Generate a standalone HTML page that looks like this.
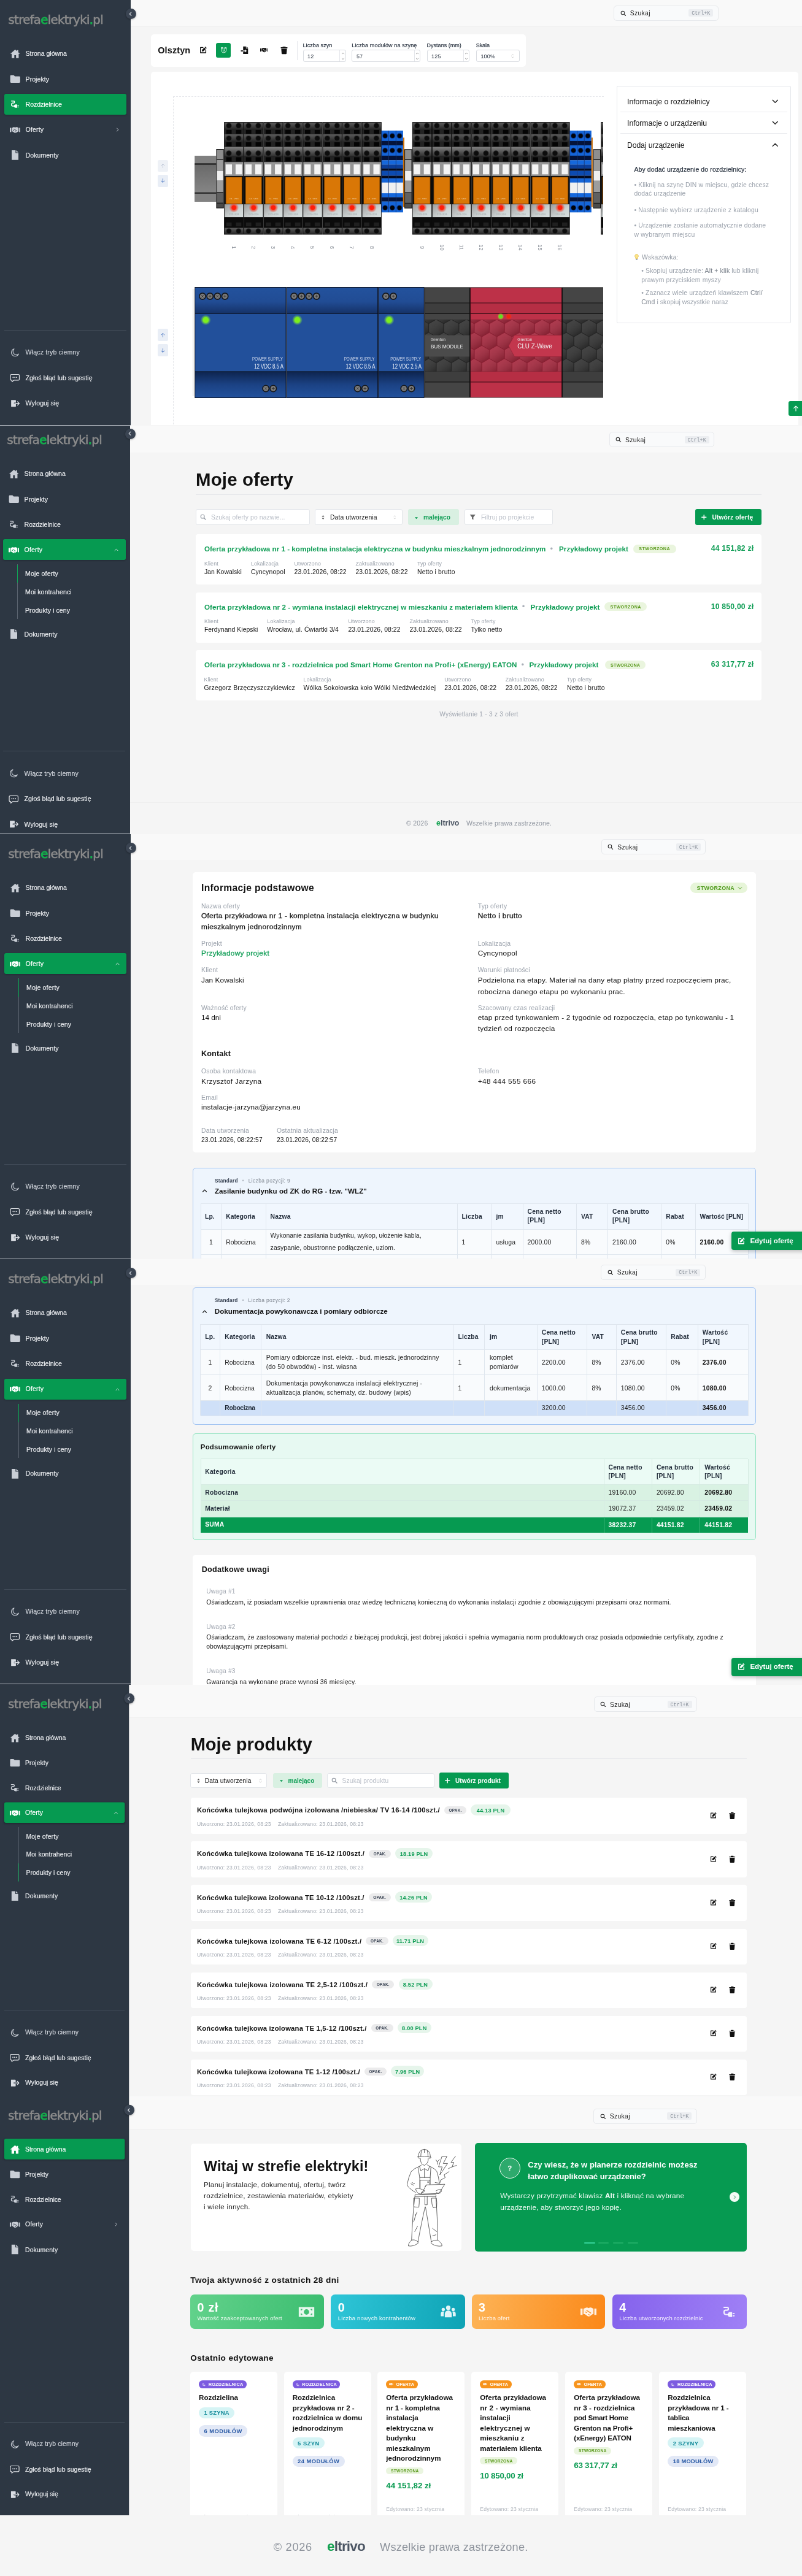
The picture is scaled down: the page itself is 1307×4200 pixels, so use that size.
<!DOCTYPE html><html lang="pl"><head><meta charset="utf-8"><title>strefaelektryki.pl</title><style>
html,body{margin:0;padding:0}
body{width:1307px;height:4200px;position:relative;overflow:hidden;background:#f5f5f5;font-family:'Liberation Sans','Noto Sans CJK SC',sans-serif;-webkit-font-smoothing:antialiased}
.a{position:absolute;display:block}
.t{position:absolute;white-space:nowrap;display:block}
.sec{position:absolute;left:0;width:1307px;overflow:hidden;will-change:transform}
.ft{position:absolute;left:0;top:4101px;width:1307px;height:99px;will-change:transform}
.fr{position:absolute;transform-origin:0 0;width:1340px}
</style></head><body><div class="sec" style="top:0.0px;height:693.2px"><div class="fr" style="left:0.0px;top:0.0px;"><div class="a" style="left:213.4px;top:0.0px;width:1100.0px;height:43.4px;background:#f9f9f9;border-bottom:1px solid #efefef;"></div><div class="a" style="left:1000.3px;top:8.7px;width:170.5px;height:25.2px;background:#f9fafb;border-radius:5px;border:1px solid #e7e9ec;box-sizing:border-box;"></div><svg class="a" style="left:1010.8px;top:16.5px;" width="9.6" height="9.6" viewBox="0 0 16 16"><circle fill="none" stroke="#2a2a2a" stroke-linecap="round" stroke-linejoin="round" stroke-width="1.7" cx="6.6" cy="6.6" r="4.7"/><path fill="none" stroke="#2a2a2a" stroke-linecap="round" stroke-linejoin="round" stroke-width="2" d="M10.3 10.3 L14.4 14.4"/></svg><span class="t" style="letter-spacing:0.302px;top:14px;font-size:10.4px;line-height:15px;color:#222;left:1026.8px;">Szukaj</span><div class="a" style="left:1122.3px;top:15.3px;width:40.0px;height:12.0px;background:#eceef1;border-radius:2px;"></div><span class="t" style="top:15px;font-size:8.4px;line-height:14px;color:#8b929c;left:1142.3px;transform:translateX(-50%);font-family:'Liberation Mono',monospace;">Ctrl+K</span><div class="a" style="left:245.8px;top:55.9px;width:610.8px;height:52.8px;background:#fff;border-radius:5px;"></div><span class="t" style="letter-spacing:0.131px;top:72px;font-size:14.4px;line-height:20px;color:#111;font-weight:700;left:257.3px;">Olsztyn</span><svg class="a" style="left:324.8px;top:75.4px;" width="12.8" height="12.8" viewBox="0 0 16 16"><path fill="#111" d="M11.9 1.1 L14.9 4.1 L13.6 5.4 L10.6 2.4 Z M9.9 3.1 L12.9 6.1 L8.3 10.7 L4.9 11.3 L5.4 7.7 Z"/><path fill="none" stroke="#111" stroke-linecap="round" stroke-linejoin="round" stroke-width="1.7" stroke-linecap="butt" d="M7.2 3 H2.2 V13.8 H13 V8.8"/></svg><div class="a" style="left:352.1px;top:69.9px;width:24.4px;height:23.7px;background:#069a51;border-radius:3px;"></div><svg class="a" style="left:358.5px;top:76.4px;" width="11.6" height="11.6" viewBox="0 0 16 16"><path fill="none" stroke="#fff" stroke-linecap="round" stroke-linejoin="round" stroke-width="1.1" stroke-linecap="butt" d="M2.6 2 H6 V8.2 a2 2 0 0 0 4 0 V2 H13.4 V8.2 a5.4 5.4 0 0 1-10.8 0 Z M2.6 4.6 H6 M10 4.6 H13.4"/></svg><svg class="a" style="left:391.6px;top:75.1px;" width="13.6" height="13.6" viewBox="0 0 16 16"><path fill="#111" d="M5 0.8 h5.4 v4 h4 V15.2 H5 V10.4 h3.4 v2 l3.6-3 l-3.6-3 v2 H5 Z M11.4 0.8 L14.4 3.8 H11.4 Z"/><rect fill="#111" x="0.6" y="8.4" width="4.4" height="2"/></svg><svg class="a" style="left:423.6px;top:75.2px;" width="12.8" height="12.8" viewBox="0 0 16 16"><rect fill="#111" x="0" y="4.9" width="2.1" height="6.4"/><rect fill="#111" x="13.9" y="4.9" width="2.1" height="6.4"/><path fill="#111" fill-rule="evenodd" d="M3 5.09 L5.6 3.96 Q6.4 3.7 7.2 4.05 L8 4.4 L9.6 3.87 Q10.3 3.7 11 3.96 L13 5.09 V10.4 H12.3 L9.5 12.4 Q8.3 13.1 7.1 12.4 L4.3 10.4 H3 Z M5.7 6.92 L6.3 6.31 L10.9 9.27 L10.3 9.88 Z M7.6 10.84 L8.1 10.31 L9.7 11.36 L9.2 11.88 Z M4.6 8.4 L5.2 7.88 L6.6 8.92 L6 9.44 Z"/></svg><svg class="a" style="left:455.7px;top:74.9px;" width="14" height="14" viewBox="0 0 16 16"><path fill="#111" d="M5.6 1 h4.8 l.7 1.4 h3.1 v1.8 H1.8 V2.4 h3.1 Z M2.7 5.2 h10.6 l-.7 8.8 a1.3 1.3 0 0 1-1.3 1.2 H4.7 a1.3 1.3 0 0 1-1.3-1.2 Z"/></svg><div class="a" style="left:483.6px;top:66.6px;width:1.0px;height:31.8px;background:#e5e7eb;"></div><span class="t" style="letter-spacing:0.079px;top:67px;font-size:9px;line-height:14px;color:#1f2937;font-weight:500;left:493.5px;-webkit-text-stroke:0.15px #1f2937;">Liczba szyn</span><div class="a" style="left:493.5px;top:81.4px;width:70.3px;height:19.6px;background:#fff;border-radius:3px;border:1px solid #d9dce1;box-sizing:border-box;"></div><span class="t" style="top:85px;font-size:9px;line-height:14px;color:#1f2937;left:501.1px;letter-spacing:0.2px;">12</span><div class="a" style="left:553.3px;top:82.4px;width:1.0px;height:17.6px;background:#e5e7eb;"></div><svg class="a" style="left:555.5px;top:84.2px;" width="6" height="6" viewBox="0 0 16 16"><path fill="none" stroke="#555" stroke-linecap="round" stroke-linejoin="round" stroke-width="1.6" d="M3.6 10.2 L8 5.8 L12.4 10.2"/></svg><svg class="a" style="left:555.5px;top:92.6px;" width="6" height="6" viewBox="0 0 16 16"><path fill="none" stroke="#555" stroke-linecap="round" stroke-linejoin="round" stroke-width="1.6" d="M3.6 5.8 L8 10.2 L12.4 5.8"/></svg><span class="t" style="letter-spacing:0.136px;top:67px;font-size:9px;line-height:14px;color:#1f2937;font-weight:500;left:573.3px;-webkit-text-stroke:0.15px #1f2937;">Liczba modułów na szynę</span><div class="a" style="left:573.3px;top:81.4px;width:112.2px;height:19.6px;background:#fff;border-radius:3px;border:1px solid #d9dce1;box-sizing:border-box;"></div><span class="t" style="top:85px;font-size:9px;line-height:14px;color:#1f2937;left:580.9px;letter-spacing:0.2px;">57</span><div class="a" style="left:675.0px;top:82.4px;width:1.0px;height:17.6px;background:#e5e7eb;"></div><svg class="a" style="left:677.2px;top:84.2px;" width="6" height="6" viewBox="0 0 16 16"><path fill="none" stroke="#555" stroke-linecap="round" stroke-linejoin="round" stroke-width="1.6" d="M3.6 10.2 L8 5.8 L12.4 10.2"/></svg><svg class="a" style="left:677.2px;top:92.6px;" width="6" height="6" viewBox="0 0 16 16"><path fill="none" stroke="#555" stroke-linecap="round" stroke-linejoin="round" stroke-width="1.6" d="M3.6 5.8 L8 10.2 L12.4 5.8"/></svg><span class="t" style="letter-spacing:0.025px;top:67px;font-size:9px;line-height:14px;color:#1f2937;font-weight:500;left:695.5px;-webkit-text-stroke:0.15px #1f2937;">Dystans (mm)</span><div class="a" style="left:695.5px;top:81.4px;width:69.8px;height:19.6px;background:#fff;border-radius:3px;border:1px solid #d9dce1;box-sizing:border-box;"></div><span class="t" style="top:85px;font-size:9px;line-height:14px;color:#1f2937;left:703.1px;letter-spacing:0.2px;">125</span><div class="a" style="left:754.8px;top:82.4px;width:1.0px;height:17.6px;background:#e5e7eb;"></div><svg class="a" style="left:757.0px;top:84.2px;" width="6" height="6" viewBox="0 0 16 16"><path fill="none" stroke="#555" stroke-linecap="round" stroke-linejoin="round" stroke-width="1.6" d="M3.6 10.2 L8 5.8 L12.4 10.2"/></svg><svg class="a" style="left:757.0px;top:92.6px;" width="6" height="6" viewBox="0 0 16 16"><path fill="none" stroke="#555" stroke-linecap="round" stroke-linejoin="round" stroke-width="1.6" d="M3.6 5.8 L8 10.2 L12.4 5.8"/></svg><span class="t" style="letter-spacing:-0.103px;top:67px;font-size:9px;line-height:14px;color:#1f2937;font-weight:500;left:775.8px;-webkit-text-stroke:0.15px #1f2937;">Skala</span><div class="a" style="left:775.8px;top:81.4px;width:70.8px;height:19.6px;background:#fff;border-radius:3px;border:1px solid #d9dce1;box-sizing:border-box;"></div><span class="t" style="top:85px;font-size:9px;line-height:14px;color:#1f2937;left:783.4px;letter-spacing:0.2px;">100%</span><svg class="a" style="left:832.7px;top:87.0px;" width="4.8" height="4.8" viewBox="0 0 16 16"><path fill="none" stroke="#888" stroke-linecap="round" stroke-linejoin="round" stroke-width="1.6" d="M3.6 10.2 L8 5.8 L12.4 10.2"/></svg><svg class="a" style="left:832.7px;top:91.2px;" width="4.8" height="4.8" viewBox="0 0 16 16"><path fill="none" stroke="#888" stroke-linecap="round" stroke-linejoin="round" stroke-width="1.6" d="M3.6 5.8 L8 10.2 L12.4 5.8"/></svg><div class="a" style="left:245.8px;top:117.2px;width:1054.9px;height:600.0px;background:#fff;border-radius:5px;"></div><div class="a" style="left:281.8px;top:157.4px;width:702.4px;height:560.0px;border:1px dashed #e3e5e9;box-sizing:border-box;border-right:none;border-bottom:none;"></div><div class="a" style="left:257.3px;top:260.5px;width:16.6px;height:19.8px;background:#eef1f6;border-radius:2.5px;"></div><svg class="a" style="left:261.1px;top:265.9px;" width="9" height="9" viewBox="0 0 16 16"><path fill="none" stroke="#b4bfd1" stroke-linecap="round" stroke-linejoin="round" stroke-width="1.5" d="M8 13.4 V2.8 M3.6 7.2 L8 2.8 L12.4 7.2"/></svg><div class="a" style="left:257.3px;top:284.6px;width:16.6px;height:20.2px;background:#e9eef6;border-radius:2.5px;"></div><svg class="a" style="left:261.1px;top:290.2px;" width="9" height="9" viewBox="0 0 16 16"><path fill="none" stroke="#2b5fb8" stroke-linecap="round" stroke-linejoin="round" stroke-width="1.5" d="M8 2.6 V13.2 M3.6 8.8 L8 13.2 L12.4 8.8"/></svg><div class="a" style="left:257.3px;top:536.4px;width:16.6px;height:19.9px;background:#e9eef6;border-radius:2.5px;"></div><svg class="a" style="left:261.1px;top:541.8px;" width="9" height="9" viewBox="0 0 16 16"><path fill="none" stroke="#2b5fb8" stroke-linecap="round" stroke-linejoin="round" stroke-width="1.5" d="M8 13.4 V2.8 M3.6 7.2 L8 2.8 L12.4 7.2"/></svg><div class="a" style="left:257.3px;top:561.1px;width:16.6px;height:20.3px;background:#e9eef6;border-radius:2.5px;"></div><svg class="a" style="left:261.1px;top:566.8px;" width="9" height="9" viewBox="0 0 16 16"><path fill="none" stroke="#2b5fb8" stroke-linecap="round" stroke-linejoin="round" stroke-width="1.5" d="M8 2.6 V13.2 M3.6 8.8 L8 13.2 L12.4 8.8"/></svg><svg class="a" style="left:282px;top:158px" width="700.7" height="536" viewBox="282 158 700.7 536"><linearGradient id="gA" x1="0" y1="0" x2="0" y2="1"><stop offset="0" stop-color="#5c5c5c"/><stop offset="1" stop-color="#262626"/></linearGradient><linearGradient id="gB" x1="0" y1="0" x2="0" y2="1"><stop offset="0" stop-color="#808080"/><stop offset="1" stop-color="#2a2a2a"/></linearGradient><linearGradient id="gS" x1="0" y1="0" x2="1" y2="1"><stop offset="0" stop-color="#9c9c9c"/><stop offset="0.6" stop-color="#cdd3d3"/><stop offset="1" stop-color="#d8e0e0"/></linearGradient><radialGradient id="gR"><stop offset="0.35" stop-color="#ff2a12" stop-opacity="0.95"/><stop offset="1" stop-color="#ff2a12" stop-opacity="0"/></radialGradient><radialGradient id="gG"><stop offset="0.4" stop-color="#8cff2a" stop-opacity="0.9"/><stop offset="1" stop-color="#8cff2a" stop-opacity="0"/></radialGradient><linearGradient id="gP1" x1="0" y1="0" x2="0" y2="1"><stop offset="0" stop-color="#23529d"/><stop offset="0.55" stop-color="#214c94"/><stop offset="1" stop-color="#153268"/></linearGradient><linearGradient id="gP2" x1="0" y1="0" x2="0" y2="1"><stop offset="0" stop-color="#0e2550"/><stop offset="0.5" stop-color="#1b4284"/><stop offset="1" stop-color="#23519c"/></linearGradient><linearGradient id="gHex" x1="0" y1="0" x2="0.6" y2="1"><stop offset="0" stop-color="#fff" stop-opacity="0.07"/><stop offset="1" stop-color="#000" stop-opacity="0.22"/></linearGradient><linearGradient id="gRail" x1="0" y1="0" x2="0" y2="1"><stop offset="0" stop-color="#6a6a6a"/><stop offset="1" stop-color="#858585"/></linearGradient><rect x="317.2" y="253.9" width="35.2" height="74.9" fill="#808080"/><rect x="317.2" y="266.4" width="35.2" height="2.3" fill="#111"/><rect x="317.2" y="268.7" width="35.2" height="45.1" fill="url(#gRail)"/><rect x="317.2" y="313.8" width="35.2" height="2" fill="#111"/><rect x="317.2" y="315.8" width="35.2" height="13" fill="#828282"/><rect x="352.40" y="243.00" width="12.4" height="96.6" fill="#0d0d0d"/><rect x="353.40" y="244.00" width="10.4" height="15.60" fill="#8e8e8e"/><rect x="353.40" y="260.80" width="10.4" height="17.80" fill="#9b9b9b"/><rect x="353.40" y="278.60" width="10.4" height="16.00" fill="#f0f0f0"/><rect x="353.40" y="294.60" width="10.4" height="18.60" fill="#9d9d9d"/><rect x="353.40" y="314.20" width="10.4" height="16.40" fill="#606060"/><rect x="353.40" y="331.60" width="10.4" height="7.00" fill="#4a4a4a"/><rect x="365.10" y="199.10" width="32.1" height="183.4" fill="#0b0b0b"/><rect x="365.90" y="199.90" width="30.50" height="11.10" fill="url(#gA)"/><circle cx="373.00" cy="205.00" r="4.7" fill="#2a2a2a"/><circle cx="373.00" cy="205.00" r="3.7" fill="#0c0c0c"/><circle cx="388.80" cy="205.00" r="4.7" fill="#2a2a2a"/><circle cx="388.80" cy="205.00" r="3.7" fill="#0c0c0c"/><rect x="365.90" y="218.80" width="30.50" height="12.20" fill="url(#gA)"/><circle cx="373.00" cy="225.60" r="4.7" fill="#2a2a2a"/><circle cx="373.00" cy="225.60" r="3.7" fill="#0c0c0c"/><circle cx="388.80" cy="225.60" r="4.7" fill="#2a2a2a"/><circle cx="388.80" cy="225.60" r="3.7" fill="#0c0c0c"/><rect x="365.90" y="239.40" width="30.50" height="16.10" fill="url(#gB)"/><circle cx="373.00" cy="250.00" r="4.7" fill="#2a2a2a"/><circle cx="373.00" cy="250.00" r="3.7" fill="#0c0c0c"/><circle cx="388.80" cy="250.00" r="4.7" fill="#2a2a2a"/><circle cx="388.80" cy="250.00" r="3.7" fill="#0c0c0c"/><rect x="365.90" y="211.00" width="30.50" height="7.80" fill="#232323"/><rect x="368.70" y="211.90" width="8.8" height="6.00" fill="#040404"/><rect x="384.50" y="211.90" width="8.8" height="6.00" fill="#040404"/><rect x="365.90" y="231.00" width="30.50" height="8.40" fill="#232323"/><rect x="368.70" y="231.90" width="8.8" height="6.60" fill="#040404"/><rect x="384.50" y="231.90" width="8.8" height="6.60" fill="#040404"/><rect x="365.90" y="255.50" width="30.50" height="8.70" fill="#232323"/><rect x="368.70" y="256.40" width="8.8" height="6.90" fill="#040404"/><rect x="384.50" y="256.40" width="8.8" height="6.90" fill="#040404"/><rect x="365.90" y="264.20" width="30.50" height="22.7" fill="#969696"/><rect x="367.80" y="268.10" width="10.2" height="16.2" fill="#f4f4f4"/><rect x="383.90" y="268.10" width="10.2" height="16.2" fill="#f4f4f4"/><rect x="367.50" y="288.30" width="27.30" height="44.4" fill="#5a3206"/><rect x="368.40" y="289.10" width="25.50" height="43" fill="#d97706"/><text x="381.15" y="325.10" font-size="4.4" fill="#efd2a8" text-anchor="middle" font-family="Liberation Mono,monospace">24 VDC</text><rect x="365.90" y="333.10" width="30.50" height="21" fill="url(#gS)"/><text x="381.15" y="350.70" font-size="4.6" fill="#a9b3b3" text-anchor="middle" font-family="Liberation Sans,sans-serif">039-304</text><circle cx="381.15" cy="338.50" r="8" fill="url(#gR)"/><circle cx="381.15" cy="338.50" r="3.6" fill="#ff1d0a"/><rect x="368.70" y="362.70" width="8.8" height="6.4" fill="#1f1f1f"/><rect x="384.50" y="362.70" width="8.8" height="6.4" fill="#1f1f1f"/><rect x="365.90" y="371.50" width="30.50" height="10.4" fill="url(#gA)"/><circle cx="373.00" cy="376.80" r="4.5" fill="#2a2a2a"/><circle cx="373.00" cy="376.80" r="3.6" fill="#0c0c0c"/><circle cx="388.80" cy="376.80" r="4.5" fill="#2a2a2a"/><circle cx="388.80" cy="376.80" r="3.6" fill="#0c0c0c"/><rect x="397.19" y="199.10" width="32.1" height="183.4" fill="#0b0b0b"/><rect x="397.99" y="199.90" width="30.50" height="11.10" fill="url(#gA)"/><circle cx="405.09" cy="205.00" r="4.7" fill="#2a2a2a"/><circle cx="405.09" cy="205.00" r="3.7" fill="#0c0c0c"/><circle cx="420.89" cy="205.00" r="4.7" fill="#2a2a2a"/><circle cx="420.89" cy="205.00" r="3.7" fill="#0c0c0c"/><rect x="397.99" y="218.80" width="30.50" height="12.20" fill="url(#gA)"/><circle cx="405.09" cy="225.60" r="4.7" fill="#2a2a2a"/><circle cx="405.09" cy="225.60" r="3.7" fill="#0c0c0c"/><circle cx="420.89" cy="225.60" r="4.7" fill="#2a2a2a"/><circle cx="420.89" cy="225.60" r="3.7" fill="#0c0c0c"/><rect x="397.99" y="239.40" width="30.50" height="16.10" fill="url(#gB)"/><circle cx="405.09" cy="250.00" r="4.7" fill="#2a2a2a"/><circle cx="405.09" cy="250.00" r="3.7" fill="#0c0c0c"/><circle cx="420.89" cy="250.00" r="4.7" fill="#2a2a2a"/><circle cx="420.89" cy="250.00" r="3.7" fill="#0c0c0c"/><rect x="397.99" y="211.00" width="30.50" height="7.80" fill="#232323"/><rect x="400.79" y="211.90" width="8.8" height="6.00" fill="#040404"/><rect x="416.59" y="211.90" width="8.8" height="6.00" fill="#040404"/><rect x="397.99" y="231.00" width="30.50" height="8.40" fill="#232323"/><rect x="400.79" y="231.90" width="8.8" height="6.60" fill="#040404"/><rect x="416.59" y="231.90" width="8.8" height="6.60" fill="#040404"/><rect x="397.99" y="255.50" width="30.50" height="8.70" fill="#232323"/><rect x="400.79" y="256.40" width="8.8" height="6.90" fill="#040404"/><rect x="416.59" y="256.40" width="8.8" height="6.90" fill="#040404"/><rect x="397.99" y="264.20" width="30.50" height="22.7" fill="#969696"/><rect x="399.89" y="268.10" width="10.2" height="16.2" fill="#f4f4f4"/><rect x="415.99" y="268.10" width="10.2" height="16.2" fill="#f4f4f4"/><rect x="399.59" y="288.30" width="27.30" height="44.4" fill="#5a3206"/><rect x="400.49" y="289.10" width="25.50" height="43" fill="#d97706"/><text x="413.24" y="325.10" font-size="4.4" fill="#efd2a8" text-anchor="middle" font-family="Liberation Mono,monospace">24 VDC</text><rect x="397.99" y="333.10" width="30.50" height="21" fill="url(#gS)"/><text x="413.24" y="350.70" font-size="4.6" fill="#a9b3b3" text-anchor="middle" font-family="Liberation Sans,sans-serif">039-304</text><circle cx="413.24" cy="338.50" r="8" fill="url(#gR)"/><circle cx="413.24" cy="338.50" r="3.6" fill="#ff1d0a"/><rect x="400.79" y="362.70" width="8.8" height="6.4" fill="#1f1f1f"/><rect x="416.59" y="362.70" width="8.8" height="6.4" fill="#1f1f1f"/><rect x="397.99" y="371.50" width="30.50" height="10.4" fill="url(#gA)"/><circle cx="405.09" cy="376.80" r="4.5" fill="#2a2a2a"/><circle cx="405.09" cy="376.80" r="3.6" fill="#0c0c0c"/><circle cx="420.89" cy="376.80" r="4.5" fill="#2a2a2a"/><circle cx="420.89" cy="376.80" r="3.6" fill="#0c0c0c"/><rect x="429.28" y="199.10" width="32.1" height="183.4" fill="#0b0b0b"/><rect x="430.08" y="199.90" width="30.50" height="11.10" fill="url(#gA)"/><circle cx="437.18" cy="205.00" r="4.7" fill="#2a2a2a"/><circle cx="437.18" cy="205.00" r="3.7" fill="#0c0c0c"/><circle cx="452.98" cy="205.00" r="4.7" fill="#2a2a2a"/><circle cx="452.98" cy="205.00" r="3.7" fill="#0c0c0c"/><rect x="430.08" y="218.80" width="30.50" height="12.20" fill="url(#gA)"/><circle cx="437.18" cy="225.60" r="4.7" fill="#2a2a2a"/><circle cx="437.18" cy="225.60" r="3.7" fill="#0c0c0c"/><circle cx="452.98" cy="225.60" r="4.7" fill="#2a2a2a"/><circle cx="452.98" cy="225.60" r="3.7" fill="#0c0c0c"/><rect x="430.08" y="239.40" width="30.50" height="16.10" fill="url(#gB)"/><circle cx="437.18" cy="250.00" r="4.7" fill="#2a2a2a"/><circle cx="437.18" cy="250.00" r="3.7" fill="#0c0c0c"/><circle cx="452.98" cy="250.00" r="4.7" fill="#2a2a2a"/><circle cx="452.98" cy="250.00" r="3.7" fill="#0c0c0c"/><rect x="430.08" y="211.00" width="30.50" height="7.80" fill="#232323"/><rect x="432.88" y="211.90" width="8.8" height="6.00" fill="#040404"/><rect x="448.68" y="211.90" width="8.8" height="6.00" fill="#040404"/><rect x="430.08" y="231.00" width="30.50" height="8.40" fill="#232323"/><rect x="432.88" y="231.90" width="8.8" height="6.60" fill="#040404"/><rect x="448.68" y="231.90" width="8.8" height="6.60" fill="#040404"/><rect x="430.08" y="255.50" width="30.50" height="8.70" fill="#232323"/><rect x="432.88" y="256.40" width="8.8" height="6.90" fill="#040404"/><rect x="448.68" y="256.40" width="8.8" height="6.90" fill="#040404"/><rect x="430.08" y="264.20" width="30.50" height="22.7" fill="#969696"/><rect x="431.98" y="268.10" width="10.2" height="16.2" fill="#f4f4f4"/><rect x="448.08" y="268.10" width="10.2" height="16.2" fill="#f4f4f4"/><rect x="431.68" y="288.30" width="27.30" height="44.4" fill="#5a3206"/><rect x="432.58" y="289.10" width="25.50" height="43" fill="#d97706"/><text x="445.33" y="325.10" font-size="4.4" fill="#efd2a8" text-anchor="middle" font-family="Liberation Mono,monospace">24 VDC</text><rect x="430.08" y="333.10" width="30.50" height="21" fill="url(#gS)"/><text x="445.33" y="350.70" font-size="4.6" fill="#a9b3b3" text-anchor="middle" font-family="Liberation Sans,sans-serif">039-304</text><circle cx="445.33" cy="338.50" r="8" fill="url(#gR)"/><circle cx="445.33" cy="338.50" r="3.6" fill="#ff1d0a"/><rect x="432.88" y="362.70" width="8.8" height="6.4" fill="#1f1f1f"/><rect x="448.68" y="362.70" width="8.8" height="6.4" fill="#1f1f1f"/><rect x="430.08" y="371.50" width="30.50" height="10.4" fill="url(#gA)"/><circle cx="437.18" cy="376.80" r="4.5" fill="#2a2a2a"/><circle cx="437.18" cy="376.80" r="3.6" fill="#0c0c0c"/><circle cx="452.98" cy="376.80" r="4.5" fill="#2a2a2a"/><circle cx="452.98" cy="376.80" r="3.6" fill="#0c0c0c"/><rect x="461.37" y="199.10" width="32.1" height="183.4" fill="#0b0b0b"/><rect x="462.17" y="199.90" width="30.50" height="11.10" fill="url(#gA)"/><circle cx="469.27" cy="205.00" r="4.7" fill="#2a2a2a"/><circle cx="469.27" cy="205.00" r="3.7" fill="#0c0c0c"/><circle cx="485.07" cy="205.00" r="4.7" fill="#2a2a2a"/><circle cx="485.07" cy="205.00" r="3.7" fill="#0c0c0c"/><rect x="462.17" y="218.80" width="30.50" height="12.20" fill="url(#gA)"/><circle cx="469.27" cy="225.60" r="4.7" fill="#2a2a2a"/><circle cx="469.27" cy="225.60" r="3.7" fill="#0c0c0c"/><circle cx="485.07" cy="225.60" r="4.7" fill="#2a2a2a"/><circle cx="485.07" cy="225.60" r="3.7" fill="#0c0c0c"/><rect x="462.17" y="239.40" width="30.50" height="16.10" fill="url(#gB)"/><circle cx="469.27" cy="250.00" r="4.7" fill="#2a2a2a"/><circle cx="469.27" cy="250.00" r="3.7" fill="#0c0c0c"/><circle cx="485.07" cy="250.00" r="4.7" fill="#2a2a2a"/><circle cx="485.07" cy="250.00" r="3.7" fill="#0c0c0c"/><rect x="462.17" y="211.00" width="30.50" height="7.80" fill="#232323"/><rect x="464.97" y="211.90" width="8.8" height="6.00" fill="#040404"/><rect x="480.77" y="211.90" width="8.8" height="6.00" fill="#040404"/><rect x="462.17" y="231.00" width="30.50" height="8.40" fill="#232323"/><rect x="464.97" y="231.90" width="8.8" height="6.60" fill="#040404"/><rect x="480.77" y="231.90" width="8.8" height="6.60" fill="#040404"/><rect x="462.17" y="255.50" width="30.50" height="8.70" fill="#232323"/><rect x="464.97" y="256.40" width="8.8" height="6.90" fill="#040404"/><rect x="480.77" y="256.40" width="8.8" height="6.90" fill="#040404"/><rect x="462.17" y="264.20" width="30.50" height="22.7" fill="#969696"/><rect x="464.07" y="268.10" width="10.2" height="16.2" fill="#f4f4f4"/><rect x="480.17" y="268.10" width="10.2" height="16.2" fill="#f4f4f4"/><rect x="463.77" y="288.30" width="27.30" height="44.4" fill="#5a3206"/><rect x="464.67" y="289.10" width="25.50" height="43" fill="#d97706"/><text x="477.42" y="325.10" font-size="4.4" fill="#efd2a8" text-anchor="middle" font-family="Liberation Mono,monospace">24 VDC</text><rect x="462.17" y="333.10" width="30.50" height="21" fill="url(#gS)"/><text x="477.42" y="350.70" font-size="4.6" fill="#a9b3b3" text-anchor="middle" font-family="Liberation Sans,sans-serif">039-304</text><circle cx="477.42" cy="338.50" r="8" fill="url(#gR)"/><circle cx="477.42" cy="338.50" r="3.6" fill="#ff1d0a"/><rect x="464.97" y="362.70" width="8.8" height="6.4" fill="#1f1f1f"/><rect x="480.77" y="362.70" width="8.8" height="6.4" fill="#1f1f1f"/><rect x="462.17" y="371.50" width="30.50" height="10.4" fill="url(#gA)"/><circle cx="469.27" cy="376.80" r="4.5" fill="#2a2a2a"/><circle cx="469.27" cy="376.80" r="3.6" fill="#0c0c0c"/><circle cx="485.07" cy="376.80" r="4.5" fill="#2a2a2a"/><circle cx="485.07" cy="376.80" r="3.6" fill="#0c0c0c"/><rect x="493.46" y="199.10" width="32.1" height="183.4" fill="#0b0b0b"/><rect x="494.26" y="199.90" width="30.50" height="11.10" fill="url(#gA)"/><circle cx="501.36" cy="205.00" r="4.7" fill="#2a2a2a"/><circle cx="501.36" cy="205.00" r="3.7" fill="#0c0c0c"/><circle cx="517.16" cy="205.00" r="4.7" fill="#2a2a2a"/><circle cx="517.16" cy="205.00" r="3.7" fill="#0c0c0c"/><rect x="494.26" y="218.80" width="30.50" height="12.20" fill="url(#gA)"/><circle cx="501.36" cy="225.60" r="4.7" fill="#2a2a2a"/><circle cx="501.36" cy="225.60" r="3.7" fill="#0c0c0c"/><circle cx="517.16" cy="225.60" r="4.7" fill="#2a2a2a"/><circle cx="517.16" cy="225.60" r="3.7" fill="#0c0c0c"/><rect x="494.26" y="239.40" width="30.50" height="16.10" fill="url(#gB)"/><circle cx="501.36" cy="250.00" r="4.7" fill="#2a2a2a"/><circle cx="501.36" cy="250.00" r="3.7" fill="#0c0c0c"/><circle cx="517.16" cy="250.00" r="4.7" fill="#2a2a2a"/><circle cx="517.16" cy="250.00" r="3.7" fill="#0c0c0c"/><rect x="494.26" y="211.00" width="30.50" height="7.80" fill="#232323"/><rect x="497.06" y="211.90" width="8.8" height="6.00" fill="#040404"/><rect x="512.86" y="211.90" width="8.8" height="6.00" fill="#040404"/><rect x="494.26" y="231.00" width="30.50" height="8.40" fill="#232323"/><rect x="497.06" y="231.90" width="8.8" height="6.60" fill="#040404"/><rect x="512.86" y="231.90" width="8.8" height="6.60" fill="#040404"/><rect x="494.26" y="255.50" width="30.50" height="8.70" fill="#232323"/><rect x="497.06" y="256.40" width="8.8" height="6.90" fill="#040404"/><rect x="512.86" y="256.40" width="8.8" height="6.90" fill="#040404"/><rect x="494.26" y="264.20" width="30.50" height="22.7" fill="#969696"/><rect x="496.16" y="268.10" width="10.2" height="16.2" fill="#f4f4f4"/><rect x="512.26" y="268.10" width="10.2" height="16.2" fill="#f4f4f4"/><rect x="495.86" y="288.30" width="27.30" height="44.4" fill="#5a3206"/><rect x="496.76" y="289.10" width="25.50" height="43" fill="#d97706"/><text x="509.51" y="325.10" font-size="4.4" fill="#efd2a8" text-anchor="middle" font-family="Liberation Mono,monospace">24 VDC</text><rect x="494.26" y="333.10" width="30.50" height="21" fill="url(#gS)"/><text x="509.51" y="350.70" font-size="4.6" fill="#a9b3b3" text-anchor="middle" font-family="Liberation Sans,sans-serif">039-304</text><circle cx="509.51" cy="338.50" r="8" fill="url(#gR)"/><circle cx="509.51" cy="338.50" r="3.6" fill="#ff1d0a"/><rect x="497.06" y="362.70" width="8.8" height="6.4" fill="#1f1f1f"/><rect x="512.86" y="362.70" width="8.8" height="6.4" fill="#1f1f1f"/><rect x="494.26" y="371.50" width="30.50" height="10.4" fill="url(#gA)"/><circle cx="501.36" cy="376.80" r="4.5" fill="#2a2a2a"/><circle cx="501.36" cy="376.80" r="3.6" fill="#0c0c0c"/><circle cx="517.16" cy="376.80" r="4.5" fill="#2a2a2a"/><circle cx="517.16" cy="376.80" r="3.6" fill="#0c0c0c"/><rect x="525.55" y="199.10" width="32.1" height="183.4" fill="#0b0b0b"/><rect x="526.35" y="199.90" width="30.50" height="11.10" fill="url(#gA)"/><circle cx="533.45" cy="205.00" r="4.7" fill="#2a2a2a"/><circle cx="533.45" cy="205.00" r="3.7" fill="#0c0c0c"/><circle cx="549.25" cy="205.00" r="4.7" fill="#2a2a2a"/><circle cx="549.25" cy="205.00" r="3.7" fill="#0c0c0c"/><rect x="526.35" y="218.80" width="30.50" height="12.20" fill="url(#gA)"/><circle cx="533.45" cy="225.60" r="4.7" fill="#2a2a2a"/><circle cx="533.45" cy="225.60" r="3.7" fill="#0c0c0c"/><circle cx="549.25" cy="225.60" r="4.7" fill="#2a2a2a"/><circle cx="549.25" cy="225.60" r="3.7" fill="#0c0c0c"/><rect x="526.35" y="239.40" width="30.50" height="16.10" fill="url(#gB)"/><circle cx="533.45" cy="250.00" r="4.7" fill="#2a2a2a"/><circle cx="533.45" cy="250.00" r="3.7" fill="#0c0c0c"/><circle cx="549.25" cy="250.00" r="4.7" fill="#2a2a2a"/><circle cx="549.25" cy="250.00" r="3.7" fill="#0c0c0c"/><rect x="526.35" y="211.00" width="30.50" height="7.80" fill="#232323"/><rect x="529.15" y="211.90" width="8.8" height="6.00" fill="#040404"/><rect x="544.95" y="211.90" width="8.8" height="6.00" fill="#040404"/><rect x="526.35" y="231.00" width="30.50" height="8.40" fill="#232323"/><rect x="529.15" y="231.90" width="8.8" height="6.60" fill="#040404"/><rect x="544.95" y="231.90" width="8.8" height="6.60" fill="#040404"/><rect x="526.35" y="255.50" width="30.50" height="8.70" fill="#232323"/><rect x="529.15" y="256.40" width="8.8" height="6.90" fill="#040404"/><rect x="544.95" y="256.40" width="8.8" height="6.90" fill="#040404"/><rect x="526.35" y="264.20" width="30.50" height="22.7" fill="#969696"/><rect x="528.25" y="268.10" width="10.2" height="16.2" fill="#f4f4f4"/><rect x="544.35" y="268.10" width="10.2" height="16.2" fill="#f4f4f4"/><rect x="527.95" y="288.30" width="27.30" height="44.4" fill="#5a3206"/><rect x="528.85" y="289.10" width="25.50" height="43" fill="#d97706"/><text x="541.60" y="325.10" font-size="4.4" fill="#efd2a8" text-anchor="middle" font-family="Liberation Mono,monospace">24 VDC</text><rect x="526.35" y="333.10" width="30.50" height="21" fill="url(#gS)"/><text x="541.60" y="350.70" font-size="4.6" fill="#a9b3b3" text-anchor="middle" font-family="Liberation Sans,sans-serif">039-304</text><circle cx="541.60" cy="338.50" r="8" fill="url(#gR)"/><circle cx="541.60" cy="338.50" r="3.6" fill="#ff1d0a"/><rect x="529.15" y="362.70" width="8.8" height="6.4" fill="#1f1f1f"/><rect x="544.95" y="362.70" width="8.8" height="6.4" fill="#1f1f1f"/><rect x="526.35" y="371.50" width="30.50" height="10.4" fill="url(#gA)"/><circle cx="533.45" cy="376.80" r="4.5" fill="#2a2a2a"/><circle cx="533.45" cy="376.80" r="3.6" fill="#0c0c0c"/><circle cx="549.25" cy="376.80" r="4.5" fill="#2a2a2a"/><circle cx="549.25" cy="376.80" r="3.6" fill="#0c0c0c"/><rect x="557.64" y="199.10" width="32.1" height="183.4" fill="#0b0b0b"/><rect x="558.44" y="199.90" width="30.50" height="11.10" fill="url(#gA)"/><circle cx="565.54" cy="205.00" r="4.7" fill="#2a2a2a"/><circle cx="565.54" cy="205.00" r="3.7" fill="#0c0c0c"/><circle cx="581.34" cy="205.00" r="4.7" fill="#2a2a2a"/><circle cx="581.34" cy="205.00" r="3.7" fill="#0c0c0c"/><rect x="558.44" y="218.80" width="30.50" height="12.20" fill="url(#gA)"/><circle cx="565.54" cy="225.60" r="4.7" fill="#2a2a2a"/><circle cx="565.54" cy="225.60" r="3.7" fill="#0c0c0c"/><circle cx="581.34" cy="225.60" r="4.7" fill="#2a2a2a"/><circle cx="581.34" cy="225.60" r="3.7" fill="#0c0c0c"/><rect x="558.44" y="239.40" width="30.50" height="16.10" fill="url(#gB)"/><circle cx="565.54" cy="250.00" r="4.7" fill="#2a2a2a"/><circle cx="565.54" cy="250.00" r="3.7" fill="#0c0c0c"/><circle cx="581.34" cy="250.00" r="4.7" fill="#2a2a2a"/><circle cx="581.34" cy="250.00" r="3.7" fill="#0c0c0c"/><rect x="558.44" y="211.00" width="30.50" height="7.80" fill="#232323"/><rect x="561.24" y="211.90" width="8.8" height="6.00" fill="#040404"/><rect x="577.04" y="211.90" width="8.8" height="6.00" fill="#040404"/><rect x="558.44" y="231.00" width="30.50" height="8.40" fill="#232323"/><rect x="561.24" y="231.90" width="8.8" height="6.60" fill="#040404"/><rect x="577.04" y="231.90" width="8.8" height="6.60" fill="#040404"/><rect x="558.44" y="255.50" width="30.50" height="8.70" fill="#232323"/><rect x="561.24" y="256.40" width="8.8" height="6.90" fill="#040404"/><rect x="577.04" y="256.40" width="8.8" height="6.90" fill="#040404"/><rect x="558.44" y="264.20" width="30.50" height="22.7" fill="#969696"/><rect x="560.34" y="268.10" width="10.2" height="16.2" fill="#f4f4f4"/><rect x="576.44" y="268.10" width="10.2" height="16.2" fill="#f4f4f4"/><rect x="560.04" y="288.30" width="27.30" height="44.4" fill="#5a3206"/><rect x="560.94" y="289.10" width="25.50" height="43" fill="#d97706"/><text x="573.69" y="325.10" font-size="4.4" fill="#efd2a8" text-anchor="middle" font-family="Liberation Mono,monospace">24 VDC</text><rect x="558.44" y="333.10" width="30.50" height="21" fill="url(#gS)"/><text x="573.69" y="350.70" font-size="4.6" fill="#a9b3b3" text-anchor="middle" font-family="Liberation Sans,sans-serif">039-304</text><circle cx="573.69" cy="338.50" r="8" fill="url(#gR)"/><circle cx="573.69" cy="338.50" r="3.6" fill="#ff1d0a"/><rect x="561.24" y="362.70" width="8.8" height="6.4" fill="#1f1f1f"/><rect x="577.04" y="362.70" width="8.8" height="6.4" fill="#1f1f1f"/><rect x="558.44" y="371.50" width="30.50" height="10.4" fill="url(#gA)"/><circle cx="565.54" cy="376.80" r="4.5" fill="#2a2a2a"/><circle cx="565.54" cy="376.80" r="3.6" fill="#0c0c0c"/><circle cx="581.34" cy="376.80" r="4.5" fill="#2a2a2a"/><circle cx="581.34" cy="376.80" r="3.6" fill="#0c0c0c"/><rect x="589.73" y="199.10" width="32.1" height="183.4" fill="#0b0b0b"/><rect x="590.53" y="199.90" width="30.50" height="11.10" fill="url(#gA)"/><circle cx="597.63" cy="205.00" r="4.7" fill="#2a2a2a"/><circle cx="597.63" cy="205.00" r="3.7" fill="#0c0c0c"/><circle cx="613.43" cy="205.00" r="4.7" fill="#2a2a2a"/><circle cx="613.43" cy="205.00" r="3.7" fill="#0c0c0c"/><rect x="590.53" y="218.80" width="30.50" height="12.20" fill="url(#gA)"/><circle cx="597.63" cy="225.60" r="4.7" fill="#2a2a2a"/><circle cx="597.63" cy="225.60" r="3.7" fill="#0c0c0c"/><circle cx="613.43" cy="225.60" r="4.7" fill="#2a2a2a"/><circle cx="613.43" cy="225.60" r="3.7" fill="#0c0c0c"/><rect x="590.53" y="239.40" width="30.50" height="16.10" fill="url(#gB)"/><circle cx="597.63" cy="250.00" r="4.7" fill="#2a2a2a"/><circle cx="597.63" cy="250.00" r="3.7" fill="#0c0c0c"/><circle cx="613.43" cy="250.00" r="4.7" fill="#2a2a2a"/><circle cx="613.43" cy="250.00" r="3.7" fill="#0c0c0c"/><rect x="590.53" y="211.00" width="30.50" height="7.80" fill="#232323"/><rect x="593.33" y="211.90" width="8.8" height="6.00" fill="#040404"/><rect x="609.13" y="211.90" width="8.8" height="6.00" fill="#040404"/><rect x="590.53" y="231.00" width="30.50" height="8.40" fill="#232323"/><rect x="593.33" y="231.90" width="8.8" height="6.60" fill="#040404"/><rect x="609.13" y="231.90" width="8.8" height="6.60" fill="#040404"/><rect x="590.53" y="255.50" width="30.50" height="8.70" fill="#232323"/><rect x="593.33" y="256.40" width="8.8" height="6.90" fill="#040404"/><rect x="609.13" y="256.40" width="8.8" height="6.90" fill="#040404"/><rect x="590.53" y="264.20" width="30.50" height="22.7" fill="#969696"/><rect x="592.43" y="268.10" width="10.2" height="16.2" fill="#f4f4f4"/><rect x="608.53" y="268.10" width="10.2" height="16.2" fill="#f4f4f4"/><rect x="592.13" y="288.30" width="27.30" height="44.4" fill="#5a3206"/><rect x="593.03" y="289.10" width="25.50" height="43" fill="#d97706"/><text x="605.78" y="325.10" font-size="4.4" fill="#efd2a8" text-anchor="middle" font-family="Liberation Mono,monospace">24 VDC</text><rect x="590.53" y="333.10" width="30.50" height="21" fill="url(#gS)"/><text x="605.78" y="350.70" font-size="4.6" fill="#a9b3b3" text-anchor="middle" font-family="Liberation Sans,sans-serif">039-304</text><circle cx="605.78" cy="338.50" r="8" fill="url(#gR)"/><circle cx="605.78" cy="338.50" r="3.6" fill="#ff1d0a"/><rect x="593.33" y="362.70" width="8.8" height="6.4" fill="#1f1f1f"/><rect x="609.13" y="362.70" width="8.8" height="6.4" fill="#1f1f1f"/><rect x="590.53" y="371.50" width="30.50" height="10.4" fill="url(#gA)"/><circle cx="597.63" cy="376.80" r="4.5" fill="#2a2a2a"/><circle cx="597.63" cy="376.80" r="3.6" fill="#0c0c0c"/><circle cx="613.43" cy="376.80" r="4.5" fill="#2a2a2a"/><circle cx="613.43" cy="376.80" r="3.6" fill="#0c0c0c"/><rect x="621.80" y="212.90" width="11.7" height="17.20" fill="#1565d8"/><rect x="621.80" y="229.90" width="11.7" height="7.20" fill="#04133a"/><rect x="621.80" y="236.90" width="11.7" height="17.10" fill="#1565d8"/><rect x="621.80" y="253.80" width="11.7" height="7.70" fill="#04133a"/><rect x="621.80" y="261.30" width="11.7" height="7.20" fill="#1668dc"/><rect x="621.80" y="268.30" width="11.7" height="6.60" fill="#0b3e9a"/><rect x="621.80" y="274.70" width="11.7" height="4.00" fill="#030a1e"/><rect x="621.80" y="278.50" width="11.7" height="8.20" fill="#0d4bb0"/><rect x="621.80" y="286.50" width="11.7" height="4.40" fill="#030a1e"/><rect x="621.80" y="290.70" width="11.7" height="7.20" fill="#1565d8"/><rect x="621.80" y="297.70" width="11.7" height="17.60" fill="#f1f1f1"/><rect x="621.80" y="315.10" width="11.7" height="6.70" fill="#1668dc"/><rect x="621.80" y="321.60" width="11.7" height="7.20" fill="#04133a"/><rect x="621.80" y="328.60" width="11.7" height="17.70" fill="#1565d8"/><circle cx="627.65" cy="221.40" r="4.6" fill="#0a3a94"/><circle cx="627.65" cy="221.40" r="3.5" fill="#020409"/><circle cx="627.65" cy="245.30" r="4.6" fill="#0a3a94"/><circle cx="627.65" cy="245.30" r="3.5" fill="#020409"/><circle cx="627.65" cy="338.80" r="4.6" fill="#0a3a94"/><circle cx="627.65" cy="338.80" r="3.5" fill="#020409"/><rect x="621.50" y="212.90" width="0.7" height="133.2" fill="#06225c"/><rect x="633.50" y="212.90" width="11.7" height="17.20" fill="#1565d8"/><rect x="633.50" y="229.90" width="11.7" height="7.20" fill="#04133a"/><rect x="633.50" y="236.90" width="11.7" height="17.10" fill="#1565d8"/><rect x="633.50" y="253.80" width="11.7" height="7.70" fill="#04133a"/><rect x="633.50" y="261.30" width="11.7" height="7.20" fill="#1668dc"/><rect x="633.50" y="268.30" width="11.7" height="6.60" fill="#0b3e9a"/><rect x="633.50" y="274.70" width="11.7" height="4.00" fill="#030a1e"/><rect x="633.50" y="278.50" width="11.7" height="8.20" fill="#0d4bb0"/><rect x="633.50" y="286.50" width="11.7" height="4.40" fill="#030a1e"/><rect x="633.50" y="290.70" width="11.7" height="7.20" fill="#1565d8"/><rect x="633.50" y="297.70" width="11.7" height="17.60" fill="#f1f1f1"/><rect x="633.50" y="315.10" width="11.7" height="6.70" fill="#1668dc"/><rect x="633.50" y="321.60" width="11.7" height="7.20" fill="#04133a"/><rect x="633.50" y="328.60" width="11.7" height="17.70" fill="#1565d8"/><circle cx="639.35" cy="221.40" r="4.6" fill="#0a3a94"/><circle cx="639.35" cy="221.40" r="3.5" fill="#020409"/><circle cx="639.35" cy="245.30" r="4.6" fill="#0a3a94"/><circle cx="639.35" cy="245.30" r="3.5" fill="#020409"/><circle cx="639.35" cy="338.80" r="4.6" fill="#0a3a94"/><circle cx="639.35" cy="338.80" r="3.5" fill="#020409"/><rect x="633.20" y="212.90" width="0.7" height="133.2" fill="#06225c"/><rect x="645.20" y="212.90" width="11.7" height="17.20" fill="#1565d8"/><rect x="645.20" y="229.90" width="11.7" height="7.20" fill="#04133a"/><rect x="645.20" y="236.90" width="11.7" height="17.10" fill="#1565d8"/><rect x="645.20" y="253.80" width="11.7" height="7.70" fill="#04133a"/><rect x="645.20" y="261.30" width="11.7" height="7.20" fill="#1668dc"/><rect x="645.20" y="268.30" width="11.7" height="6.60" fill="#0b3e9a"/><rect x="645.20" y="274.70" width="11.7" height="4.00" fill="#030a1e"/><rect x="645.20" y="278.50" width="11.7" height="8.20" fill="#0d4bb0"/><rect x="645.20" y="286.50" width="11.7" height="4.40" fill="#030a1e"/><rect x="645.20" y="290.70" width="11.7" height="7.20" fill="#1565d8"/><rect x="645.20" y="297.70" width="11.7" height="17.60" fill="#f1f1f1"/><rect x="645.20" y="315.10" width="11.7" height="6.70" fill="#1668dc"/><rect x="645.20" y="321.60" width="11.7" height="7.20" fill="#04133a"/><rect x="645.20" y="328.60" width="11.7" height="17.70" fill="#1565d8"/><circle cx="651.05" cy="221.40" r="4.6" fill="#0a3a94"/><circle cx="651.05" cy="221.40" r="3.5" fill="#020409"/><circle cx="651.05" cy="245.30" r="4.6" fill="#0a3a94"/><circle cx="651.05" cy="245.30" r="3.5" fill="#020409"/><circle cx="651.05" cy="338.80" r="4.6" fill="#0a3a94"/><circle cx="651.05" cy="338.80" r="3.5" fill="#020409"/><rect x="644.90" y="212.90" width="0.7" height="133.2" fill="#06225c"/><rect x="656.90" y="224.40" width="2.1" height="113.2" fill="#c96f0a"/><rect x="659.10" y="243.20" width="12.4" height="96.6" fill="#0d0d0d"/><rect x="660.10" y="244.20" width="10.4" height="15.60" fill="#8e8e8e"/><rect x="660.10" y="261.00" width="10.4" height="17.80" fill="#9b9b9b"/><rect x="660.10" y="278.80" width="10.4" height="16.00" fill="#f0f0f0"/><rect x="660.10" y="294.80" width="10.4" height="18.60" fill="#9d9d9d"/><rect x="660.10" y="314.40" width="10.4" height="16.40" fill="#606060"/><rect x="660.10" y="331.80" width="10.4" height="7.00" fill="#4a4a4a"/><rect x="671.90" y="199.10" width="32.1" height="183.4" fill="#0b0b0b"/><rect x="672.70" y="199.90" width="30.50" height="11.10" fill="url(#gA)"/><circle cx="679.80" cy="205.00" r="4.7" fill="#2a2a2a"/><circle cx="679.80" cy="205.00" r="3.7" fill="#0c0c0c"/><circle cx="695.60" cy="205.00" r="4.7" fill="#2a2a2a"/><circle cx="695.60" cy="205.00" r="3.7" fill="#0c0c0c"/><rect x="672.70" y="218.80" width="30.50" height="12.20" fill="url(#gA)"/><circle cx="679.80" cy="225.60" r="4.7" fill="#2a2a2a"/><circle cx="679.80" cy="225.60" r="3.7" fill="#0c0c0c"/><circle cx="695.60" cy="225.60" r="4.7" fill="#2a2a2a"/><circle cx="695.60" cy="225.60" r="3.7" fill="#0c0c0c"/><rect x="672.70" y="239.40" width="30.50" height="16.10" fill="url(#gB)"/><circle cx="679.80" cy="250.00" r="4.7" fill="#2a2a2a"/><circle cx="679.80" cy="250.00" r="3.7" fill="#0c0c0c"/><circle cx="695.60" cy="250.00" r="4.7" fill="#2a2a2a"/><circle cx="695.60" cy="250.00" r="3.7" fill="#0c0c0c"/><rect x="672.70" y="211.00" width="30.50" height="7.80" fill="#232323"/><rect x="675.50" y="211.90" width="8.8" height="6.00" fill="#040404"/><rect x="691.30" y="211.90" width="8.8" height="6.00" fill="#040404"/><rect x="672.70" y="231.00" width="30.50" height="8.40" fill="#232323"/><rect x="675.50" y="231.90" width="8.8" height="6.60" fill="#040404"/><rect x="691.30" y="231.90" width="8.8" height="6.60" fill="#040404"/><rect x="672.70" y="255.50" width="30.50" height="8.70" fill="#232323"/><rect x="675.50" y="256.40" width="8.8" height="6.90" fill="#040404"/><rect x="691.30" y="256.40" width="8.8" height="6.90" fill="#040404"/><rect x="672.70" y="264.20" width="30.50" height="22.7" fill="#969696"/><rect x="674.60" y="268.10" width="10.2" height="16.2" fill="#f4f4f4"/><rect x="690.70" y="268.10" width="10.2" height="16.2" fill="#f4f4f4"/><rect x="674.30" y="288.30" width="27.30" height="44.4" fill="#5a3206"/><rect x="675.20" y="289.10" width="25.50" height="43" fill="#d97706"/><text x="687.95" y="325.10" font-size="4.4" fill="#efd2a8" text-anchor="middle" font-family="Liberation Mono,monospace">24 VDC</text><rect x="672.70" y="333.10" width="30.50" height="21" fill="url(#gS)"/><text x="687.95" y="350.70" font-size="4.6" fill="#a9b3b3" text-anchor="middle" font-family="Liberation Sans,sans-serif">039-304</text><circle cx="687.95" cy="338.50" r="8" fill="url(#gR)"/><circle cx="687.95" cy="338.50" r="3.6" fill="#ff1d0a"/><rect x="675.50" y="362.70" width="8.8" height="6.4" fill="#1f1f1f"/><rect x="691.30" y="362.70" width="8.8" height="6.4" fill="#1f1f1f"/><rect x="672.70" y="371.50" width="30.50" height="10.4" fill="url(#gA)"/><circle cx="679.80" cy="376.80" r="4.5" fill="#2a2a2a"/><circle cx="679.80" cy="376.80" r="3.6" fill="#0c0c0c"/><circle cx="695.60" cy="376.80" r="4.5" fill="#2a2a2a"/><circle cx="695.60" cy="376.80" r="3.6" fill="#0c0c0c"/><rect x="704.00" y="199.10" width="32.1" height="183.4" fill="#0b0b0b"/><rect x="704.80" y="199.90" width="30.50" height="11.10" fill="url(#gA)"/><circle cx="711.90" cy="205.00" r="4.7" fill="#2a2a2a"/><circle cx="711.90" cy="205.00" r="3.7" fill="#0c0c0c"/><circle cx="727.70" cy="205.00" r="4.7" fill="#2a2a2a"/><circle cx="727.70" cy="205.00" r="3.7" fill="#0c0c0c"/><rect x="704.80" y="218.80" width="30.50" height="12.20" fill="url(#gA)"/><circle cx="711.90" cy="225.60" r="4.7" fill="#2a2a2a"/><circle cx="711.90" cy="225.60" r="3.7" fill="#0c0c0c"/><circle cx="727.70" cy="225.60" r="4.7" fill="#2a2a2a"/><circle cx="727.70" cy="225.60" r="3.7" fill="#0c0c0c"/><rect x="704.80" y="239.40" width="30.50" height="16.10" fill="url(#gB)"/><circle cx="711.90" cy="250.00" r="4.7" fill="#2a2a2a"/><circle cx="711.90" cy="250.00" r="3.7" fill="#0c0c0c"/><circle cx="727.70" cy="250.00" r="4.7" fill="#2a2a2a"/><circle cx="727.70" cy="250.00" r="3.7" fill="#0c0c0c"/><rect x="704.80" y="211.00" width="30.50" height="7.80" fill="#232323"/><rect x="707.60" y="211.90" width="8.8" height="6.00" fill="#040404"/><rect x="723.40" y="211.90" width="8.8" height="6.00" fill="#040404"/><rect x="704.80" y="231.00" width="30.50" height="8.40" fill="#232323"/><rect x="707.60" y="231.90" width="8.8" height="6.60" fill="#040404"/><rect x="723.40" y="231.90" width="8.8" height="6.60" fill="#040404"/><rect x="704.80" y="255.50" width="30.50" height="8.70" fill="#232323"/><rect x="707.60" y="256.40" width="8.8" height="6.90" fill="#040404"/><rect x="723.40" y="256.40" width="8.8" height="6.90" fill="#040404"/><rect x="704.80" y="264.20" width="30.50" height="22.7" fill="#969696"/><rect x="706.70" y="268.10" width="10.2" height="16.2" fill="#f4f4f4"/><rect x="722.80" y="268.10" width="10.2" height="16.2" fill="#f4f4f4"/><rect x="706.40" y="288.30" width="27.30" height="44.4" fill="#5a3206"/><rect x="707.30" y="289.10" width="25.50" height="43" fill="#d97706"/><text x="720.05" y="325.10" font-size="4.4" fill="#efd2a8" text-anchor="middle" font-family="Liberation Mono,monospace">24 VDC</text><rect x="704.80" y="333.10" width="30.50" height="21" fill="url(#gS)"/><text x="720.05" y="350.70" font-size="4.6" fill="#a9b3b3" text-anchor="middle" font-family="Liberation Sans,sans-serif">039-304</text><circle cx="720.05" cy="338.50" r="8" fill="url(#gR)"/><circle cx="720.05" cy="338.50" r="3.6" fill="#ff1d0a"/><rect x="707.60" y="362.70" width="8.8" height="6.4" fill="#1f1f1f"/><rect x="723.40" y="362.70" width="8.8" height="6.4" fill="#1f1f1f"/><rect x="704.80" y="371.50" width="30.50" height="10.4" fill="url(#gA)"/><circle cx="711.90" cy="376.80" r="4.5" fill="#2a2a2a"/><circle cx="711.90" cy="376.80" r="3.6" fill="#0c0c0c"/><circle cx="727.70" cy="376.80" r="4.5" fill="#2a2a2a"/><circle cx="727.70" cy="376.80" r="3.6" fill="#0c0c0c"/><rect x="736.10" y="199.10" width="32.1" height="183.4" fill="#0b0b0b"/><rect x="736.90" y="199.90" width="30.50" height="11.10" fill="url(#gA)"/><circle cx="744.00" cy="205.00" r="4.7" fill="#2a2a2a"/><circle cx="744.00" cy="205.00" r="3.7" fill="#0c0c0c"/><circle cx="759.80" cy="205.00" r="4.7" fill="#2a2a2a"/><circle cx="759.80" cy="205.00" r="3.7" fill="#0c0c0c"/><rect x="736.90" y="218.80" width="30.50" height="12.20" fill="url(#gA)"/><circle cx="744.00" cy="225.60" r="4.7" fill="#2a2a2a"/><circle cx="744.00" cy="225.60" r="3.7" fill="#0c0c0c"/><circle cx="759.80" cy="225.60" r="4.7" fill="#2a2a2a"/><circle cx="759.80" cy="225.60" r="3.7" fill="#0c0c0c"/><rect x="736.90" y="239.40" width="30.50" height="16.10" fill="url(#gB)"/><circle cx="744.00" cy="250.00" r="4.7" fill="#2a2a2a"/><circle cx="744.00" cy="250.00" r="3.7" fill="#0c0c0c"/><circle cx="759.80" cy="250.00" r="4.7" fill="#2a2a2a"/><circle cx="759.80" cy="250.00" r="3.7" fill="#0c0c0c"/><rect x="736.90" y="211.00" width="30.50" height="7.80" fill="#232323"/><rect x="739.70" y="211.90" width="8.8" height="6.00" fill="#040404"/><rect x="755.50" y="211.90" width="8.8" height="6.00" fill="#040404"/><rect x="736.90" y="231.00" width="30.50" height="8.40" fill="#232323"/><rect x="739.70" y="231.90" width="8.8" height="6.60" fill="#040404"/><rect x="755.50" y="231.90" width="8.8" height="6.60" fill="#040404"/><rect x="736.90" y="255.50" width="30.50" height="8.70" fill="#232323"/><rect x="739.70" y="256.40" width="8.8" height="6.90" fill="#040404"/><rect x="755.50" y="256.40" width="8.8" height="6.90" fill="#040404"/><rect x="736.90" y="264.20" width="30.50" height="22.7" fill="#969696"/><rect x="738.80" y="268.10" width="10.2" height="16.2" fill="#f4f4f4"/><rect x="754.90" y="268.10" width="10.2" height="16.2" fill="#f4f4f4"/><rect x="738.50" y="288.30" width="27.30" height="44.4" fill="#5a3206"/><rect x="739.40" y="289.10" width="25.50" height="43" fill="#d97706"/><text x="752.15" y="325.10" font-size="4.4" fill="#efd2a8" text-anchor="middle" font-family="Liberation Mono,monospace">24 VDC</text><rect x="736.90" y="333.10" width="30.50" height="21" fill="url(#gS)"/><text x="752.15" y="350.70" font-size="4.6" fill="#a9b3b3" text-anchor="middle" font-family="Liberation Sans,sans-serif">039-304</text><circle cx="752.15" cy="338.50" r="8" fill="url(#gR)"/><circle cx="752.15" cy="338.50" r="3.6" fill="#ff1d0a"/><rect x="739.70" y="362.70" width="8.8" height="6.4" fill="#1f1f1f"/><rect x="755.50" y="362.70" width="8.8" height="6.4" fill="#1f1f1f"/><rect x="736.90" y="371.50" width="30.50" height="10.4" fill="url(#gA)"/><circle cx="744.00" cy="376.80" r="4.5" fill="#2a2a2a"/><circle cx="744.00" cy="376.80" r="3.6" fill="#0c0c0c"/><circle cx="759.80" cy="376.80" r="4.5" fill="#2a2a2a"/><circle cx="759.80" cy="376.80" r="3.6" fill="#0c0c0c"/><rect x="768.20" y="199.10" width="32.1" height="183.4" fill="#0b0b0b"/><rect x="769.00" y="199.90" width="30.50" height="11.10" fill="url(#gA)"/><circle cx="776.10" cy="205.00" r="4.7" fill="#2a2a2a"/><circle cx="776.10" cy="205.00" r="3.7" fill="#0c0c0c"/><circle cx="791.90" cy="205.00" r="4.7" fill="#2a2a2a"/><circle cx="791.90" cy="205.00" r="3.7" fill="#0c0c0c"/><rect x="769.00" y="218.80" width="30.50" height="12.20" fill="url(#gA)"/><circle cx="776.10" cy="225.60" r="4.7" fill="#2a2a2a"/><circle cx="776.10" cy="225.60" r="3.7" fill="#0c0c0c"/><circle cx="791.90" cy="225.60" r="4.7" fill="#2a2a2a"/><circle cx="791.90" cy="225.60" r="3.7" fill="#0c0c0c"/><rect x="769.00" y="239.40" width="30.50" height="16.10" fill="url(#gB)"/><circle cx="776.10" cy="250.00" r="4.7" fill="#2a2a2a"/><circle cx="776.10" cy="250.00" r="3.7" fill="#0c0c0c"/><circle cx="791.90" cy="250.00" r="4.7" fill="#2a2a2a"/><circle cx="791.90" cy="250.00" r="3.7" fill="#0c0c0c"/><rect x="769.00" y="211.00" width="30.50" height="7.80" fill="#232323"/><rect x="771.80" y="211.90" width="8.8" height="6.00" fill="#040404"/><rect x="787.60" y="211.90" width="8.8" height="6.00" fill="#040404"/><rect x="769.00" y="231.00" width="30.50" height="8.40" fill="#232323"/><rect x="771.80" y="231.90" width="8.8" height="6.60" fill="#040404"/><rect x="787.60" y="231.90" width="8.8" height="6.60" fill="#040404"/><rect x="769.00" y="255.50" width="30.50" height="8.70" fill="#232323"/><rect x="771.80" y="256.40" width="8.8" height="6.90" fill="#040404"/><rect x="787.60" y="256.40" width="8.8" height="6.90" fill="#040404"/><rect x="769.00" y="264.20" width="30.50" height="22.7" fill="#969696"/><rect x="770.90" y="268.10" width="10.2" height="16.2" fill="#f4f4f4"/><rect x="787.00" y="268.10" width="10.2" height="16.2" fill="#f4f4f4"/><rect x="770.60" y="288.30" width="27.30" height="44.4" fill="#5a3206"/><rect x="771.50" y="289.10" width="25.50" height="43" fill="#d97706"/><text x="784.25" y="325.10" font-size="4.4" fill="#efd2a8" text-anchor="middle" font-family="Liberation Mono,monospace">24 VDC</text><rect x="769.00" y="333.10" width="30.50" height="21" fill="url(#gS)"/><text x="784.25" y="350.70" font-size="4.6" fill="#a9b3b3" text-anchor="middle" font-family="Liberation Sans,sans-serif">039-304</text><circle cx="784.25" cy="338.50" r="8" fill="url(#gR)"/><circle cx="784.25" cy="338.50" r="3.6" fill="#ff1d0a"/><rect x="771.80" y="362.70" width="8.8" height="6.4" fill="#1f1f1f"/><rect x="787.60" y="362.70" width="8.8" height="6.4" fill="#1f1f1f"/><rect x="769.00" y="371.50" width="30.50" height="10.4" fill="url(#gA)"/><circle cx="776.10" cy="376.80" r="4.5" fill="#2a2a2a"/><circle cx="776.10" cy="376.80" r="3.6" fill="#0c0c0c"/><circle cx="791.90" cy="376.80" r="4.5" fill="#2a2a2a"/><circle cx="791.90" cy="376.80" r="3.6" fill="#0c0c0c"/><rect x="800.30" y="199.10" width="32.1" height="183.4" fill="#0b0b0b"/><rect x="801.10" y="199.90" width="30.50" height="11.10" fill="url(#gA)"/><circle cx="808.20" cy="205.00" r="4.7" fill="#2a2a2a"/><circle cx="808.20" cy="205.00" r="3.7" fill="#0c0c0c"/><circle cx="824.00" cy="205.00" r="4.7" fill="#2a2a2a"/><circle cx="824.00" cy="205.00" r="3.7" fill="#0c0c0c"/><rect x="801.10" y="218.80" width="30.50" height="12.20" fill="url(#gA)"/><circle cx="808.20" cy="225.60" r="4.7" fill="#2a2a2a"/><circle cx="808.20" cy="225.60" r="3.7" fill="#0c0c0c"/><circle cx="824.00" cy="225.60" r="4.7" fill="#2a2a2a"/><circle cx="824.00" cy="225.60" r="3.7" fill="#0c0c0c"/><rect x="801.10" y="239.40" width="30.50" height="16.10" fill="url(#gB)"/><circle cx="808.20" cy="250.00" r="4.7" fill="#2a2a2a"/><circle cx="808.20" cy="250.00" r="3.7" fill="#0c0c0c"/><circle cx="824.00" cy="250.00" r="4.7" fill="#2a2a2a"/><circle cx="824.00" cy="250.00" r="3.7" fill="#0c0c0c"/><rect x="801.10" y="211.00" width="30.50" height="7.80" fill="#232323"/><rect x="803.90" y="211.90" width="8.8" height="6.00" fill="#040404"/><rect x="819.70" y="211.90" width="8.8" height="6.00" fill="#040404"/><rect x="801.10" y="231.00" width="30.50" height="8.40" fill="#232323"/><rect x="803.90" y="231.90" width="8.8" height="6.60" fill="#040404"/><rect x="819.70" y="231.90" width="8.8" height="6.60" fill="#040404"/><rect x="801.10" y="255.50" width="30.50" height="8.70" fill="#232323"/><rect x="803.90" y="256.40" width="8.8" height="6.90" fill="#040404"/><rect x="819.70" y="256.40" width="8.8" height="6.90" fill="#040404"/><rect x="801.10" y="264.20" width="30.50" height="22.7" fill="#969696"/><rect x="803.00" y="268.10" width="10.2" height="16.2" fill="#f4f4f4"/><rect x="819.10" y="268.10" width="10.2" height="16.2" fill="#f4f4f4"/><rect x="802.70" y="288.30" width="27.30" height="44.4" fill="#5a3206"/><rect x="803.60" y="289.10" width="25.50" height="43" fill="#d97706"/><text x="816.35" y="325.10" font-size="4.4" fill="#efd2a8" text-anchor="middle" font-family="Liberation Mono,monospace">24 VDC</text><rect x="801.10" y="333.10" width="30.50" height="21" fill="url(#gS)"/><text x="816.35" y="350.70" font-size="4.6" fill="#a9b3b3" text-anchor="middle" font-family="Liberation Sans,sans-serif">039-304</text><circle cx="816.35" cy="338.50" r="8" fill="url(#gR)"/><circle cx="816.35" cy="338.50" r="3.6" fill="#ff1d0a"/><rect x="803.90" y="362.70" width="8.8" height="6.4" fill="#1f1f1f"/><rect x="819.70" y="362.70" width="8.8" height="6.4" fill="#1f1f1f"/><rect x="801.10" y="371.50" width="30.50" height="10.4" fill="url(#gA)"/><circle cx="808.20" cy="376.80" r="4.5" fill="#2a2a2a"/><circle cx="808.20" cy="376.80" r="3.6" fill="#0c0c0c"/><circle cx="824.00" cy="376.80" r="4.5" fill="#2a2a2a"/><circle cx="824.00" cy="376.80" r="3.6" fill="#0c0c0c"/><rect x="832.40" y="199.10" width="32.1" height="183.4" fill="#0b0b0b"/><rect x="833.20" y="199.90" width="30.50" height="11.10" fill="url(#gA)"/><circle cx="840.30" cy="205.00" r="4.7" fill="#2a2a2a"/><circle cx="840.30" cy="205.00" r="3.7" fill="#0c0c0c"/><circle cx="856.10" cy="205.00" r="4.7" fill="#2a2a2a"/><circle cx="856.10" cy="205.00" r="3.7" fill="#0c0c0c"/><rect x="833.20" y="218.80" width="30.50" height="12.20" fill="url(#gA)"/><circle cx="840.30" cy="225.60" r="4.7" fill="#2a2a2a"/><circle cx="840.30" cy="225.60" r="3.7" fill="#0c0c0c"/><circle cx="856.10" cy="225.60" r="4.7" fill="#2a2a2a"/><circle cx="856.10" cy="225.60" r="3.7" fill="#0c0c0c"/><rect x="833.20" y="239.40" width="30.50" height="16.10" fill="url(#gB)"/><circle cx="840.30" cy="250.00" r="4.7" fill="#2a2a2a"/><circle cx="840.30" cy="250.00" r="3.7" fill="#0c0c0c"/><circle cx="856.10" cy="250.00" r="4.7" fill="#2a2a2a"/><circle cx="856.10" cy="250.00" r="3.7" fill="#0c0c0c"/><rect x="833.20" y="211.00" width="30.50" height="7.80" fill="#232323"/><rect x="836.00" y="211.90" width="8.8" height="6.00" fill="#040404"/><rect x="851.80" y="211.90" width="8.8" height="6.00" fill="#040404"/><rect x="833.20" y="231.00" width="30.50" height="8.40" fill="#232323"/><rect x="836.00" y="231.90" width="8.8" height="6.60" fill="#040404"/><rect x="851.80" y="231.90" width="8.8" height="6.60" fill="#040404"/><rect x="833.20" y="255.50" width="30.50" height="8.70" fill="#232323"/><rect x="836.00" y="256.40" width="8.8" height="6.90" fill="#040404"/><rect x="851.80" y="256.40" width="8.8" height="6.90" fill="#040404"/><rect x="833.20" y="264.20" width="30.50" height="22.7" fill="#969696"/><rect x="835.10" y="268.10" width="10.2" height="16.2" fill="#f4f4f4"/><rect x="851.20" y="268.10" width="10.2" height="16.2" fill="#f4f4f4"/><rect x="834.80" y="288.30" width="27.30" height="44.4" fill="#5a3206"/><rect x="835.70" y="289.10" width="25.50" height="43" fill="#d97706"/><text x="848.45" y="325.10" font-size="4.4" fill="#efd2a8" text-anchor="middle" font-family="Liberation Mono,monospace">24 VDC</text><rect x="833.20" y="333.10" width="30.50" height="21" fill="url(#gS)"/><text x="848.45" y="350.70" font-size="4.6" fill="#a9b3b3" text-anchor="middle" font-family="Liberation Sans,sans-serif">039-304</text><circle cx="848.45" cy="338.50" r="8" fill="url(#gR)"/><circle cx="848.45" cy="338.50" r="3.6" fill="#ff1d0a"/><rect x="836.00" y="362.70" width="8.8" height="6.4" fill="#1f1f1f"/><rect x="851.80" y="362.70" width="8.8" height="6.4" fill="#1f1f1f"/><rect x="833.20" y="371.50" width="30.50" height="10.4" fill="url(#gA)"/><circle cx="840.30" cy="376.80" r="4.5" fill="#2a2a2a"/><circle cx="840.30" cy="376.80" r="3.6" fill="#0c0c0c"/><circle cx="856.10" cy="376.80" r="4.5" fill="#2a2a2a"/><circle cx="856.10" cy="376.80" r="3.6" fill="#0c0c0c"/><rect x="864.50" y="199.10" width="32.1" height="183.4" fill="#0b0b0b"/><rect x="865.30" y="199.90" width="30.50" height="11.10" fill="url(#gA)"/><circle cx="872.40" cy="205.00" r="4.7" fill="#2a2a2a"/><circle cx="872.40" cy="205.00" r="3.7" fill="#0c0c0c"/><circle cx="888.20" cy="205.00" r="4.7" fill="#2a2a2a"/><circle cx="888.20" cy="205.00" r="3.7" fill="#0c0c0c"/><rect x="865.30" y="218.80" width="30.50" height="12.20" fill="url(#gA)"/><circle cx="872.40" cy="225.60" r="4.7" fill="#2a2a2a"/><circle cx="872.40" cy="225.60" r="3.7" fill="#0c0c0c"/><circle cx="888.20" cy="225.60" r="4.7" fill="#2a2a2a"/><circle cx="888.20" cy="225.60" r="3.7" fill="#0c0c0c"/><rect x="865.30" y="239.40" width="30.50" height="16.10" fill="url(#gB)"/><circle cx="872.40" cy="250.00" r="4.7" fill="#2a2a2a"/><circle cx="872.40" cy="250.00" r="3.7" fill="#0c0c0c"/><circle cx="888.20" cy="250.00" r="4.7" fill="#2a2a2a"/><circle cx="888.20" cy="250.00" r="3.7" fill="#0c0c0c"/><rect x="865.30" y="211.00" width="30.50" height="7.80" fill="#232323"/><rect x="868.10" y="211.90" width="8.8" height="6.00" fill="#040404"/><rect x="883.90" y="211.90" width="8.8" height="6.00" fill="#040404"/><rect x="865.30" y="231.00" width="30.50" height="8.40" fill="#232323"/><rect x="868.10" y="231.90" width="8.8" height="6.60" fill="#040404"/><rect x="883.90" y="231.90" width="8.8" height="6.60" fill="#040404"/><rect x="865.30" y="255.50" width="30.50" height="8.70" fill="#232323"/><rect x="868.10" y="256.40" width="8.8" height="6.90" fill="#040404"/><rect x="883.90" y="256.40" width="8.8" height="6.90" fill="#040404"/><rect x="865.30" y="264.20" width="30.50" height="22.7" fill="#969696"/><rect x="867.20" y="268.10" width="10.2" height="16.2" fill="#f4f4f4"/><rect x="883.30" y="268.10" width="10.2" height="16.2" fill="#f4f4f4"/><rect x="866.90" y="288.30" width="27.30" height="44.4" fill="#5a3206"/><rect x="867.80" y="289.10" width="25.50" height="43" fill="#d97706"/><text x="880.55" y="325.10" font-size="4.4" fill="#efd2a8" text-anchor="middle" font-family="Liberation Mono,monospace">24 VDC</text><rect x="865.30" y="333.10" width="30.50" height="21" fill="url(#gS)"/><text x="880.55" y="350.70" font-size="4.6" fill="#a9b3b3" text-anchor="middle" font-family="Liberation Sans,sans-serif">039-304</text><circle cx="880.55" cy="338.50" r="8" fill="url(#gR)"/><circle cx="880.55" cy="338.50" r="3.6" fill="#ff1d0a"/><rect x="868.10" y="362.70" width="8.8" height="6.4" fill="#1f1f1f"/><rect x="883.90" y="362.70" width="8.8" height="6.4" fill="#1f1f1f"/><rect x="865.30" y="371.50" width="30.50" height="10.4" fill="url(#gA)"/><circle cx="872.40" cy="376.80" r="4.5" fill="#2a2a2a"/><circle cx="872.40" cy="376.80" r="3.6" fill="#0c0c0c"/><circle cx="888.20" cy="376.80" r="4.5" fill="#2a2a2a"/><circle cx="888.20" cy="376.80" r="3.6" fill="#0c0c0c"/><rect x="896.60" y="199.10" width="32.1" height="183.4" fill="#0b0b0b"/><rect x="897.40" y="199.90" width="30.50" height="11.10" fill="url(#gA)"/><circle cx="904.50" cy="205.00" r="4.7" fill="#2a2a2a"/><circle cx="904.50" cy="205.00" r="3.7" fill="#0c0c0c"/><circle cx="920.30" cy="205.00" r="4.7" fill="#2a2a2a"/><circle cx="920.30" cy="205.00" r="3.7" fill="#0c0c0c"/><rect x="897.40" y="218.80" width="30.50" height="12.20" fill="url(#gA)"/><circle cx="904.50" cy="225.60" r="4.7" fill="#2a2a2a"/><circle cx="904.50" cy="225.60" r="3.7" fill="#0c0c0c"/><circle cx="920.30" cy="225.60" r="4.7" fill="#2a2a2a"/><circle cx="920.30" cy="225.60" r="3.7" fill="#0c0c0c"/><rect x="897.40" y="239.40" width="30.50" height="16.10" fill="url(#gB)"/><circle cx="904.50" cy="250.00" r="4.7" fill="#2a2a2a"/><circle cx="904.50" cy="250.00" r="3.7" fill="#0c0c0c"/><circle cx="920.30" cy="250.00" r="4.7" fill="#2a2a2a"/><circle cx="920.30" cy="250.00" r="3.7" fill="#0c0c0c"/><rect x="897.40" y="211.00" width="30.50" height="7.80" fill="#232323"/><rect x="900.20" y="211.90" width="8.8" height="6.00" fill="#040404"/><rect x="916.00" y="211.90" width="8.8" height="6.00" fill="#040404"/><rect x="897.40" y="231.00" width="30.50" height="8.40" fill="#232323"/><rect x="900.20" y="231.90" width="8.8" height="6.60" fill="#040404"/><rect x="916.00" y="231.90" width="8.8" height="6.60" fill="#040404"/><rect x="897.40" y="255.50" width="30.50" height="8.70" fill="#232323"/><rect x="900.20" y="256.40" width="8.8" height="6.90" fill="#040404"/><rect x="916.00" y="256.40" width="8.8" height="6.90" fill="#040404"/><rect x="897.40" y="264.20" width="30.50" height="22.7" fill="#969696"/><rect x="899.30" y="268.10" width="10.2" height="16.2" fill="#f4f4f4"/><rect x="915.40" y="268.10" width="10.2" height="16.2" fill="#f4f4f4"/><rect x="899.00" y="288.30" width="27.30" height="44.4" fill="#5a3206"/><rect x="899.90" y="289.10" width="25.50" height="43" fill="#d97706"/><text x="912.65" y="325.10" font-size="4.4" fill="#efd2a8" text-anchor="middle" font-family="Liberation Mono,monospace">24 VDC</text><rect x="897.40" y="333.10" width="30.50" height="21" fill="url(#gS)"/><text x="912.65" y="350.70" font-size="4.6" fill="#a9b3b3" text-anchor="middle" font-family="Liberation Sans,sans-serif">039-304</text><circle cx="912.65" cy="338.50" r="8" fill="url(#gR)"/><circle cx="912.65" cy="338.50" r="3.6" fill="#ff1d0a"/><rect x="900.20" y="362.70" width="8.8" height="6.4" fill="#1f1f1f"/><rect x="916.00" y="362.70" width="8.8" height="6.4" fill="#1f1f1f"/><rect x="897.40" y="371.50" width="30.50" height="10.4" fill="url(#gA)"/><circle cx="904.50" cy="376.80" r="4.5" fill="#2a2a2a"/><circle cx="904.50" cy="376.80" r="3.6" fill="#0c0c0c"/><circle cx="920.30" cy="376.80" r="4.5" fill="#2a2a2a"/><circle cx="920.30" cy="376.80" r="3.6" fill="#0c0c0c"/><rect x="928.70" y="212.90" width="11.7" height="17.20" fill="#1565d8"/><rect x="928.70" y="229.90" width="11.7" height="7.20" fill="#04133a"/><rect x="928.70" y="236.90" width="11.7" height="17.10" fill="#1565d8"/><rect x="928.70" y="253.80" width="11.7" height="7.70" fill="#04133a"/><rect x="928.70" y="261.30" width="11.7" height="7.20" fill="#1668dc"/><rect x="928.70" y="268.30" width="11.7" height="6.60" fill="#0b3e9a"/><rect x="928.70" y="274.70" width="11.7" height="4.00" fill="#030a1e"/><rect x="928.70" y="278.50" width="11.7" height="8.20" fill="#0d4bb0"/><rect x="928.70" y="286.50" width="11.7" height="4.40" fill="#030a1e"/><rect x="928.70" y="290.70" width="11.7" height="7.20" fill="#1565d8"/><rect x="928.70" y="297.70" width="11.7" height="17.60" fill="#f1f1f1"/><rect x="928.70" y="315.10" width="11.7" height="6.70" fill="#1668dc"/><rect x="928.70" y="321.60" width="11.7" height="7.20" fill="#04133a"/><rect x="928.70" y="328.60" width="11.7" height="17.70" fill="#1565d8"/><circle cx="934.55" cy="221.40" r="4.6" fill="#0a3a94"/><circle cx="934.55" cy="221.40" r="3.5" fill="#020409"/><circle cx="934.55" cy="245.30" r="4.6" fill="#0a3a94"/><circle cx="934.55" cy="245.30" r="3.5" fill="#020409"/><circle cx="934.55" cy="338.80" r="4.6" fill="#0a3a94"/><circle cx="934.55" cy="338.80" r="3.5" fill="#020409"/><rect x="928.40" y="212.90" width="0.7" height="133.2" fill="#06225c"/><rect x="940.40" y="212.90" width="11.7" height="17.20" fill="#1565d8"/><rect x="940.40" y="229.90" width="11.7" height="7.20" fill="#04133a"/><rect x="940.40" y="236.90" width="11.7" height="17.10" fill="#1565d8"/><rect x="940.40" y="253.80" width="11.7" height="7.70" fill="#04133a"/><rect x="940.40" y="261.30" width="11.7" height="7.20" fill="#1668dc"/><rect x="940.40" y="268.30" width="11.7" height="6.60" fill="#0b3e9a"/><rect x="940.40" y="274.70" width="11.7" height="4.00" fill="#030a1e"/><rect x="940.40" y="278.50" width="11.7" height="8.20" fill="#0d4bb0"/><rect x="940.40" y="286.50" width="11.7" height="4.40" fill="#030a1e"/><rect x="940.40" y="290.70" width="11.7" height="7.20" fill="#1565d8"/><rect x="940.40" y="297.70" width="11.7" height="17.60" fill="#f1f1f1"/><rect x="940.40" y="315.10" width="11.7" height="6.70" fill="#1668dc"/><rect x="940.40" y="321.60" width="11.7" height="7.20" fill="#04133a"/><rect x="940.40" y="328.60" width="11.7" height="17.70" fill="#1565d8"/><circle cx="946.25" cy="221.40" r="4.6" fill="#0a3a94"/><circle cx="946.25" cy="221.40" r="3.5" fill="#020409"/><circle cx="946.25" cy="245.30" r="4.6" fill="#0a3a94"/><circle cx="946.25" cy="245.30" r="3.5" fill="#020409"/><circle cx="946.25" cy="338.80" r="4.6" fill="#0a3a94"/><circle cx="946.25" cy="338.80" r="3.5" fill="#020409"/><rect x="940.10" y="212.90" width="0.7" height="133.2" fill="#06225c"/><rect x="952.10" y="212.90" width="11.7" height="17.20" fill="#1565d8"/><rect x="952.10" y="229.90" width="11.7" height="7.20" fill="#04133a"/><rect x="952.10" y="236.90" width="11.7" height="17.10" fill="#1565d8"/><rect x="952.10" y="253.80" width="11.7" height="7.70" fill="#04133a"/><rect x="952.10" y="261.30" width="11.7" height="7.20" fill="#1668dc"/><rect x="952.10" y="268.30" width="11.7" height="6.60" fill="#0b3e9a"/><rect x="952.10" y="274.70" width="11.7" height="4.00" fill="#030a1e"/><rect x="952.10" y="278.50" width="11.7" height="8.20" fill="#0d4bb0"/><rect x="952.10" y="286.50" width="11.7" height="4.40" fill="#030a1e"/><rect x="952.10" y="290.70" width="11.7" height="7.20" fill="#1565d8"/><rect x="952.10" y="297.70" width="11.7" height="17.60" fill="#f1f1f1"/><rect x="952.10" y="315.10" width="11.7" height="6.70" fill="#1668dc"/><rect x="952.10" y="321.60" width="11.7" height="7.20" fill="#04133a"/><rect x="952.10" y="328.60" width="11.7" height="17.70" fill="#1565d8"/><circle cx="957.95" cy="221.40" r="4.6" fill="#0a3a94"/><circle cx="957.95" cy="221.40" r="3.5" fill="#020409"/><circle cx="957.95" cy="245.30" r="4.6" fill="#0a3a94"/><circle cx="957.95" cy="245.30" r="3.5" fill="#020409"/><circle cx="957.95" cy="338.80" r="4.6" fill="#0a3a94"/><circle cx="957.95" cy="338.80" r="3.5" fill="#020409"/><rect x="951.80" y="212.90" width="0.7" height="133.2" fill="#06225c"/><rect x="963.80" y="224.40" width="2.1" height="113.2" fill="#c96f0a"/><rect x="966.60" y="243.20" width="12.4" height="96.6" fill="#0d0d0d"/><rect x="967.60" y="244.20" width="10.4" height="15.60" fill="#8e8e8e"/><rect x="967.60" y="261.00" width="10.4" height="17.80" fill="#9b9b9b"/><rect x="967.60" y="278.80" width="10.4" height="16.00" fill="#f0f0f0"/><rect x="967.60" y="294.80" width="10.4" height="18.60" fill="#9d9d9d"/><rect x="967.60" y="314.40" width="10.4" height="16.40" fill="#606060"/><rect x="967.60" y="331.80" width="10.4" height="7.00" fill="#4a4a4a"/><rect x="979.20" y="199.10" width="32.1" height="183.4" fill="#0b0b0b"/><rect x="980.00" y="199.90" width="30.50" height="11.10" fill="url(#gA)"/><circle cx="987.10" cy="205.00" r="4.7" fill="#2a2a2a"/><circle cx="987.10" cy="205.00" r="3.7" fill="#0c0c0c"/><circle cx="1002.90" cy="205.00" r="4.7" fill="#2a2a2a"/><circle cx="1002.90" cy="205.00" r="3.7" fill="#0c0c0c"/><rect x="980.00" y="218.80" width="30.50" height="12.20" fill="url(#gA)"/><circle cx="987.10" cy="225.60" r="4.7" fill="#2a2a2a"/><circle cx="987.10" cy="225.60" r="3.7" fill="#0c0c0c"/><circle cx="1002.90" cy="225.60" r="4.7" fill="#2a2a2a"/><circle cx="1002.90" cy="225.60" r="3.7" fill="#0c0c0c"/><rect x="980.00" y="239.40" width="30.50" height="16.10" fill="url(#gB)"/><circle cx="987.10" cy="250.00" r="4.7" fill="#2a2a2a"/><circle cx="987.10" cy="250.00" r="3.7" fill="#0c0c0c"/><circle cx="1002.90" cy="250.00" r="4.7" fill="#2a2a2a"/><circle cx="1002.90" cy="250.00" r="3.7" fill="#0c0c0c"/><rect x="980.00" y="211.00" width="30.50" height="7.80" fill="#232323"/><rect x="982.80" y="211.90" width="8.8" height="6.00" fill="#040404"/><rect x="998.60" y="211.90" width="8.8" height="6.00" fill="#040404"/><rect x="980.00" y="231.00" width="30.50" height="8.40" fill="#232323"/><rect x="982.80" y="231.90" width="8.8" height="6.60" fill="#040404"/><rect x="998.60" y="231.90" width="8.8" height="6.60" fill="#040404"/><rect x="980.00" y="255.50" width="30.50" height="8.70" fill="#232323"/><rect x="982.80" y="256.40" width="8.8" height="6.90" fill="#040404"/><rect x="998.60" y="256.40" width="8.8" height="6.90" fill="#040404"/><rect x="980.00" y="264.20" width="30.50" height="22.7" fill="#969696"/><rect x="981.90" y="268.10" width="10.2" height="16.2" fill="#f4f4f4"/><rect x="998.00" y="268.10" width="10.2" height="16.2" fill="#f4f4f4"/><rect x="981.60" y="288.30" width="27.30" height="44.4" fill="#5a3206"/><rect x="982.50" y="289.10" width="25.50" height="43" fill="#d97706"/><text x="995.25" y="325.10" font-size="4.4" fill="#efd2a8" text-anchor="middle" font-family="Liberation Mono,monospace">24 VDC</text><rect x="980.00" y="333.10" width="30.50" height="21" fill="url(#gS)"/><text x="995.25" y="350.70" font-size="4.6" fill="#a9b3b3" text-anchor="middle" font-family="Liberation Sans,sans-serif">039-304</text><circle cx="995.25" cy="338.50" r="8" fill="url(#gR)"/><circle cx="995.25" cy="338.50" r="3.6" fill="#ff1d0a"/><rect x="982.80" y="362.70" width="8.8" height="6.4" fill="#1f1f1f"/><rect x="998.60" y="362.70" width="8.8" height="6.4" fill="#1f1f1f"/><rect x="980.00" y="371.50" width="30.50" height="10.4" fill="url(#gA)"/><circle cx="987.10" cy="376.80" r="4.5" fill="#2a2a2a"/><circle cx="987.10" cy="376.80" r="3.6" fill="#0c0c0c"/><circle cx="1002.90" cy="376.80" r="4.5" fill="#2a2a2a"/><circle cx="1002.90" cy="376.80" r="3.6" fill="#0c0c0c"/><text transform="translate(377.95 403.4) rotate(90)" font-size="9" fill="#858b94" text-anchor="middle" font-family="Liberation Sans,sans-serif">1</text><text transform="translate(410.04 403.4) rotate(90)" font-size="9" fill="#858b94" text-anchor="middle" font-family="Liberation Sans,sans-serif">2</text><text transform="translate(442.13 403.4) rotate(90)" font-size="9" fill="#858b94" text-anchor="middle" font-family="Liberation Sans,sans-serif">3</text><text transform="translate(474.22 403.4) rotate(90)" font-size="9" fill="#858b94" text-anchor="middle" font-family="Liberation Sans,sans-serif">4</text><text transform="translate(506.31 403.4) rotate(90)" font-size="9" fill="#858b94" text-anchor="middle" font-family="Liberation Sans,sans-serif">5</text><text transform="translate(538.40 403.4) rotate(90)" font-size="9" fill="#858b94" text-anchor="middle" font-family="Liberation Sans,sans-serif">6</text><text transform="translate(570.49 403.4) rotate(90)" font-size="9" fill="#858b94" text-anchor="middle" font-family="Liberation Sans,sans-serif">7</text><text transform="translate(602.58 403.4) rotate(90)" font-size="9" fill="#858b94" text-anchor="middle" font-family="Liberation Sans,sans-serif">8</text><text transform="translate(684.75 403.4) rotate(90)" font-size="9" fill="#858b94" text-anchor="middle" font-family="Liberation Sans,sans-serif">9</text><text transform="translate(716.85 403.4) rotate(90)" font-size="9" fill="#858b94" text-anchor="middle" font-family="Liberation Sans,sans-serif">10</text><text transform="translate(748.95 403.4) rotate(90)" font-size="9" fill="#858b94" text-anchor="middle" font-family="Liberation Sans,sans-serif">11</text><text transform="translate(781.05 403.4) rotate(90)" font-size="9" fill="#858b94" text-anchor="middle" font-family="Liberation Sans,sans-serif">12</text><text transform="translate(813.15 403.4) rotate(90)" font-size="9" fill="#858b94" text-anchor="middle" font-family="Liberation Sans,sans-serif">13</text><text transform="translate(845.25 403.4) rotate(90)" font-size="9" fill="#858b94" text-anchor="middle" font-family="Liberation Sans,sans-serif">14</text><text transform="translate(877.35 403.4) rotate(90)" font-size="9" fill="#858b94" text-anchor="middle" font-family="Liberation Sans,sans-serif">15</text><text transform="translate(909.45 403.4) rotate(90)" font-size="9" fill="#858b94" text-anchor="middle" font-family="Liberation Sans,sans-serif">16</text><rect x="313.5" y="471" width="4" height="175" fill="#000" opacity="0.05"/><rect x="317.30" y="468.00" width="149.20" height="181" fill="#0a0f1a"/><rect x="318.20" y="468.90" width="147.40" height="42" fill="url(#gP1)"/><rect x="318.20" y="511.80" width="147.40" height="93.6" fill="#22509b"/><rect x="318.20" y="606.30" width="147.40" height="41.8" fill="url(#gP2)"/><circle cx="330.00" cy="483.00" r="6" fill="#15181d"/><circle cx="330.00" cy="483.00" r="4.3" fill="#7b7b7b"/><path d="M328.20 481.20l3.6 3.6M331.80 481.20l-3.6 3.6" stroke="#333" stroke-width="0.9"/><circle cx="342.20" cy="483.00" r="6" fill="#15181d"/><circle cx="342.20" cy="483.00" r="4.3" fill="#7b7b7b"/><path d="M339.80 483.00h4.8M342.20 480.60v4.8" stroke="#333" stroke-width="0.9"/><circle cx="354.40" cy="483.00" r="6" fill="#15181d"/><circle cx="354.40" cy="483.00" r="4.3" fill="#7b7b7b"/><path d="M352.60 481.20l3.6 3.6M356.20 481.20l-3.6 3.6" stroke="#333" stroke-width="0.9"/><circle cx="366.60" cy="483.00" r="6" fill="#15181d"/><circle cx="366.60" cy="483.00" r="4.3" fill="#7b7b7b"/><path d="M364.20 483.00h4.8M366.60 480.60v4.8" stroke="#333" stroke-width="0.9"/><circle cx="433.20" cy="633.40" r="6" fill="#15181d"/><circle cx="433.20" cy="633.40" r="4.3" fill="#7b7b7b"/><path d="M431.40 631.60l3.6 3.6M435.00 631.60l-3.6 3.6" stroke="#333" stroke-width="0.9"/><circle cx="445.30" cy="633.40" r="6" fill="#15181d"/><circle cx="445.30" cy="633.40" r="4.3" fill="#7b7b7b"/><path d="M442.90 633.40h4.8M445.30 631.00v4.8" stroke="#333" stroke-width="0.9"/><circle cx="335.30" cy="521.70" r="8.5" fill="url(#gG)"/><circle cx="335.30" cy="521.70" r="4.6" fill="#7df01c"/><text transform="translate(460.90 587.80) scale(0.7 1)" font-size="9" fill="#c9d3e8" text-anchor="end" font-family="Liberation Sans,sans-serif">POWER SUPPLY</text><text transform="translate(461.90 601.00) scale(0.68 1)" font-size="11.6" fill="#e8edf7" text-anchor="end" font-family="Liberation Sans,sans-serif">12 VDC 8.5 A</text><rect x="466.50" y="468.00" width="149.60" height="181" fill="#0a0f1a"/><rect x="467.40" y="468.90" width="147.80" height="42" fill="url(#gP1)"/><rect x="467.40" y="511.80" width="147.80" height="93.6" fill="#22509b"/><rect x="467.40" y="606.30" width="147.80" height="41.8" fill="url(#gP2)"/><circle cx="479.20" cy="483.00" r="6" fill="#15181d"/><circle cx="479.20" cy="483.00" r="4.3" fill="#7b7b7b"/><path d="M477.40 481.20l3.6 3.6M481.00 481.20l-3.6 3.6" stroke="#333" stroke-width="0.9"/><circle cx="491.40" cy="483.00" r="6" fill="#15181d"/><circle cx="491.40" cy="483.00" r="4.3" fill="#7b7b7b"/><path d="M489.00 483.00h4.8M491.40 480.60v4.8" stroke="#333" stroke-width="0.9"/><circle cx="503.60" cy="483.00" r="6" fill="#15181d"/><circle cx="503.60" cy="483.00" r="4.3" fill="#7b7b7b"/><path d="M501.80 481.20l3.6 3.6M505.40 481.20l-3.6 3.6" stroke="#333" stroke-width="0.9"/><circle cx="515.80" cy="483.00" r="6" fill="#15181d"/><circle cx="515.80" cy="483.00" r="4.3" fill="#7b7b7b"/><path d="M513.40 483.00h4.8M515.80 480.60v4.8" stroke="#333" stroke-width="0.9"/><circle cx="582.80" cy="633.40" r="6" fill="#15181d"/><circle cx="582.80" cy="633.40" r="4.3" fill="#7b7b7b"/><path d="M581.00 631.60l3.6 3.6M584.60 631.60l-3.6 3.6" stroke="#333" stroke-width="0.9"/><circle cx="594.90" cy="633.40" r="6" fill="#15181d"/><circle cx="594.90" cy="633.40" r="4.3" fill="#7b7b7b"/><path d="M592.50 633.40h4.8M594.90 631.00v4.8" stroke="#333" stroke-width="0.9"/><circle cx="484.50" cy="521.70" r="8.5" fill="url(#gG)"/><circle cx="484.50" cy="521.70" r="4.6" fill="#7df01c"/><text transform="translate(610.50 587.80) scale(0.7 1)" font-size="9" fill="#c9d3e8" text-anchor="end" font-family="Liberation Sans,sans-serif">POWER SUPPLY</text><text transform="translate(611.50 601.00) scale(0.68 1)" font-size="11.6" fill="#e8edf7" text-anchor="end" font-family="Liberation Sans,sans-serif">12 VDC 8.5 A</text><rect x="616.10" y="468.00" width="75.60" height="181" fill="#0a0f1a"/><rect x="617.00" y="468.90" width="73.80" height="42" fill="url(#gP1)"/><rect x="617.00" y="511.80" width="73.80" height="93.6" fill="#22509b"/><rect x="617.00" y="606.30" width="73.80" height="41.8" fill="url(#gP2)"/><circle cx="628.80" cy="483.00" r="6" fill="#15181d"/><circle cx="628.80" cy="483.00" r="4.3" fill="#7b7b7b"/><path d="M627.00 481.20l3.6 3.6M630.60 481.20l-3.6 3.6" stroke="#333" stroke-width="0.9"/><circle cx="641.00" cy="483.00" r="6" fill="#15181d"/><circle cx="641.00" cy="483.00" r="4.3" fill="#7b7b7b"/><path d="M638.60 483.00h4.8M641.00 480.60v4.8" stroke="#333" stroke-width="0.9"/><circle cx="658.40" cy="633.40" r="6" fill="#15181d"/><circle cx="658.40" cy="633.40" r="4.3" fill="#7b7b7b"/><path d="M656.60 631.60l3.6 3.6M660.20 631.60l-3.6 3.6" stroke="#333" stroke-width="0.9"/><circle cx="670.50" cy="633.40" r="6" fill="#15181d"/><circle cx="670.50" cy="633.40" r="4.3" fill="#7b7b7b"/><path d="M668.10 633.40h4.8M670.50 631.00v4.8" stroke="#333" stroke-width="0.9"/><circle cx="634.10" cy="521.70" r="8.5" fill="url(#gG)"/><circle cx="634.10" cy="521.70" r="4.6" fill="#7df01c"/><text transform="translate(686.10 587.80) scale(0.7 1)" font-size="9" fill="#c9d3e8" text-anchor="end" font-family="Liberation Sans,sans-serif">POWER SUPPLY</text><text transform="translate(687.10 601.00) scale(0.68 1)" font-size="11.6" fill="#e8edf7" text-anchor="end" font-family="Liberation Sans,sans-serif">12 VDC 2.5 A</text><rect x="691.70" y="468.40" width="74.30" height="180" fill="#0d0d0d"/><rect x="692.60" y="469.30" width="72.50" height="24.2" fill="#454545"/><rect x="692.60" y="494.40" width="72.50" height="16.6" fill="#3e3e3e"/><rect x="692.60" y="512.00" width="72.50" height="9.6" fill="#454545"/><rect x="692.60" y="521.60" width="72.50" height="84.2" fill="#343434"/><clipPath id="h1"><rect x="692.60" y="521.60" width="72.50" height="84.20"/></clipPath><g clip-path="url(#h1)" fill="url(#gHex)" stroke="#262626" stroke-width="1"><polygon points="686.3,520.7 674.0,527.8 661.7,520.7 661.7,506.5 674.0,499.4 686.3,506.5"/><polygon points="710.9,520.7 698.6,527.8 686.3,520.7 686.3,506.5 698.6,499.4 710.9,506.5"/><polygon points="735.5,520.7 723.2,527.8 710.9,520.7 710.9,506.5 723.2,499.4 735.5,506.5"/><polygon points="760.1,520.7 747.8,527.8 735.5,520.7 735.5,506.5 747.8,499.4 760.1,506.5"/><polygon points="784.7,520.7 772.4,527.8 760.1,520.7 760.1,506.5 772.4,499.4 784.7,506.5"/><polygon points="698.6,542.0 686.3,549.1 674.0,542.0 674.0,527.8 686.3,520.7 698.6,527.8"/><polygon points="723.2,542.0 710.9,549.1 698.6,542.0 698.6,527.8 710.9,520.7 723.2,527.8"/><polygon points="747.8,542.0 735.5,549.1 723.2,542.0 723.2,527.8 735.5,520.7 747.8,527.8"/><polygon points="772.4,542.0 760.1,549.1 747.8,542.0 747.8,527.8 760.1,520.7 772.4,527.8"/><polygon points="797.0,542.0 784.7,549.1 772.4,542.0 772.4,527.8 784.7,520.7 797.0,527.8"/><polygon points="686.3,563.3 674.0,570.4 661.7,563.3 661.7,549.1 674.0,542.0 686.3,549.1"/><polygon points="710.9,563.3 698.6,570.4 686.3,563.3 686.3,549.1 698.6,542.0 710.9,549.1"/><polygon points="735.5,563.3 723.2,570.4 710.9,563.3 710.9,549.1 723.2,542.0 735.5,549.1"/><polygon points="760.1,563.3 747.8,570.4 735.5,563.3 735.5,549.1 747.8,542.0 760.1,549.1"/><polygon points="784.7,563.3 772.4,570.4 760.1,563.3 760.1,549.1 772.4,542.0 784.7,549.1"/><polygon points="698.6,584.6 686.3,591.7 674.0,584.6 674.0,570.4 686.3,563.3 698.6,570.4"/><polygon points="723.2,584.6 710.9,591.7 698.6,584.6 698.6,570.4 710.9,563.3 723.2,570.4"/><polygon points="747.8,584.6 735.5,591.7 723.2,584.6 723.2,570.4 735.5,563.3 747.8,570.4"/><polygon points="772.4,584.6 760.1,591.7 747.8,584.6 747.8,570.4 760.1,563.3 772.4,570.4"/><polygon points="797.0,584.6 784.7,591.7 772.4,584.6 772.4,570.4 784.7,563.3 797.0,570.4"/><polygon points="686.3,605.9 674.0,613.0 661.7,605.9 661.7,591.7 674.0,584.6 686.3,591.7"/><polygon points="710.9,605.9 698.6,613.0 686.3,605.9 686.3,591.7 698.6,584.6 710.9,591.7"/><polygon points="735.5,605.9 723.2,613.0 710.9,605.9 710.9,591.7 723.2,584.6 735.5,591.7"/><polygon points="760.1,605.9 747.8,613.0 735.5,605.9 735.5,591.7 747.8,584.6 760.1,591.7"/><polygon points="784.7,605.9 772.4,613.0 760.1,605.9 760.1,591.7 772.4,584.6 784.7,591.7"/></g><rect x="692.60" y="605.80" width="72.50" height="16.6" fill="#3e3e3e"/><rect x="692.60" y="623.40" width="72.50" height="24.1" fill="#454545"/><rect x="692.60" y="546.60" width="72.50" height="34.80" fill="#4b4b4b"/><text x="702.10" y="556.00" font-size="6.6" fill="#e6e6e6" font-family="Liberation Sans,sans-serif">Grenton</text><text x="702.10" y="567.60" font-size="9.4" fill="#f4f4f4" textLength="52.6" lengthAdjust="spacingAndGlyphs" font-family="Liberation Sans,sans-serif">BUS MODULE</text><rect x="766.00" y="468.40" width="150.00" height="180" fill="#2a0a10"/><rect x="766.90" y="469.30" width="148.20" height="24.2" fill="#bd3148"/><rect x="766.90" y="494.40" width="148.20" height="16.6" fill="#b62e44"/><rect x="766.90" y="512.00" width="148.20" height="9.6" fill="#bd3148"/><rect x="766.90" y="521.60" width="148.20" height="84.2" fill="#a92a40"/><clipPath id="h2"><rect x="766.90" y="521.60" width="148.20" height="84.20"/></clipPath><g clip-path="url(#h2)" fill="url(#gHex)" stroke="#8b2033" stroke-width="1"><polygon points="760.6,520.7 748.3,527.8 736.0,520.7 736.0,506.5 748.3,499.4 760.6,506.5"/><polygon points="785.2,520.7 772.9,527.8 760.6,520.7 760.6,506.5 772.9,499.4 785.2,506.5"/><polygon points="809.8,520.7 797.5,527.8 785.2,520.7 785.2,506.5 797.5,499.4 809.8,506.5"/><polygon points="834.4,520.7 822.1,527.8 809.8,520.7 809.8,506.5 822.1,499.4 834.4,506.5"/><polygon points="859.0,520.7 846.7,527.8 834.4,520.7 834.4,506.5 846.7,499.4 859.0,506.5"/><polygon points="883.6,520.7 871.3,527.8 859.0,520.7 859.0,506.5 871.3,499.4 883.6,506.5"/><polygon points="908.2,520.7 895.9,527.8 883.6,520.7 883.6,506.5 895.9,499.4 908.2,506.5"/><polygon points="932.8,520.7 920.5,527.8 908.2,520.7 908.2,506.5 920.5,499.4 932.8,506.5"/><polygon points="772.9,542.0 760.6,549.1 748.3,542.0 748.3,527.8 760.6,520.7 772.9,527.8"/><polygon points="797.5,542.0 785.2,549.1 772.9,542.0 772.9,527.8 785.2,520.7 797.5,527.8"/><polygon points="822.1,542.0 809.8,549.1 797.5,542.0 797.5,527.8 809.8,520.7 822.1,527.8"/><polygon points="846.7,542.0 834.4,549.1 822.1,542.0 822.1,527.8 834.4,520.7 846.7,527.8"/><polygon points="871.3,542.0 859.0,549.1 846.7,542.0 846.7,527.8 859.0,520.7 871.3,527.8"/><polygon points="895.9,542.0 883.6,549.1 871.3,542.0 871.3,527.8 883.6,520.7 895.9,527.8"/><polygon points="920.5,542.0 908.2,549.1 895.9,542.0 895.9,527.8 908.2,520.7 920.5,527.8"/><polygon points="945.1,542.0 932.8,549.1 920.5,542.0 920.5,527.8 932.8,520.7 945.1,527.8"/><polygon points="760.6,563.3 748.3,570.4 736.0,563.3 736.0,549.1 748.3,542.0 760.6,549.1"/><polygon points="785.2,563.3 772.9,570.4 760.6,563.3 760.6,549.1 772.9,542.0 785.2,549.1"/><polygon points="809.8,563.3 797.5,570.4 785.2,563.3 785.2,549.1 797.5,542.0 809.8,549.1"/><polygon points="834.4,563.3 822.1,570.4 809.8,563.3 809.8,549.1 822.1,542.0 834.4,549.1"/><polygon points="859.0,563.3 846.7,570.4 834.4,563.3 834.4,549.1 846.7,542.0 859.0,549.1"/><polygon points="883.6,563.3 871.3,570.4 859.0,563.3 859.0,549.1 871.3,542.0 883.6,549.1"/><polygon points="908.2,563.3 895.9,570.4 883.6,563.3 883.6,549.1 895.9,542.0 908.2,549.1"/><polygon points="932.8,563.3 920.5,570.4 908.2,563.3 908.2,549.1 920.5,542.0 932.8,549.1"/><polygon points="772.9,584.6 760.6,591.7 748.3,584.6 748.3,570.4 760.6,563.3 772.9,570.4"/><polygon points="797.5,584.6 785.2,591.7 772.9,584.6 772.9,570.4 785.2,563.3 797.5,570.4"/><polygon points="822.1,584.6 809.8,591.7 797.5,584.6 797.5,570.4 809.8,563.3 822.1,570.4"/><polygon points="846.7,584.6 834.4,591.7 822.1,584.6 822.1,570.4 834.4,563.3 846.7,570.4"/><polygon points="871.3,584.6 859.0,591.7 846.7,584.6 846.7,570.4 859.0,563.3 871.3,570.4"/><polygon points="895.9,584.6 883.6,591.7 871.3,584.6 871.3,570.4 883.6,563.3 895.9,570.4"/><polygon points="920.5,584.6 908.2,591.7 895.9,584.6 895.9,570.4 908.2,563.3 920.5,570.4"/><polygon points="945.1,584.6 932.8,591.7 920.5,584.6 920.5,570.4 932.8,563.3 945.1,570.4"/><polygon points="760.6,605.9 748.3,613.0 736.0,605.9 736.0,591.7 748.3,584.6 760.6,591.7"/><polygon points="785.2,605.9 772.9,613.0 760.6,605.9 760.6,591.7 772.9,584.6 785.2,591.7"/><polygon points="809.8,605.9 797.5,613.0 785.2,605.9 785.2,591.7 797.5,584.6 809.8,591.7"/><polygon points="834.4,605.9 822.1,613.0 809.8,605.9 809.8,591.7 822.1,584.6 834.4,591.7"/><polygon points="859.0,605.9 846.7,613.0 834.4,605.9 834.4,591.7 846.7,584.6 859.0,591.7"/><polygon points="883.6,605.9 871.3,613.0 859.0,605.9 859.0,591.7 871.3,584.6 883.6,591.7"/><polygon points="908.2,605.9 895.9,613.0 883.6,605.9 883.6,591.7 895.9,584.6 908.2,591.7"/><polygon points="932.8,605.9 920.5,613.0 908.2,605.9 908.2,591.7 920.5,584.6 932.8,591.7"/></g><rect x="766.90" y="605.80" width="148.20" height="16.6" fill="#b62e44"/><rect x="766.90" y="623.40" width="148.20" height="24.1" fill="#bd3148"/><path d="M838.60 546.60 H915.10 V581.40 H838.60 L828.80 564.00 Z" fill="#c3364d" stroke="#8b2033" stroke-width="0.6"/><text x="843.30" y="556.00" font-size="6.6" fill="#e6e6e6" font-family="Liberation Sans,sans-serif">Grenton</text><text x="843.30" y="567.60" font-size="11" fill="#f4f4f4" textLength="56.4" lengthAdjust="spacingAndGlyphs" font-family="Liberation Sans,sans-serif">CLU Z-Wave</text><circle cx="815.90" cy="516.00" r="5.5" fill="url(#gG)"/><circle cx="815.90" cy="516.00" r="3" fill="#5fe321"/><circle cx="829.00" cy="516.00" r="5.5" fill="url(#gR)"/><circle cx="829.00" cy="516.00" r="3" fill="#f2260e"/><rect x="916.00" y="468.40" width="150.00" height="180" fill="#0d0d0d"/><rect x="916.90" y="469.30" width="148.20" height="24.2" fill="#454545"/><rect x="916.90" y="494.40" width="148.20" height="16.6" fill="#3e3e3e"/><rect x="916.90" y="512.00" width="148.20" height="9.6" fill="#454545"/><rect x="916.90" y="521.60" width="148.20" height="84.2" fill="#343434"/><clipPath id="h3"><rect x="916.90" y="521.60" width="148.20" height="84.20"/></clipPath><g clip-path="url(#h3)" fill="url(#gHex)" stroke="#262626" stroke-width="1"><polygon points="910.6,520.7 898.3,527.8 886.0,520.7 886.0,506.5 898.3,499.4 910.6,506.5"/><polygon points="935.2,520.7 922.9,527.8 910.6,520.7 910.6,506.5 922.9,499.4 935.2,506.5"/><polygon points="959.8,520.7 947.5,527.8 935.2,520.7 935.2,506.5 947.5,499.4 959.8,506.5"/><polygon points="984.4,520.7 972.1,527.8 959.8,520.7 959.8,506.5 972.1,499.4 984.4,506.5"/><polygon points="1009.0,520.7 996.7,527.8 984.4,520.7 984.4,506.5 996.7,499.4 1009.0,506.5"/><polygon points="1033.6,520.7 1021.3,527.8 1009.0,520.7 1009.0,506.5 1021.3,499.4 1033.6,506.5"/><polygon points="1058.2,520.7 1045.9,527.8 1033.6,520.7 1033.6,506.5 1045.9,499.4 1058.2,506.5"/><polygon points="1082.8,520.7 1070.5,527.8 1058.2,520.7 1058.2,506.5 1070.5,499.4 1082.8,506.5"/><polygon points="922.9,542.0 910.6,549.1 898.3,542.0 898.3,527.8 910.6,520.7 922.9,527.8"/><polygon points="947.5,542.0 935.2,549.1 922.9,542.0 922.9,527.8 935.2,520.7 947.5,527.8"/><polygon points="972.1,542.0 959.8,549.1 947.5,542.0 947.5,527.8 959.8,520.7 972.1,527.8"/><polygon points="996.7,542.0 984.4,549.1 972.1,542.0 972.1,527.8 984.4,520.7 996.7,527.8"/><polygon points="1021.3,542.0 1009.0,549.1 996.7,542.0 996.7,527.8 1009.0,520.7 1021.3,527.8"/><polygon points="1045.9,542.0 1033.6,549.1 1021.3,542.0 1021.3,527.8 1033.6,520.7 1045.9,527.8"/><polygon points="1070.5,542.0 1058.2,549.1 1045.9,542.0 1045.9,527.8 1058.2,520.7 1070.5,527.8"/><polygon points="1095.1,542.0 1082.8,549.1 1070.5,542.0 1070.5,527.8 1082.8,520.7 1095.1,527.8"/><polygon points="910.6,563.3 898.3,570.4 886.0,563.3 886.0,549.1 898.3,542.0 910.6,549.1"/><polygon points="935.2,563.3 922.9,570.4 910.6,563.3 910.6,549.1 922.9,542.0 935.2,549.1"/><polygon points="959.8,563.3 947.5,570.4 935.2,563.3 935.2,549.1 947.5,542.0 959.8,549.1"/><polygon points="984.4,563.3 972.1,570.4 959.8,563.3 959.8,549.1 972.1,542.0 984.4,549.1"/><polygon points="1009.0,563.3 996.7,570.4 984.4,563.3 984.4,549.1 996.7,542.0 1009.0,549.1"/><polygon points="1033.6,563.3 1021.3,570.4 1009.0,563.3 1009.0,549.1 1021.3,542.0 1033.6,549.1"/><polygon points="1058.2,563.3 1045.9,570.4 1033.6,563.3 1033.6,549.1 1045.9,542.0 1058.2,549.1"/><polygon points="1082.8,563.3 1070.5,570.4 1058.2,563.3 1058.2,549.1 1070.5,542.0 1082.8,549.1"/><polygon points="922.9,584.6 910.6,591.7 898.3,584.6 898.3,570.4 910.6,563.3 922.9,570.4"/><polygon points="947.5,584.6 935.2,591.7 922.9,584.6 922.9,570.4 935.2,563.3 947.5,570.4"/><polygon points="972.1,584.6 959.8,591.7 947.5,584.6 947.5,570.4 959.8,563.3 972.1,570.4"/><polygon points="996.7,584.6 984.4,591.7 972.1,584.6 972.1,570.4 984.4,563.3 996.7,570.4"/><polygon points="1021.3,584.6 1009.0,591.7 996.7,584.6 996.7,570.4 1009.0,563.3 1021.3,570.4"/><polygon points="1045.9,584.6 1033.6,591.7 1021.3,584.6 1021.3,570.4 1033.6,563.3 1045.9,570.4"/><polygon points="1070.5,584.6 1058.2,591.7 1045.9,584.6 1045.9,570.4 1058.2,563.3 1070.5,570.4"/><polygon points="1095.1,584.6 1082.8,591.7 1070.5,584.6 1070.5,570.4 1082.8,563.3 1095.1,570.4"/><polygon points="910.6,605.9 898.3,613.0 886.0,605.9 886.0,591.7 898.3,584.6 910.6,591.7"/><polygon points="935.2,605.9 922.9,613.0 910.6,605.9 910.6,591.7 922.9,584.6 935.2,591.7"/><polygon points="959.8,605.9 947.5,613.0 935.2,605.9 935.2,591.7 947.5,584.6 959.8,591.7"/><polygon points="984.4,605.9 972.1,613.0 959.8,605.9 959.8,591.7 972.1,584.6 984.4,591.7"/><polygon points="1009.0,605.9 996.7,613.0 984.4,605.9 984.4,591.7 996.7,584.6 1009.0,591.7"/><polygon points="1033.6,605.9 1021.3,613.0 1009.0,605.9 1009.0,591.7 1021.3,584.6 1033.6,591.7"/><polygon points="1058.2,605.9 1045.9,613.0 1033.6,605.9 1033.6,591.7 1045.9,584.6 1058.2,591.7"/><polygon points="1082.8,605.9 1070.5,613.0 1058.2,605.9 1058.2,591.7 1070.5,584.6 1082.8,591.7"/></g><rect x="916.90" y="605.80" width="148.20" height="16.6" fill="#3e3e3e"/><rect x="916.90" y="623.40" width="148.20" height="24.1" fill="#454545"/><path d="M988.60 546.60 H1065.10 V581.40 H988.60 L978.80 564.00 Z" fill="#4b4b4b" stroke="#262626" stroke-width="0.6"/><text x="993.30" y="556.00" font-size="6.6" fill="#e6e6e6" font-family="Liberation Sans,sans-serif">Grenton</text><text x="993.30" y="567.60" font-size="9" fill="#f4f4f4" textLength="52.6" lengthAdjust="spacingAndGlyphs" font-family="Liberation Sans,sans-serif"></text></svg><div class="a" style="left:1004.5px;top:140.4px;width:284.1px;height:386.5px;background:#fff;border-radius:2px;border:1px solid #e5e7eb;box-sizing:border-box;"></div><span class="t" style="letter-spacing:0.015px;top:157px;font-size:12.2px;line-height:18px;color:#111;font-weight:500;left:1022.0px;">Informacje o rozdzielnicy</span><svg class="a" style="left:1256.2px;top:157.6px;" width="14.5" height="14.5" viewBox="0 0 16 16"><path fill="none" stroke="#222" stroke-linecap="round" stroke-linejoin="round" stroke-width="1.6" d="M3.6 5.8 L8 10.2 L12.4 5.8"/></svg><span class="t" style="letter-spacing:-0.003px;top:192px;font-size:12.2px;line-height:18px;color:#111;font-weight:500;left:1022.0px;">Informacje o urządzeniu</span><svg class="a" style="left:1256.2px;top:193.4px;" width="14.5" height="14.5" viewBox="0 0 16 16"><path fill="none" stroke="#222" stroke-linecap="round" stroke-linejoin="round" stroke-width="1.6" d="M3.6 5.8 L8 10.2 L12.4 5.8"/></svg><span class="t" style="letter-spacing:-0.085px;top:228px;font-size:12.2px;line-height:18px;color:#111;font-weight:500;left:1022.0px;">Dodaj urządzenie</span><svg class="a" style="left:1256.2px;top:229.2px;" width="14.5" height="14.5" viewBox="0 0 16 16"><path fill="none" stroke="#222" stroke-linecap="round" stroke-linejoin="round" stroke-width="1.6" d="M3.6 10.2 L8 5.8 L12.4 10.2"/></svg><div class="a" style="left:1010.6px;top:181.8px;width:272.4px;height:1.0px;background:#e9ebee;"></div><div class="a" style="left:1010.6px;top:217.3px;width:272.4px;height:1.0px;background:#e9ebee;"></div><span class="t" style="letter-spacing:0.103px;top:268px;font-size:10.5px;line-height:16px;color:#1f2937;font-weight:500;left:1033.4px;-webkit-text-stroke:0.2px #1f2937;">Aby dodać urządzenie do rozdzielnicy:</span><span class="t" style="letter-spacing:0.142px;top:294px;font-size:10.4px;line-height:15px;color:#9aa1ab;left:1033.4px;">• Kliknij na szynę DIN w miejscu, gdzie chcesz</span><span class="t" style="letter-spacing:0.123px;top:308px;font-size:10.4px;line-height:15px;color:#9aa1ab;left:1033.4px;">dodać urządzenie</span><span class="t" style="letter-spacing:0.175px;top:335px;font-size:10.4px;line-height:15px;color:#9aa1ab;left:1033.4px;">• Następnie wybierz urządzenie z katalogu</span><span class="t" style="letter-spacing:0.161px;top:360px;font-size:10.4px;line-height:15px;color:#9aa1ab;left:1033.4px;">• Urządzenie zostanie automatycznie dodane</span><span class="t" style="letter-spacing:0.174px;top:375px;font-size:10.4px;line-height:15px;color:#9aa1ab;left:1033.4px;">w wybranym miejscu</span><svg class="a" style="left:1033.6px;top:413.6px;" width="7.0" height="11.0" viewBox="0 0 7 11"><path d="M3.5 0.6a2.9 2.9 0 0 0-1.6 5.3v1.6h3.2V5.9A2.9 2.9 0 0 0 3.5 0.6z" fill="#fde68a" stroke="#d6a928" stroke-width="0.6"/><rect x="2.1" y="8.2" width="2.8" height="1.8" fill="#9ca3af"/></svg><span class="t" style="letter-spacing:0.127px;top:412px;font-size:10.4px;line-height:15px;color:#8d949e;left:1046.0px;">Wskazówka:</span><span class="t" style="letter-spacing:0.174px;top:434px;font-size:10.4px;line-height:15px;color:#9aa1ab;left:1045.2px;">• Skopiuj urządzenie: <span style="color:#7a818b">Alt + klik</span> lub kliknij</span><span class="t" style="letter-spacing:0.160px;top:449px;font-size:10.4px;line-height:15px;color:#9aa1ab;left:1045.2px;">prawym przyciskiem myszy</span><span class="t" style="letter-spacing:0.174px;top:470px;font-size:10.4px;line-height:15px;color:#9aa1ab;left:1045.2px;">• Zaznacz wiele urządzeń klawiszem <span style="color:#7a818b">Ctrl/</span></span><span class="t" style="letter-spacing:0.100px;top:485px;font-size:10.4px;line-height:15px;color:#9aa1ab;left:1045.2px;"><span style="color:#7a818b">Cmd</span> i skopiuj wszystkie naraz</span><div class="a" style="left:1285.0px;top:653.9px;width:30.0px;height:24.5px;background:#069a51;border-radius:3px;"></div><svg class="a" style="left:1291.0px;top:660.0px;" width="12" height="12" viewBox="0 0 16 16"><path fill="none" stroke="#fff" stroke-linecap="round" stroke-linejoin="round" stroke-width="1.5" d="M8 13.4 V2.8 M3.6 7.2 L8 2.8 L12.4 7.2"/></svg><div class="a" style="left:0.0px;top:0.0px;width:213.4px;height:695.3px;background:#2d3743;"></div><span class="t" style="letter-spacing:-0.620px;top:19px;font-size:19.6px;line-height:27px;color:#8c8c8c;left:13.5px;font-family:'DejaVu Sans','Liberation Sans',sans-serif;"><span style="-webkit-text-stroke:0.55px #8c8c8c">strefa</span><span style="color:#14ad4c;-webkit-text-stroke:1px #14ad4c">e</span><span style="-webkit-text-stroke:0.55px #8c8c8c">lektryki</span><span style="color:#14ad4c;-webkit-text-stroke:0.9px #14ad4c">.</span><span style="-webkit-text-stroke:0.55px #8c8c8c">pl</span></span><svg class="a" style="left:15.6px;top:78.5px;" width="17.5" height="17.5" viewBox="0 0 16 16"><path fill="#c9ced6" d="M8 1.6 L0.8 8 h2 v6.4 h3.9 V10 h2.6 v4.4 h3.9 V8 h2 L12.6 5.7 V2.6 h-1.9 v1.4 Z"/></svg><span class="t" style="letter-spacing:-0.041px;top:79px;font-size:10.6px;line-height:16px;color:#eef0f3;left:41.6px;-webkit-text-stroke:0.15px currentColor;">Strona główna</span><svg class="a" style="left:15.6px;top:119.9px;" width="17.5" height="17.5" viewBox="0 0 16 16"><path fill="#c9ced6" d="M0.6 3.6 a1.3 1.3 0 0 1 1.3-1.3 h3.9 l1.7 1.7 h6.6 a1.3 1.3 0 0 1 1.3 1.3 v7.1 a1.3 1.3 0 0 1-1.3 1.3 H1.9 a1.3 1.3 0 0 1-1.3-1.3 Z"/></svg><span class="t" style="letter-spacing:0.015px;top:121px;font-size:10.6px;line-height:16px;color:#eef0f3;left:41.6px;-webkit-text-stroke:0.15px currentColor;">Projekty</span><div class="a" style="left:7.2px;top:152.8px;width:198.8px;height:34.0px;background:#069a51;border-radius:3px;box-shadow:0 1px 3px rgba(0,0,0,.25);"></div><svg class="a" style="left:16.4px;top:162.0px;" width="16" height="16" viewBox="0 0 16 16"><path fill="none" stroke="#fff" stroke-linecap="round" stroke-linejoin="round" stroke-width="1.45" d="M2.7 2.8 H6 Q7.7 2.8 7.7 4.4 Q7.7 6 6 6 H4.2 Q2.7 6.2 2.7 8.4 Q2.7 10.9 4.8 10.9 H7.6"/><path fill="#fff" d="M9.7 8.2 H11.9 V13.7 H9.7 a2.75 2.75 0 0 1 0-5.5 Z"/><rect fill="#fff" x="12.5" y="9.2" width="2.2" height="1.2"/><rect fill="#fff" x="12.5" y="11.8" width="2.2" height="1.2"/></svg><span class="t" style="letter-spacing:-0.064px;top:162px;font-size:10.6px;line-height:16px;color:#fff;left:41.6px;-webkit-text-stroke:0.15px currentColor;">Rozdzielnice</span><svg class="a" style="left:15.6px;top:202.6px;" width="17.5" height="17.5" viewBox="0 0 16 16"><rect fill="#c9ced6" x="0" y="4.9" width="2.1" height="6.4"/><rect fill="#c9ced6" x="13.9" y="4.9" width="2.1" height="6.4"/><path fill="#c9ced6" fill-rule="evenodd" d="M3 5.09 L5.6 3.96 Q6.4 3.7 7.2 4.05 L8 4.4 L9.6 3.87 Q10.3 3.7 11 3.96 L13 5.09 V10.4 H12.3 L9.5 12.4 Q8.3 13.1 7.1 12.4 L4.3 10.4 H3 Z M5.7 6.92 L6.3 6.31 L10.9 9.27 L10.3 9.88 Z M7.6 10.84 L8.1 10.31 L9.7 11.36 L9.2 11.88 Z M4.6 8.4 L5.2 7.88 L6.6 8.92 L6 9.44 Z"/></svg><span class="t" style="letter-spacing:0.109px;top:203px;font-size:10.6px;line-height:16px;color:#eef0f3;left:41.6px;-webkit-text-stroke:0.15px currentColor;">Oferty</span><svg class="a" style="left:187.0px;top:207.2px;" width="9" height="9" viewBox="0 0 16 16"><path fill="none" stroke="#c9ced6" stroke-linecap="round" stroke-linejoin="round" stroke-width="1.6" d="M6.2 3.6 L10.6 8 L6.2 12.4"/></svg><svg class="a" style="left:15.6px;top:244.2px;" width="17.5" height="17.5" viewBox="0 0 16 16"><path fill="#c9ced6" d="M2.8 0.8 h5.7 v4.2 h4.3 v10.2 H2.8 Z M9.6 0.8 L12.8 4 H9.6 Z"/></svg><span class="t" style="letter-spacing:0.034px;top:245px;font-size:10.6px;line-height:16px;color:#eef0f3;left:41.6px;-webkit-text-stroke:0.15px currentColor;">Dokumenty</span><div class="a" style="left:7.2px;top:537.6px;width:198.8px;height:1.0px;background:#414b58;"></div><svg class="a" style="left:16.6px;top:566.5px;" width="15.5" height="15.5" viewBox="0 0 16 16"><path fill="none" stroke="#c9ced6" stroke-linecap="round" stroke-linejoin="round" stroke-width="1.15" d="M13.8 10.4 A6.3 6.3 0 1 1 6.2 1.9 A5 5 0 0 0 13.8 10.4 Z"/></svg><span class="t" style="letter-spacing:0.138px;top:566px;font-size:10.6px;line-height:16px;color:#d3d7de;left:41.6px;-webkit-text-stroke:0.15px currentColor;">Włącz tryb ciemny</span><svg class="a" style="left:16.1px;top:608.0px;" width="16.5" height="16.5" viewBox="0 0 16 16"><path fill="none" stroke="#e5e7eb" stroke-linecap="round" stroke-linejoin="round" stroke-width="1.15" d="M2.6 2.4 h10.8 a1.6 1.6 0 0 1 1.6 1.6 v6 a1.6 1.6 0 0 1-1.6 1.6 H6.4 L3.4 14 v-2.4 H2.6 A1.6 1.6 0 0 1 1 10 V4 A1.6 1.6 0 0 1 2.6 2.4 Z"/><circle fill="#e5e7eb" cx="5.2" cy="7" r="0.9"/><circle fill="#e5e7eb" cx="8" cy="7" r="0.9"/><circle fill="#e5e7eb" cx="10.8" cy="7" r="0.9"/></svg><span class="t" style="letter-spacing:0.028px;top:608px;font-size:10.6px;line-height:16px;color:#eef0f3;left:41.6px;-webkit-text-stroke:0.15px currentColor;">Zgłoś błąd lub sugestię</span><svg class="a" style="left:16.6px;top:649.8px;" width="15.5" height="15.5" viewBox="0 0 16 16"><path fill="#d9dde3" d="M1.2 2.2 h7.2 a0.8 0.8 0 0 1 .8 .8 v3.7 H6 v2.6 h3.2 V13 a0.8 0.8 0 0 1-.8 .8 H1.2 Z"/><path fill="none" stroke="#d9dde3" stroke-linecap="round" stroke-linejoin="round" stroke-width="1.4" d="M7 8 H14.6 M12 5.2 L14.8 8 L12 10.8"/></svg><span class="t" style="letter-spacing:0.038px;top:649px;font-size:10.6px;line-height:16px;color:#eef0f3;left:41.6px;-webkit-text-stroke:0.15px currentColor;">Wyloguj się</span><div class="a" style="left:204.8px;top:13.8px;width:17.2px;height:17.2px;background:#3a4452;border-radius:9px;box-shadow:0 1px 3px rgba(0,0,0,.3);"></div><svg class="a" style="left:208.1px;top:17.6px;" width="9.5" height="9.5" viewBox="0 0 16 16"><path fill="none" stroke="#cfd4db" stroke-linecap="round" stroke-linejoin="round" stroke-width="2.1" d="M9.8 3.6 L5.4 8 L9.8 12.4"/></svg></div></div><div class="a" style="left:0.0px;top:692.6px;width:213.4px;height:1.1px;background:#b9bec5;"></div><div class="sec" style="top:694.0px;height:665.3px"><div class="fr" style="left:0.0px;top:-694.0px;"><div class="a" style="left:212.0px;top:694.0px;width:1100.0px;height:44.2px;background:#f9f9f9;border-bottom:1px solid #f0f0f0;"></div><div class="a" style="left:992.6px;top:704.1px;width:171.5px;height:25.2px;background:#f9fafb;border-radius:5px;border:1px solid #e7e9ec;box-sizing:border-box;"></div><svg class="a" style="left:1003.1px;top:711.9px;" width="9.6" height="9.6" viewBox="0 0 16 16"><circle fill="none" stroke="#2a2a2a" stroke-linecap="round" stroke-linejoin="round" stroke-width="1.7" cx="6.6" cy="6.6" r="4.7"/><path fill="none" stroke="#2a2a2a" stroke-linecap="round" stroke-linejoin="round" stroke-width="2" d="M10.3 10.3 L14.4 14.4"/></svg><span class="t" style="letter-spacing:0.302px;top:710px;font-size:10.4px;line-height:15px;color:#222;left:1019.1px;">Szukaj</span><div class="a" style="left:1115.6px;top:710.7px;width:40.0px;height:12.0px;background:#eceef1;border-radius:2px;"></div><span class="t" style="top:711px;font-size:8.4px;line-height:14px;color:#8b929c;left:1135.6px;transform:translateX(-50%);font-family:'Liberation Mono',monospace;">Ctrl+K</span><span class="t" style="letter-spacing:0.202px;top:763px;font-size:29.4px;line-height:37px;color:#111;font-weight:700;left:319.0px;">Moje oferty</span><div class="a" style="left:319.0px;top:805.8px;width:922.3px;height:1.2px;background:#e3e5e9;"></div><div class="a" style="left:318.8px;top:830.2px;width:185.9px;height:25.5px;background:#fff;border-radius:3px;border:1px solid #e2e5e9;box-sizing:border-box;"></div><svg class="a" style="left:326.2px;top:838.3px;" width="10" height="10" viewBox="0 0 16 16"><circle fill="none" stroke="#8d949e" stroke-linecap="round" stroke-linejoin="round" stroke-width="1.7" cx="6.6" cy="6.6" r="4.7"/><path fill="none" stroke="#8d949e" stroke-linecap="round" stroke-linejoin="round" stroke-width="2" d="M10.3 10.3 L14.4 14.4"/></svg><span class="t" style="letter-spacing:0.088px;top:836px;font-size:10.4px;line-height:15px;color:#b9bec7;left:343.9px;">Szukaj oferty po nazwie...</span><div class="a" style="left:513.2px;top:830.2px;width:143.1px;height:25.5px;background:#fff;border-radius:3px;border:1px solid #e2e5e9;box-sizing:border-box;"></div><svg class="a" style="left:521.5px;top:838.8px;" width="9" height="9" viewBox="0 0 16 16"><path fill="#555" d="M8 1.8 L11.6 6.4 H4.4 Z M8 14.2 L4.4 9.6 H11.6 Z"/></svg><span class="t" style="letter-spacing:0.114px;top:836px;font-size:10.4px;line-height:15px;color:#111;left:537.9px;">Data utworzenia</span><svg class="a" style="left:640.6px;top:838.9px;" width="4.8" height="4.8" viewBox="0 0 16 16"><path fill="none" stroke="#999" stroke-linecap="round" stroke-linejoin="round" stroke-width="1.6" d="M3.6 10.2 L8 5.8 L12.4 10.2"/></svg><svg class="a" style="left:640.6px;top:843.1px;" width="4.8" height="4.8" viewBox="0 0 16 16"><path fill="none" stroke="#999" stroke-linecap="round" stroke-linejoin="round" stroke-width="1.6" d="M3.6 5.8 L8 10.2 L12.4 5.8"/></svg><div class="a" style="left:664.7px;top:830.2px;width:83.6px;height:25.5px;background:#d9f0e2;border-radius:3px;"></div><svg class="a" style="left:673.8px;top:839.5px;" width="9" height="9" viewBox="0 0 16 16"><path fill="#0f9d55" d="M3.4 5.6 H12.6 L8 11 Z"/></svg><span class="t" style="letter-spacing:0.061px;top:836px;font-size:10.2px;line-height:15px;color:#0f9d55;font-weight:700;left:689.9px;">malejąco</span><div class="a" style="left:757.3px;top:830.2px;width:143.3px;height:25.5px;background:#fff;border-radius:3px;border:1px solid #e2e5e9;box-sizing:border-box;"></div><svg class="a" style="left:765.4px;top:838.2px;" width="10.5" height="10.5" viewBox="0 0 16 16"><path fill="#666" d="M1 1.6 h14 L9.8 8 v6.6 L6.2 12.2 V8 Z"/></svg><span class="t" style="letter-spacing:0.109px;top:836px;font-size:10.4px;line-height:15px;color:#b9bec7;left:783.9px;">Filtruj po projekcie</span><div class="a" style="left:1133.2px;top:829.9px;width:108.1px;height:25.8px;background:#069a51;border-radius:3px;"></div><svg class="a" style="left:1142.0px;top:837.8px;" width="10.5" height="10.5" viewBox="0 0 16 16"><path fill="none" stroke="#fff" stroke-linecap="round" stroke-linejoin="round" stroke-width="2.2" stroke-linecap="butt" d="M8 2.6 V13.4 M2.6 8 H13.4"/></svg><span class="t" style="letter-spacing:0.116px;top:836px;font-size:10.2px;line-height:15px;color:#fff;font-weight:700;left:1160.6px;">Utwórz ofertę</span><div class="a" style="left:319.0px;top:870.9px;width:922.3px;height:82.0px;background:#fff;border-radius:4px;"></div><span class="t" style="letter-spacing:0.026px;top:887px;font-size:11.6px;line-height:16px;color:#0f9d55;font-weight:700;left:332.9px;">Oferta przykładowa nr 1 - kompletna instalacja elektryczna w budynku mieszkalnym jednorodzinnym</span><span class="t" style="top:885px;font-size:13px;line-height:19px;color:#a9afb8;left:896.4px;">•</span><span class="t" style="letter-spacing:0.036px;top:887px;font-size:11.6px;line-height:16px;color:#0f9d55;font-weight:700;left:911.1px;">Przykładowy projekt</span><div class="a" style="left:1031.7px;top:887.5px;width:69.9px;height:14.4px;background:#eaf5de;border-radius:7.2px;"></div><span class="t" style="letter-spacing:0.397px;top:888px;font-size:7.2px;line-height:13px;color:#5b9a1e;font-weight:700;left:1041.3px;">STWORZONA</span><span class="t" style="top:885px;font-size:12.2px;line-height:18px;color:#0f9d55;font-weight:700;right:calc(100% - 1228.3px);letter-spacing:0.2px;">44 151,82 zł</span><span class="t" style="top:912px;font-size:8.8px;line-height:14px;color:#9aa1ab;left:332.9px;letter-spacing:0.15px;">Klient</span><span class="t" style="letter-spacing:0.030px;top:925px;font-size:10.4px;line-height:15px;color:#111;left:332.9px;">Jan Kowalski</span><span class="t" style="top:912px;font-size:8.8px;line-height:14px;color:#9aa1ab;left:408.9px;letter-spacing:0.15px;">Lokalizacja</span><span class="t" style="letter-spacing:0.140px;top:925px;font-size:10.4px;line-height:15px;color:#111;left:408.9px;">Cyncynopol</span><span class="t" style="top:912px;font-size:8.8px;line-height:14px;color:#9aa1ab;left:479.6px;letter-spacing:0.15px;">Utworzono</span><span class="t" style="letter-spacing:0.072px;top:925px;font-size:10.4px;line-height:15px;color:#111;left:479.6px;">23.01.2026, 08:22</span><span class="t" style="top:912px;font-size:8.8px;line-height:14px;color:#9aa1ab;left:579.5px;letter-spacing:0.15px;">Zaktualizowano</span><span class="t" style="letter-spacing:0.072px;top:925px;font-size:10.4px;line-height:15px;color:#111;left:579.5px;">23.01.2026, 08:22</span><span class="t" style="top:912px;font-size:8.8px;line-height:14px;color:#9aa1ab;left:680.0px;letter-spacing:0.15px;">Typ oferty</span><span class="t" style="letter-spacing:0.150px;top:925px;font-size:10.4px;line-height:15px;color:#111;left:680.0px;">Netto i brutto</span><div class="a" style="left:319.0px;top:965.5px;width:922.3px;height:82.0px;background:#fff;border-radius:4px;"></div><span class="t" style="letter-spacing:0.070px;top:982px;font-size:11.6px;line-height:16px;color:#0f9d55;font-weight:700;left:332.9px;">Oferta przykładowa nr 2 - wymiana instalacji elektrycznej w mieszkaniu z materiałem klienta</span><span class="t" style="top:979px;font-size:13px;line-height:19px;color:#a9afb8;left:850.7px;">•</span><span class="t" style="letter-spacing:0.036px;top:982px;font-size:11.6px;line-height:16px;color:#0f9d55;font-weight:700;left:864.6px;">Przykładowy projekt</span><div class="a" style="left:985.1px;top:982.1px;width:69.1px;height:14.4px;background:#eaf5de;border-radius:7.2px;"></div><span class="t" style="letter-spacing:0.333px;top:983px;font-size:7.2px;line-height:13px;color:#5b9a1e;font-weight:700;left:994.6px;">STWORZONA</span><span class="t" style="top:980px;font-size:12.2px;line-height:18px;color:#0f9d55;font-weight:700;right:calc(100% - 1228.3px);letter-spacing:0.2px;">10 850,00 zł</span><span class="t" style="top:1006px;font-size:8.8px;line-height:14px;color:#9aa1ab;left:332.9px;letter-spacing:0.15px;">Klient</span><span class="t" style="letter-spacing:0.079px;top:1019px;font-size:10.4px;line-height:15px;color:#111;left:332.9px;">Ferdynand Kiepski</span><span class="t" style="top:1006px;font-size:8.8px;line-height:14px;color:#9aa1ab;left:435.3px;letter-spacing:0.15px;">Lokalizacja</span><span class="t" style="letter-spacing:0.149px;top:1019px;font-size:10.4px;line-height:15px;color:#111;left:435.3px;">Wrocław, ul. Ćwiartki 3/4</span><span class="t" style="top:1006px;font-size:8.8px;line-height:14px;color:#9aa1ab;left:567.5px;letter-spacing:0.15px;">Utworzono</span><span class="t" style="letter-spacing:0.072px;top:1019px;font-size:10.4px;line-height:15px;color:#111;left:567.5px;">23.01.2026, 08:22</span><span class="t" style="top:1006px;font-size:8.8px;line-height:14px;color:#9aa1ab;left:667.5px;letter-spacing:0.15px;">Zaktualizowano</span><span class="t" style="letter-spacing:0.072px;top:1019px;font-size:10.4px;line-height:15px;color:#111;left:667.5px;">23.01.2026, 08:22</span><span class="t" style="top:1006px;font-size:8.8px;line-height:14px;color:#9aa1ab;left:767.4px;letter-spacing:0.15px;">Typ oferty</span><span class="t" style="letter-spacing:0.068px;top:1019px;font-size:10.4px;line-height:15px;color:#111;left:767.4px;">Tylko netto</span><div class="a" style="left:319.0px;top:1060.1px;width:922.3px;height:82.0px;background:#fff;border-radius:4px;"></div><span class="t" style="letter-spacing:0.054px;top:1076px;font-size:11.6px;line-height:16px;color:#0f9d55;font-weight:700;left:332.9px;">Oferta przykładowa nr 3 - rozdzielnica pod Smart Home Grenton na Profi+ (xEnergy) EATON</span><span class="t" style="top:1074px;font-size:13px;line-height:19px;color:#a9afb8;left:849.4px;">•</span><span class="t" style="letter-spacing:0.036px;top:1076px;font-size:11.6px;line-height:16px;color:#0f9d55;font-weight:700;left:862.6px;">Przykładowy projekt</span><div class="a" style="left:986.0px;top:1076.7px;width:66.0px;height:14.4px;background:#eaf5de;border-radius:7.2px;"></div><span class="t" style="letter-spacing:0.083px;top:1078px;font-size:7.2px;line-height:13px;color:#5b9a1e;font-weight:700;left:995.1px;">STWORZONA</span><span class="t" style="top:1074px;font-size:12.2px;line-height:18px;color:#0f9d55;font-weight:700;right:calc(100% - 1228.3px);letter-spacing:0.2px;">63 317,77 zł</span><span class="t" style="top:1101px;font-size:8.8px;line-height:14px;color:#9aa1ab;left:332.5px;letter-spacing:0.15px;">Klient</span><span class="t" style="letter-spacing:0.227px;top:1114px;font-size:10.4px;line-height:15px;color:#111;left:332.5px;">Grzegorz Brzęczyszczykiewicz</span><span class="t" style="top:1101px;font-size:8.8px;line-height:14px;color:#9aa1ab;left:494.6px;letter-spacing:0.15px;">Lokalizacja</span><span class="t" style="letter-spacing:0.156px;top:1114px;font-size:10.4px;line-height:15px;color:#111;left:494.6px;">Wólka Sokołowska koło Wólki Niedźwiedzkiej</span><span class="t" style="top:1101px;font-size:8.8px;line-height:14px;color:#9aa1ab;left:724.2px;letter-spacing:0.15px;">Utworzono</span><span class="t" style="letter-spacing:0.072px;top:1114px;font-size:10.4px;line-height:15px;color:#111;left:724.2px;">23.01.2026, 08:22</span><span class="t" style="top:1101px;font-size:8.8px;line-height:14px;color:#9aa1ab;left:823.7px;letter-spacing:0.15px;">Zaktualizowano</span><span class="t" style="letter-spacing:0.072px;top:1114px;font-size:10.4px;line-height:15px;color:#111;left:823.7px;">23.01.2026, 08:22</span><span class="t" style="top:1101px;font-size:8.8px;line-height:14px;color:#9aa1ab;left:924.0px;letter-spacing:0.15px;">Typ oferty</span><span class="t" style="letter-spacing:0.150px;top:1114px;font-size:10.4px;line-height:15px;color:#111;left:924.0px;">Netto i brutto</span><span class="t" style="letter-spacing:0.217px;top:1157px;font-size:10.2px;line-height:15px;color:#a0a6b0;left:780.5px;transform:translateX(-50%);">Wyświetlanie 1 - 3 z 3 ofert</span><div class="a" style="left:212.0px;top:1308.0px;width:1100.0px;height:1.0px;background:#efefef;"></div><span class="t" style="letter-spacing:0.247px;top:1334px;font-size:10.5px;line-height:16px;color:#9096a0;left:662.0px;">© 2026</span><span class="t" style="letter-spacing:0.042px;top:1333px;font-size:12.4px;line-height:18px;color:#4b5563;font-weight:700;left:711.0px;"><span style="color:#12a150">e</span>ltrivo</span><span class="t" style="letter-spacing:0.112px;top:1334px;font-size:10.5px;line-height:16px;color:#9096a0;left:760.0px;">Wszelkie prawa zastrzeżone.</span><div class="a" style="left:-2px;top:685px;width:230px;height:700px"><div class="a" style="left:0.0px;top:0.0px;width:214.3px;height:695.3px;background:#2d3743;"></div><span class="t" style="letter-spacing:-0.620px;top:19px;font-size:19.6px;line-height:27px;color:#8c8c8c;left:13.5px;font-family:'DejaVu Sans','Liberation Sans',sans-serif;"><span style="-webkit-text-stroke:0.55px #8c8c8c">strefa</span><span style="color:#14ad4c;-webkit-text-stroke:1px #14ad4c">e</span><span style="-webkit-text-stroke:0.55px #8c8c8c">lektryki</span><span style="color:#14ad4c;-webkit-text-stroke:0.9px #14ad4c">.</span><span style="-webkit-text-stroke:0.55px #8c8c8c">pl</span></span><svg class="a" style="left:15.6px;top:78.5px;" width="17.5" height="17.5" viewBox="0 0 16 16"><path fill="#c9ced6" d="M8 1.6 L0.8 8 h2 v6.4 h3.9 V10 h2.6 v4.4 h3.9 V8 h2 L12.6 5.7 V2.6 h-1.9 v1.4 Z"/></svg><span class="t" style="letter-spacing:-0.041px;top:79px;font-size:10.6px;line-height:16px;color:#eef0f3;left:41.6px;-webkit-text-stroke:0.15px currentColor;">Strona główna</span><svg class="a" style="left:15.6px;top:119.9px;" width="17.5" height="17.5" viewBox="0 0 16 16"><path fill="#c9ced6" d="M0.6 3.6 a1.3 1.3 0 0 1 1.3-1.3 h3.9 l1.7 1.7 h6.6 a1.3 1.3 0 0 1 1.3 1.3 v7.1 a1.3 1.3 0 0 1-1.3 1.3 H1.9 a1.3 1.3 0 0 1-1.3-1.3 Z"/></svg><span class="t" style="letter-spacing:0.015px;top:121px;font-size:10.6px;line-height:16px;color:#eef0f3;left:41.6px;-webkit-text-stroke:0.15px currentColor;">Projekty</span><svg class="a" style="left:16.4px;top:162.0px;" width="16" height="16" viewBox="0 0 16 16"><path fill="none" stroke="#c9ced6" stroke-linecap="round" stroke-linejoin="round" stroke-width="1.45" d="M2.7 2.8 H6 Q7.7 2.8 7.7 4.4 Q7.7 6 6 6 H4.2 Q2.7 6.2 2.7 8.4 Q2.7 10.9 4.8 10.9 H7.6"/><path fill="#c9ced6" d="M9.7 8.2 H11.9 V13.7 H9.7 a2.75 2.75 0 0 1 0-5.5 Z"/><rect fill="#c9ced6" x="12.5" y="9.2" width="2.2" height="1.2"/><rect fill="#c9ced6" x="12.5" y="11.8" width="2.2" height="1.2"/></svg><span class="t" style="letter-spacing:-0.064px;top:162px;font-size:10.6px;line-height:16px;color:#eef0f3;left:41.6px;-webkit-text-stroke:0.15px currentColor;">Rozdzielnice</span><div class="a" style="left:7.2px;top:194.2px;width:199.7px;height:34.0px;background:#069a51;border-radius:3px;box-shadow:0 1px 3px rgba(0,0,0,.25);"></div><svg class="a" style="left:15.6px;top:202.6px;" width="17.5" height="17.5" viewBox="0 0 16 16"><rect fill="#fff" x="0" y="4.9" width="2.1" height="6.4"/><rect fill="#fff" x="13.9" y="4.9" width="2.1" height="6.4"/><path fill="#fff" fill-rule="evenodd" d="M3 5.09 L5.6 3.96 Q6.4 3.7 7.2 4.05 L8 4.4 L9.6 3.87 Q10.3 3.7 11 3.96 L13 5.09 V10.4 H12.3 L9.5 12.4 Q8.3 13.1 7.1 12.4 L4.3 10.4 H3 Z M5.7 6.92 L6.3 6.31 L10.9 9.27 L10.3 9.88 Z M7.6 10.84 L8.1 10.31 L9.7 11.36 L9.2 11.88 Z M4.6 8.4 L5.2 7.88 L6.6 8.92 L6 9.44 Z"/></svg><span class="t" style="letter-spacing:0.109px;top:203px;font-size:10.6px;line-height:16px;color:#fff;left:41.6px;-webkit-text-stroke:0.15px currentColor;">Oferty</span><svg class="a" style="left:186.5px;top:207.2px;" width="9" height="9" viewBox="0 0 16 16"><path fill="none" stroke="#e5e7eb" stroke-linecap="round" stroke-linejoin="round" stroke-width="1.6" d="M3.6 10.2 L8 5.8 L12.4 10.2"/></svg><div class="a" style="left:30.3px;top:235.3px;width:1.0px;height:88.8px;background:#5b6470;"></div><div class="a" style="left:30.0px;top:235.6px;width:1.3px;height:29.8px;background:#10a556;"></div><span class="t" style="letter-spacing:0.136px;top:242px;font-size:10.6px;line-height:16px;color:#eef0f3;left:43.0px;-webkit-text-stroke:0.15px currentColor;">Moje oferty</span><span class="t" style="letter-spacing:0.060px;top:272px;font-size:10.6px;line-height:16px;color:#eef0f3;left:43.0px;-webkit-text-stroke:0.15px currentColor;">Moi kontrahenci</span><span class="t" style="letter-spacing:0.044px;top:302px;font-size:10.6px;line-height:16px;color:#eef0f3;left:43.0px;-webkit-text-stroke:0.15px currentColor;">Produkty i ceny</span><svg class="a" style="left:15.6px;top:340.4px;" width="17.5" height="17.5" viewBox="0 0 16 16"><path fill="#c9ced6" d="M2.8 0.8 h5.7 v4.2 h4.3 v10.2 H2.8 Z M9.6 0.8 L12.8 4 H9.6 Z"/></svg><span class="t" style="letter-spacing:0.034px;top:341px;font-size:10.6px;line-height:16px;color:#eef0f3;left:41.6px;-webkit-text-stroke:0.15px currentColor;">Dokumenty</span><div class="a" style="left:7.2px;top:539.1px;width:198.8px;height:1.0px;background:#414b58;"></div><svg class="a" style="left:16.6px;top:568.0px;" width="15.5" height="15.5" viewBox="0 0 16 16"><path fill="none" stroke="#c9ced6" stroke-linecap="round" stroke-linejoin="round" stroke-width="1.15" d="M13.8 10.4 A6.3 6.3 0 1 1 6.2 1.9 A5 5 0 0 0 13.8 10.4 Z"/></svg><span class="t" style="letter-spacing:0.138px;top:568px;font-size:10.6px;line-height:16px;color:#d3d7de;left:41.6px;-webkit-text-stroke:0.15px currentColor;">Włącz tryb ciemny</span><svg class="a" style="left:16.1px;top:609.5px;" width="16.5" height="16.5" viewBox="0 0 16 16"><path fill="none" stroke="#e5e7eb" stroke-linecap="round" stroke-linejoin="round" stroke-width="1.15" d="M2.6 2.4 h10.8 a1.6 1.6 0 0 1 1.6 1.6 v6 a1.6 1.6 0 0 1-1.6 1.6 H6.4 L3.4 14 v-2.4 H2.6 A1.6 1.6 0 0 1 1 10 V4 A1.6 1.6 0 0 1 2.6 2.4 Z"/><circle fill="#e5e7eb" cx="5.2" cy="7" r="0.9"/><circle fill="#e5e7eb" cx="8" cy="7" r="0.9"/><circle fill="#e5e7eb" cx="10.8" cy="7" r="0.9"/></svg><span class="t" style="letter-spacing:0.028px;top:609px;font-size:10.6px;line-height:16px;color:#eef0f3;left:41.6px;-webkit-text-stroke:0.15px currentColor;">Zgłoś błąd lub sugestię</span><svg class="a" style="left:16.6px;top:651.2px;" width="15.5" height="15.5" viewBox="0 0 16 16"><path fill="#d9dde3" d="M1.2 2.2 h7.2 a0.8 0.8 0 0 1 .8 .8 v3.7 H6 v2.6 h3.2 V13 a0.8 0.8 0 0 1-.8 .8 H1.2 Z"/><path fill="none" stroke="#d9dde3" stroke-linecap="round" stroke-linejoin="round" stroke-width="1.4" d="M7 8 H14.6 M12 5.2 L14.8 8 L12 10.8"/></svg><span class="t" style="letter-spacing:0.038px;top:651px;font-size:10.6px;line-height:16px;color:#eef0f3;left:41.6px;-webkit-text-stroke:0.15px currentColor;">Wyloguj się</span><div class="a" style="left:205.6px;top:13.6px;width:17.2px;height:17.2px;background:#3a4452;border-radius:9px;box-shadow:0 1px 3px rgba(0,0,0,.3);"></div><svg class="a" style="left:208.8px;top:17.4px;" width="9.5" height="9.5" viewBox="0 0 16 16"><path fill="none" stroke="#cfd4db" stroke-linecap="round" stroke-linejoin="round" stroke-width="2.1" d="M9.8 3.6 L5.4 8 L9.8 12.4"/></svg></div></div></div><div class="a" style="left:0.0px;top:1358.7px;width:212.3px;height:1.1px;background:#b9bec5;"></div><div class="sec" style="top:1360.0px;height:692.2px"><div class="fr" style="left:0.0px;top:-1360.0px;"><div class="a" style="left:213.4px;top:1360.0px;width:1100.0px;height:43.0px;background:#f9f9f9;border-bottom:1px solid #f0f0f0;"></div><div class="a" style="left:979.8px;top:1368.3px;width:170.6px;height:25.2px;background:#f9fafb;border-radius:5px;border:1px solid #e7e9ec;box-sizing:border-box;"></div><svg class="a" style="left:990.3px;top:1376.1px;" width="9.6" height="9.6" viewBox="0 0 16 16"><circle fill="none" stroke="#2a2a2a" stroke-linecap="round" stroke-linejoin="round" stroke-width="1.7" cx="6.6" cy="6.6" r="4.7"/><path fill="none" stroke="#2a2a2a" stroke-linecap="round" stroke-linejoin="round" stroke-width="2" d="M10.3 10.3 L14.4 14.4"/></svg><span class="t" style="letter-spacing:0.302px;top:1374px;font-size:10.4px;line-height:15px;color:#222;left:1006.3px;">Szukaj</span><div class="a" style="left:1101.9px;top:1374.9px;width:40.0px;height:12.0px;background:#eceef1;border-radius:2px;"></div><span class="t" style="top:1375px;font-size:8.4px;line-height:14px;color:#8b929c;left:1121.9px;transform:translateX(-50%);font-family:'Liberation Mono',monospace;">Ctrl+K</span><div class="a" style="left:313.7px;top:1421.8px;width:918.5px;height:457.7px;background:#fff;border-radius:5px;"></div><span class="t" style="letter-spacing:0.344px;top:1437px;font-size:15.6px;line-height:21px;color:#111;font-weight:700;left:328.0px;">Informacje podstawowe</span><div class="a" style="left:1124.7px;top:1438.7px;width:93.5px;height:17.4px;background:#e7f5d9;border-radius:8.7px;"></div><span class="t" style="letter-spacing:0.368px;top:1441px;font-size:8.9px;line-height:14px;color:#4f9a1c;font-weight:700;left:1135.5px;">STWORZONA</span><svg class="a" style="left:1200.5px;top:1442.8px;" width="10" height="10" viewBox="0 0 16 16"><path fill="none" stroke="#4f9a1c" stroke-linecap="round" stroke-linejoin="round" stroke-width="1.6" d="M3.6 5.8 L8 10.2 L12.4 5.8"/></svg><span class="t" style="top:1470px;font-size:10.4px;line-height:15px;color:#9aa1ab;left:328.0px;letter-spacing:0.2px;">Nazwa oferty</span><span class="t" style="top:1531px;font-size:10.4px;line-height:15px;color:#9aa1ab;left:328.0px;letter-spacing:0.2px;">Projekt</span><span class="t" style="top:1574px;font-size:10.4px;line-height:15px;color:#9aa1ab;left:328.0px;letter-spacing:0.2px;">Klient</span><span class="t" style="top:1636px;font-size:10.4px;line-height:15px;color:#9aa1ab;left:328.0px;letter-spacing:0.2px;">Ważność oferty</span><span class="t" style="top:1470px;font-size:10.4px;line-height:15px;color:#9aa1ab;left:778.7px;letter-spacing:0.2px;">Typ oferty</span><span class="t" style="top:1531px;font-size:10.4px;line-height:15px;color:#9aa1ab;left:778.7px;letter-spacing:0.2px;">Lokalizacja</span><span class="t" style="top:1574px;font-size:10.4px;line-height:15px;color:#9aa1ab;left:778.7px;letter-spacing:0.2px;">Warunki płatności</span><span class="t" style="top:1636px;font-size:10.4px;line-height:15px;color:#9aa1ab;left:778.7px;letter-spacing:0.2px;">Szacowany czas realizacji</span><span class="t" style="top:1739px;font-size:10.4px;line-height:15px;color:#9aa1ab;left:328.0px;letter-spacing:0.2px;">Osoba kontaktowa</span><span class="t" style="top:1739px;font-size:10.4px;line-height:15px;color:#9aa1ab;left:778.7px;letter-spacing:0.2px;">Telefon</span><span class="t" style="top:1782px;font-size:10.4px;line-height:15px;color:#9aa1ab;left:328.0px;letter-spacing:0.2px;">Email</span><span class="t" style="top:1836px;font-size:10.4px;line-height:15px;color:#9aa1ab;left:328.0px;letter-spacing:0.2px;">Data utworzenia</span><span class="t" style="top:1836px;font-size:10.4px;line-height:15px;color:#9aa1ab;left:450.9px;letter-spacing:0.2px;">Ostatnia aktualizacja</span><span class="t" style="letter-spacing:0.314px;top:1484px;font-size:11.8px;line-height:18px;color:#111;left:328.0px;-webkit-text-stroke:0.3px #111;">Oferta przykładowa nr 1 - kompletna instalacja elektryczna w budynku</span><span class="t" style="letter-spacing:0.356px;top:1502px;font-size:11.8px;line-height:18px;color:#111;left:328.0px;-webkit-text-stroke:0.3px #111;">mieszkalnym jednorodzinnym</span><span class="t" style="letter-spacing:0.321px;top:1545px;font-size:11.8px;line-height:18px;color:#0f9d55;left:328.0px;-webkit-text-stroke:0.3px #0f9d55;">Przykładowy projekt</span><span class="t" style="letter-spacing:0.078px;top:1589px;font-size:11.8px;line-height:18px;color:#111;left:328.0px;">Jan Kowalski</span><span class="t" style="letter-spacing:-0.059px;top:1650px;font-size:11.8px;line-height:18px;color:#111;left:328.0px;">14 dni</span><span class="t" style="letter-spacing:0.340px;top:1484px;font-size:11.8px;line-height:18px;color:#111;left:778.7px;-webkit-text-stroke:0.3px #111;">Netto i brutto</span><span class="t" style="letter-spacing:0.256px;top:1545px;font-size:11.8px;line-height:18px;color:#111;left:778.7px;">Cyncynopol</span><span class="t" style="letter-spacing:0.183px;top:1589px;font-size:11.8px;line-height:18px;color:#111;left:778.7px;">Podzielona na etapy. Materiał na dany etap płatny przed rozpoczęciem prac,</span><span class="t" style="letter-spacing:0.207px;top:1608px;font-size:11.8px;line-height:18px;color:#111;left:778.7px;">robocizna danego etapu po wykonaniu prac.</span><span class="t" style="letter-spacing:0.230px;top:1650px;font-size:11.8px;line-height:18px;color:#111;left:778.7px;">etap przed tynkowaniem - 2 tygodnie od rozpoczęcia, etap po tynkowaniu - 1</span><span class="t" style="letter-spacing:0.272px;top:1668px;font-size:11.8px;line-height:18px;color:#111;left:778.7px;">tydzień od rozpoczęcia</span><span class="t" style="letter-spacing:0.318px;top:1754px;font-size:11.8px;line-height:18px;color:#111;left:328.0px;">Krzysztof Jarzyna</span><span class="t" style="letter-spacing:0.393px;top:1754px;font-size:11.8px;line-height:18px;color:#111;left:778.7px;">+48 444 555 666</span><span class="t" style="letter-spacing:0.154px;top:1796px;font-size:11.8px;line-height:18px;color:#111;left:328.0px;">instalacje-jarzyna@jarzyna.eu</span><span class="t" style="letter-spacing:0.158px;top:1709px;font-size:12.6px;line-height:18px;color:#111;font-weight:700;left:328.0px;">Kontakt</span><span class="t" style="letter-spacing:0.174px;top:1851px;font-size:10.2px;line-height:15px;color:#111;left:328.0px;">23.01.2026, 08:22:57</span><span class="t" style="letter-spacing:0.109px;top:1851px;font-size:10.2px;line-height:15px;color:#111;left:450.9px;">23.01.2026, 08:22:57</span><div class="a" style="left:314.0px;top:1903.5px;width:918.4px;height:200.0px;background:#eef5fd;border-radius:5px;border:1.6px solid #9fc2f2;box-sizing:border-box;"></div><span class="t" style="letter-spacing:0.241px;top:1918px;font-size:8.3px;line-height:14px;color:#374151;font-weight:700;left:349.9px;">Standard</span><span class="t" style="top:1918px;font-size:9px;line-height:14px;color:#b0b7c0;left:394.5px;letter-spacing:0.2px;">•</span><span class="t" style="letter-spacing:0.349px;top:1918px;font-size:8.5px;line-height:14px;color:#7b828c;left:404.7px;">Liczba pozycji: 9</span><svg class="a" style="left:328.4px;top:1936.1px;" width="11" height="11" viewBox="0 0 16 16"><path fill="none" stroke="#111" stroke-linecap="round" stroke-linejoin="round" stroke-width="1.6" d="M3.6 10.2 L8 5.8 L12.4 10.2"/></svg><span class="t" style="letter-spacing:0.038px;top:1934px;font-size:11.6px;line-height:16px;color:#111;font-weight:700;left:349.9px;">Zasilanie budynku od ZK do RG - tzw. "WLZ"</span><div class="a" style="left:327.4px;top:1962.3px;width:891.6px;height:41.9px;background:#f1f7fe;"></div><div class="a" style="left:327.4px;top:2004.2px;width:891.6px;height:41.4px;background:#f9fbfd;"></div><div class="a" style="left:327.4px;top:2045.6px;width:891.6px;height:20.0px;background:#f9fbfd;"></div><div class="a" style="left:327.4px;top:1961.8px;width:891.6px;height:1.0px;background:#dfe6ee;"></div><div class="a" style="left:327.4px;top:2003.7px;width:891.6px;height:1.0px;background:#dfe6ee;"></div><div class="a" style="left:327.4px;top:2045.1px;width:891.6px;height:1.0px;background:#dfe6ee;"></div><div class="a" style="left:326.9px;top:1962.3px;width:1.0px;height:100.0px;background:#dfe6ee;"></div><div class="a" style="left:359.8px;top:1962.3px;width:1.0px;height:100.0px;background:#dfe6ee;"></div><div class="a" style="left:432.7px;top:1962.3px;width:1.0px;height:100.0px;background:#dfe6ee;"></div><div class="a" style="left:744.6px;top:1962.3px;width:1.0px;height:100.0px;background:#dfe6ee;"></div><div class="a" style="left:800.4px;top:1962.3px;width:1.0px;height:100.0px;background:#dfe6ee;"></div><div class="a" style="left:851.5px;top:1962.3px;width:1.0px;height:100.0px;background:#dfe6ee;"></div><div class="a" style="left:938.9px;top:1962.3px;width:1.0px;height:100.0px;background:#dfe6ee;"></div><div class="a" style="left:990.0px;top:1962.3px;width:1.0px;height:100.0px;background:#dfe6ee;"></div><div class="a" style="left:1076.6px;top:1962.3px;width:1.0px;height:100.0px;background:#dfe6ee;"></div><div class="a" style="left:1132.5px;top:1962.3px;width:1.0px;height:100.0px;background:#dfe6ee;"></div><div class="a" style="left:1218.5px;top:1962.3px;width:1.0px;height:100.0px;background:#dfe6ee;"></div><span class="t" style="top:1976px;font-size:10.3px;line-height:15px;color:#1f2937;font-weight:700;left:333.9px;letter-spacing:0.2px;">Lp.</span><span class="t" style="letter-spacing:-0.011px;top:1976px;font-size:10.3px;line-height:15px;color:#1f2937;font-weight:700;left:368.3px;">Kategoria</span><span class="t" style="letter-spacing:0.188px;top:1976px;font-size:10.3px;line-height:15px;color:#1f2937;font-weight:700;left:440.6px;">Nazwa</span><span class="t" style="top:1976px;font-size:10.3px;line-height:15px;color:#1f2937;font-weight:700;left:752.6px;letter-spacing:0.2px;">Liczba</span><span class="t" style="top:1976px;font-size:10.3px;line-height:15px;color:#1f2937;font-weight:700;left:808.4px;letter-spacing:0.2px;">jm</span><span class="t" style="top:1976px;font-size:10.3px;line-height:15px;color:#1f2937;font-weight:700;left:946.9px;letter-spacing:0.2px;">VAT</span><span class="t" style="top:1976px;font-size:10.3px;line-height:15px;color:#1f2937;font-weight:700;left:1085.3px;letter-spacing:0.2px;">Rabat</span><span class="t" style="top:1968px;font-size:10.3px;line-height:15px;color:#1f2937;font-weight:700;left:859.6px;letter-spacing:0.2px;">Cena netto</span><span class="t" style="top:1982px;font-size:10.3px;line-height:15px;color:#1f2937;font-weight:700;left:859.6px;letter-spacing:0.2px;">[PLN]</span><span class="t" style="top:1968px;font-size:10.3px;line-height:15px;color:#1f2937;font-weight:700;left:998.0px;letter-spacing:0.2px;">Cena brutto</span><span class="t" style="top:1982px;font-size:10.3px;line-height:15px;color:#1f2937;font-weight:700;left:998.0px;letter-spacing:0.2px;">[PLN]</span><span class="t" style="letter-spacing:-0.020px;top:1976px;font-size:10.3px;line-height:15px;color:#1f2937;font-weight:700;left:1140.6px;">Wartość [PLN]</span><span class="t" style="top:2018px;font-size:10.4px;line-height:15px;color:#222;left:343.9px;transform:translateX(-50%);letter-spacing:0.2px;">1</span><span class="t" style="letter-spacing:-0.079px;top:2018px;font-size:10.4px;line-height:15px;color:#222;left:368.3px;">Robocizna</span><span class="t" style="letter-spacing:-0.024px;top:2007px;font-size:10.4px;line-height:15px;color:#222;left:440.6px;">Wykonanie zasilania budynku, wykop, ułożenie kabla,</span><span class="t" style="letter-spacing:0.103px;top:2027px;font-size:10.4px;line-height:15px;color:#222;left:440.6px;">zasypanie, obustronne podłączenie, uziom.</span><span class="t" style="top:2018px;font-size:10.4px;line-height:15px;color:#222;left:752.6px;letter-spacing:0.2px;">1</span><span class="t" style="top:2018px;font-size:10.4px;line-height:15px;color:#222;left:808.4px;letter-spacing:0.2px;">usługa</span><span class="t" style="top:2018px;font-size:10.4px;line-height:15px;color:#222;left:859.6px;letter-spacing:0.2px;">2000.00</span><span class="t" style="top:2018px;font-size:10.4px;line-height:15px;color:#222;left:946.9px;letter-spacing:0.2px;">8%</span><span class="t" style="top:2018px;font-size:10.4px;line-height:15px;color:#222;left:998.0px;letter-spacing:0.2px;">2160.00</span><span class="t" style="top:2018px;font-size:10.4px;line-height:15px;color:#222;left:1085.3px;letter-spacing:0.2px;">0%</span><span class="t" style="top:2018px;font-size:10.4px;line-height:15px;color:#111;font-weight:700;left:1140.6px;letter-spacing:0.2px;">2160.00</span><div class="a" style="left:1191.7px;top:2008.2px;width:130.0px;height:30.0px;background:#069a51;border-radius:4px;box-shadow:0 2px 6px rgba(0,0,0,.25);"></div><svg class="a" style="left:1202.0px;top:2016.5px;" width="12.5" height="12.5" viewBox="0 0 16 16"><path fill="#fff" d="M11.9 1.1 L14.9 4.1 L13.6 5.4 L10.6 2.4 Z M9.9 3.1 L12.9 6.1 L8.3 10.7 L4.9 11.3 L5.4 7.7 Z"/><path fill="none" stroke="#fff" stroke-linecap="round" stroke-linejoin="round" stroke-width="1.7" stroke-linecap="butt" d="M7.2 3 H2.2 V13.8 H13 V8.8"/></svg><span class="t" style="letter-spacing:-0.043px;top:2015px;font-size:11.6px;line-height:16px;color:#fff;font-weight:700;left:1222.4px;">Edytuj ofertę</span><div class="a" style="left:0px;top:1360px;width:230px;height:700px"><div class="a" style="left:0.0px;top:0.0px;width:213.4px;height:695.3px;background:#2d3743;"></div><span class="t" style="letter-spacing:-0.620px;top:19px;font-size:19.6px;line-height:27px;color:#8c8c8c;left:13.5px;font-family:'DejaVu Sans','Liberation Sans',sans-serif;"><span style="-webkit-text-stroke:0.55px #8c8c8c">strefa</span><span style="color:#14ad4c;-webkit-text-stroke:1px #14ad4c">e</span><span style="-webkit-text-stroke:0.55px #8c8c8c">lektryki</span><span style="color:#14ad4c;-webkit-text-stroke:0.9px #14ad4c">.</span><span style="-webkit-text-stroke:0.55px #8c8c8c">pl</span></span><svg class="a" style="left:15.6px;top:78.5px;" width="17.5" height="17.5" viewBox="0 0 16 16"><path fill="#c9ced6" d="M8 1.6 L0.8 8 h2 v6.4 h3.9 V10 h2.6 v4.4 h3.9 V8 h2 L12.6 5.7 V2.6 h-1.9 v1.4 Z"/></svg><span class="t" style="letter-spacing:-0.041px;top:79px;font-size:10.6px;line-height:16px;color:#eef0f3;left:41.6px;-webkit-text-stroke:0.15px currentColor;">Strona główna</span><svg class="a" style="left:15.6px;top:119.9px;" width="17.5" height="17.5" viewBox="0 0 16 16"><path fill="#c9ced6" d="M0.6 3.6 a1.3 1.3 0 0 1 1.3-1.3 h3.9 l1.7 1.7 h6.6 a1.3 1.3 0 0 1 1.3 1.3 v7.1 a1.3 1.3 0 0 1-1.3 1.3 H1.9 a1.3 1.3 0 0 1-1.3-1.3 Z"/></svg><span class="t" style="letter-spacing:0.015px;top:121px;font-size:10.6px;line-height:16px;color:#eef0f3;left:41.6px;-webkit-text-stroke:0.15px currentColor;">Projekty</span><svg class="a" style="left:16.4px;top:162.0px;" width="16" height="16" viewBox="0 0 16 16"><path fill="none" stroke="#c9ced6" stroke-linecap="round" stroke-linejoin="round" stroke-width="1.45" d="M2.7 2.8 H6 Q7.7 2.8 7.7 4.4 Q7.7 6 6 6 H4.2 Q2.7 6.2 2.7 8.4 Q2.7 10.9 4.8 10.9 H7.6"/><path fill="#c9ced6" d="M9.7 8.2 H11.9 V13.7 H9.7 a2.75 2.75 0 0 1 0-5.5 Z"/><rect fill="#c9ced6" x="12.5" y="9.2" width="2.2" height="1.2"/><rect fill="#c9ced6" x="12.5" y="11.8" width="2.2" height="1.2"/></svg><span class="t" style="letter-spacing:-0.064px;top:162px;font-size:10.6px;line-height:16px;color:#eef0f3;left:41.6px;-webkit-text-stroke:0.15px currentColor;">Rozdzielnice</span><div class="a" style="left:7.2px;top:194.2px;width:198.8px;height:34.0px;background:#069a51;border-radius:3px;box-shadow:0 1px 3px rgba(0,0,0,.25);"></div><svg class="a" style="left:15.6px;top:202.6px;" width="17.5" height="17.5" viewBox="0 0 16 16"><rect fill="#fff" x="0" y="4.9" width="2.1" height="6.4"/><rect fill="#fff" x="13.9" y="4.9" width="2.1" height="6.4"/><path fill="#fff" fill-rule="evenodd" d="M3 5.09 L5.6 3.96 Q6.4 3.7 7.2 4.05 L8 4.4 L9.6 3.87 Q10.3 3.7 11 3.96 L13 5.09 V10.4 H12.3 L9.5 12.4 Q8.3 13.1 7.1 12.4 L4.3 10.4 H3 Z M5.7 6.92 L6.3 6.31 L10.9 9.27 L10.3 9.88 Z M7.6 10.84 L8.1 10.31 L9.7 11.36 L9.2 11.88 Z M4.6 8.4 L5.2 7.88 L6.6 8.92 L6 9.44 Z"/></svg><span class="t" style="letter-spacing:0.109px;top:203px;font-size:10.6px;line-height:16px;color:#fff;left:41.6px;-webkit-text-stroke:0.15px currentColor;">Oferty</span><svg class="a" style="left:186.5px;top:207.2px;" width="9" height="9" viewBox="0 0 16 16"><path fill="none" stroke="#e5e7eb" stroke-linecap="round" stroke-linejoin="round" stroke-width="1.6" d="M3.6 10.2 L8 5.8 L12.4 10.2"/></svg><div class="a" style="left:30.3px;top:235.3px;width:1.0px;height:88.8px;background:#5b6470;"></div><div class="a" style="left:30.0px;top:235.6px;width:1.3px;height:29.8px;background:#10a556;"></div><span class="t" style="letter-spacing:0.136px;top:242px;font-size:10.6px;line-height:16px;color:#eef0f3;left:43.0px;-webkit-text-stroke:0.15px currentColor;">Moje oferty</span><span class="t" style="letter-spacing:0.060px;top:272px;font-size:10.6px;line-height:16px;color:#eef0f3;left:43.0px;-webkit-text-stroke:0.15px currentColor;">Moi kontrahenci</span><span class="t" style="letter-spacing:0.044px;top:302px;font-size:10.6px;line-height:16px;color:#eef0f3;left:43.0px;-webkit-text-stroke:0.15px currentColor;">Produkty i ceny</span><svg class="a" style="left:15.6px;top:340.4px;" width="17.5" height="17.5" viewBox="0 0 16 16"><path fill="#c9ced6" d="M2.8 0.8 h5.7 v4.2 h4.3 v10.2 H2.8 Z M9.6 0.8 L12.8 4 H9.6 Z"/></svg><span class="t" style="letter-spacing:0.034px;top:341px;font-size:10.6px;line-height:16px;color:#eef0f3;left:41.6px;-webkit-text-stroke:0.15px currentColor;">Dokumenty</span><div class="a" style="left:7.2px;top:537.6px;width:198.8px;height:1.0px;background:#414b58;"></div><svg class="a" style="left:16.6px;top:566.5px;" width="15.5" height="15.5" viewBox="0 0 16 16"><path fill="none" stroke="#c9ced6" stroke-linecap="round" stroke-linejoin="round" stroke-width="1.15" d="M13.8 10.4 A6.3 6.3 0 1 1 6.2 1.9 A5 5 0 0 0 13.8 10.4 Z"/></svg><span class="t" style="letter-spacing:0.138px;top:566px;font-size:10.6px;line-height:16px;color:#d3d7de;left:41.6px;-webkit-text-stroke:0.15px currentColor;">Włącz tryb ciemny</span><svg class="a" style="left:16.1px;top:608.0px;" width="16.5" height="16.5" viewBox="0 0 16 16"><path fill="none" stroke="#e5e7eb" stroke-linecap="round" stroke-linejoin="round" stroke-width="1.15" d="M2.6 2.4 h10.8 a1.6 1.6 0 0 1 1.6 1.6 v6 a1.6 1.6 0 0 1-1.6 1.6 H6.4 L3.4 14 v-2.4 H2.6 A1.6 1.6 0 0 1 1 10 V4 A1.6 1.6 0 0 1 2.6 2.4 Z"/><circle fill="#e5e7eb" cx="5.2" cy="7" r="0.9"/><circle fill="#e5e7eb" cx="8" cy="7" r="0.9"/><circle fill="#e5e7eb" cx="10.8" cy="7" r="0.9"/></svg><span class="t" style="letter-spacing:0.028px;top:608px;font-size:10.6px;line-height:16px;color:#eef0f3;left:41.6px;-webkit-text-stroke:0.15px currentColor;">Zgłoś błąd lub sugestię</span><svg class="a" style="left:16.6px;top:649.8px;" width="15.5" height="15.5" viewBox="0 0 16 16"><path fill="#d9dde3" d="M1.2 2.2 h7.2 a0.8 0.8 0 0 1 .8 .8 v3.7 H6 v2.6 h3.2 V13 a0.8 0.8 0 0 1-.8 .8 H1.2 Z"/><path fill="none" stroke="#d9dde3" stroke-linecap="round" stroke-linejoin="round" stroke-width="1.4" d="M7 8 H14.6 M12 5.2 L14.8 8 L12 10.8"/></svg><span class="t" style="letter-spacing:0.038px;top:649px;font-size:10.6px;line-height:16px;color:#eef0f3;left:41.6px;-webkit-text-stroke:0.15px currentColor;">Wyloguj się</span><div class="a" style="left:204.8px;top:13.8px;width:17.2px;height:17.2px;background:#3a4452;border-radius:9px;box-shadow:0 1px 3px rgba(0,0,0,.3);"></div><svg class="a" style="left:208.1px;top:17.6px;" width="9.5" height="9.5" viewBox="0 0 16 16"><path fill="none" stroke="#cfd4db" stroke-linecap="round" stroke-linejoin="round" stroke-width="2.1" d="M9.8 3.6 L5.4 8 L9.8 12.4"/></svg></div></div></div><div class="a" style="left:0.0px;top:2051.6px;width:213.4px;height:1.1px;background:#b9bec5;"></div><div class="sec" style="top:2052.7px;height:693.6px"><div class="fr" style="left:0.0px;top:-2052.7px;"><div class="a" style="left:213.4px;top:2053.0px;width:1100.0px;height:43.0px;background:#f9f9f9;border-bottom:1px solid #f0f0f0;"></div><div class="a" style="left:979.3px;top:2061.6px;width:170.5px;height:25.2px;background:#f9fafb;border-radius:5px;border:1px solid #e7e9ec;box-sizing:border-box;"></div><svg class="a" style="left:989.8px;top:2069.4px;" width="9.6" height="9.6" viewBox="0 0 16 16"><circle fill="none" stroke="#2a2a2a" stroke-linecap="round" stroke-linejoin="round" stroke-width="1.7" cx="6.6" cy="6.6" r="4.7"/><path fill="none" stroke="#2a2a2a" stroke-linecap="round" stroke-linejoin="round" stroke-width="2" d="M10.3 10.3 L14.4 14.4"/></svg><span class="t" style="letter-spacing:0.302px;top:2067px;font-size:10.4px;line-height:15px;color:#222;left:1005.8px;">Szukaj</span><div class="a" style="left:1101.3px;top:2068.2px;width:40.0px;height:12.0px;background:#eceef1;border-radius:2px;"></div><span class="t" style="top:2068px;font-size:8.4px;line-height:14px;color:#8b929c;left:1121.3px;transform:translateX(-50%);font-family:'Liberation Mono',monospace;">Ctrl+K</span><div class="a" style="left:313.6px;top:2098.4px;width:918.6px;height:224.0px;background:#eef5fd;border-radius:5px;border:1.6px solid #9fc2f2;box-sizing:border-box;"></div><span class="t" style="letter-spacing:0.241px;top:2113px;font-size:8.3px;line-height:14px;color:#374151;font-weight:700;left:349.8px;">Standard</span><span class="t" style="top:2113px;font-size:9px;line-height:14px;color:#b0b7c0;left:394.4px;letter-spacing:0.2px;">•</span><span class="t" style="letter-spacing:0.349px;top:2113px;font-size:8.5px;line-height:14px;color:#7b828c;left:404.6px;">Liczba pozycji: 2</span><svg class="a" style="left:328.0px;top:2132.3px;" width="11" height="11" viewBox="0 0 16 16"><path fill="none" stroke="#111" stroke-linecap="round" stroke-linejoin="round" stroke-width="1.6" d="M3.6 10.2 L8 5.8 L12.4 10.2"/></svg><span class="t" style="letter-spacing:0.053px;top:2130px;font-size:11.6px;line-height:16px;color:#111;font-weight:700;left:349.8px;">Dokumentacja powykonawcza i pomiary odbiorcze</span><div class="a" style="left:326.7px;top:2158.8px;width:893.0px;height:41.1px;background:#f1f7fe;"></div><div class="a" style="left:326.7px;top:2199.9px;width:893.0px;height:83.4px;background:#f9fbfd;"></div><div class="a" style="left:326.7px;top:2283.3px;width:893.0px;height:24.5px;background:#cfe0f8;"></div><div class="a" style="left:326.7px;top:2158.3px;width:893.0px;height:1.0px;background:#dfe6ee;"></div><div class="a" style="left:326.7px;top:2199.4px;width:893.0px;height:1.0px;background:#dfe6ee;"></div><div class="a" style="left:326.7px;top:2241.0px;width:893.0px;height:1.0px;background:#dfe6ee;"></div><div class="a" style="left:326.7px;top:2282.8px;width:893.0px;height:1.0px;background:#dfe6ee;"></div><div class="a" style="left:326.7px;top:2307.3px;width:893.0px;height:1.0px;background:#dfe6ee;"></div><div class="a" style="left:326.2px;top:2158.8px;width:1.0px;height:149.0px;background:#dfe6ee;"></div><div class="a" style="left:357.5px;top:2158.8px;width:1.0px;height:149.0px;background:#dfe6ee;"></div><div class="a" style="left:425.0px;top:2158.8px;width:1.0px;height:149.0px;background:#dfe6ee;"></div><div class="a" style="left:737.6px;top:2158.8px;width:1.0px;height:149.0px;background:#dfe6ee;"></div><div class="a" style="left:789.2px;top:2158.8px;width:1.0px;height:149.0px;background:#dfe6ee;"></div><div class="a" style="left:874.9px;top:2158.8px;width:1.0px;height:149.0px;background:#dfe6ee;"></div><div class="a" style="left:956.4px;top:2158.8px;width:1.0px;height:149.0px;background:#dfe6ee;"></div><div class="a" style="left:1003.8px;top:2158.8px;width:1.0px;height:149.0px;background:#dfe6ee;"></div><div class="a" style="left:1085.3px;top:2158.8px;width:1.0px;height:149.0px;background:#dfe6ee;"></div><div class="a" style="left:1136.8px;top:2158.8px;width:1.0px;height:149.0px;background:#dfe6ee;"></div><div class="a" style="left:1219.2px;top:2158.8px;width:1.0px;height:149.0px;background:#dfe6ee;"></div><span class="t" style="top:2172px;font-size:10.3px;line-height:15px;color:#1f2937;font-weight:700;left:334.2px;letter-spacing:0.2px;">Lp.</span><span class="t" style="top:2172px;font-size:10.3px;line-height:15px;color:#1f2937;font-weight:700;left:366.3px;letter-spacing:0.2px;">Kategoria</span><span class="t" style="top:2172px;font-size:10.3px;line-height:15px;color:#1f2937;font-weight:700;left:433.7px;letter-spacing:0.2px;">Nazwa</span><span class="t" style="top:2172px;font-size:10.3px;line-height:15px;color:#1f2937;font-weight:700;left:746.5px;letter-spacing:0.2px;">Liczba</span><span class="t" style="top:2172px;font-size:10.3px;line-height:15px;color:#1f2937;font-weight:700;left:798.0px;letter-spacing:0.2px;">jm</span><span class="t" style="top:2172px;font-size:10.3px;line-height:15px;color:#1f2937;font-weight:700;left:964.4px;letter-spacing:0.2px;">VAT</span><span class="t" style="top:2172px;font-size:10.3px;line-height:15px;color:#1f2937;font-weight:700;left:1093.3px;letter-spacing:0.2px;">Rabat</span><span class="t" style="top:2165px;font-size:10.3px;line-height:15px;color:#1f2937;font-weight:700;left:882.8px;letter-spacing:0.2px;">Cena netto</span><span class="t" style="top:2180px;font-size:10.3px;line-height:15px;color:#1f2937;font-weight:700;left:882.8px;letter-spacing:0.2px;">[PLN]</span><span class="t" style="top:2165px;font-size:10.3px;line-height:15px;color:#1f2937;font-weight:700;left:1011.8px;letter-spacing:0.2px;">Cena brutto</span><span class="t" style="top:2180px;font-size:10.3px;line-height:15px;color:#1f2937;font-weight:700;left:1011.8px;letter-spacing:0.2px;">[PLN]</span><span class="t" style="top:2165px;font-size:10.3px;line-height:15px;color:#1f2937;font-weight:700;left:1144.8px;letter-spacing:0.2px;">Wartość</span><span class="t" style="top:2180px;font-size:10.3px;line-height:15px;color:#1f2937;font-weight:700;left:1144.8px;letter-spacing:0.2px;">[PLN]</span><span class="t" style="top:2214px;font-size:10.4px;line-height:15px;color:#222;left:342.4px;transform:translateX(-50%);letter-spacing:0.2px;">1</span><span class="t" style="letter-spacing:-0.079px;top:2214px;font-size:10.4px;line-height:15px;color:#222;left:366.3px;">Robocizna</span><span class="t" style="letter-spacing:0.134px;top:2206px;font-size:10.4px;line-height:15px;color:#222;left:433.7px;">Pomiary odbiorcze inst. elektr. - bud. mieszk. jednorodzinny</span><span class="t" style="letter-spacing:0.152px;top:2221px;font-size:10.4px;line-height:15px;color:#222;left:433.7px;">(do 50 obwodów) - inst. własna</span><span class="t" style="top:2214px;font-size:10.4px;line-height:15px;color:#222;left:746.5px;letter-spacing:0.2px;">1</span><span class="t" style="top:2206px;font-size:10.4px;line-height:15px;color:#222;left:798.0px;letter-spacing:0.2px;">komplet</span><span class="t" style="top:2221px;font-size:10.4px;line-height:15px;color:#222;left:798.0px;letter-spacing:0.2px;">pomiarów</span><span class="t" style="top:2214px;font-size:10.4px;line-height:15px;color:#222;left:882.8px;letter-spacing:0.2px;">2200.00</span><span class="t" style="top:2214px;font-size:10.4px;line-height:15px;color:#222;left:964.4px;letter-spacing:0.2px;">8%</span><span class="t" style="top:2214px;font-size:10.4px;line-height:15px;color:#222;left:1011.8px;letter-spacing:0.2px;">2376.00</span><span class="t" style="top:2214px;font-size:10.4px;line-height:15px;color:#222;left:1093.3px;letter-spacing:0.2px;">0%</span><span class="t" style="top:2214px;font-size:10.4px;line-height:15px;color:#111;font-weight:700;left:1144.8px;letter-spacing:0.2px;">2376.00</span><span class="t" style="top:2256px;font-size:10.4px;line-height:15px;color:#222;left:342.4px;transform:translateX(-50%);letter-spacing:0.2px;">2</span><span class="t" style="letter-spacing:-0.079px;top:2256px;font-size:10.4px;line-height:15px;color:#222;left:366.3px;">Robocizna</span><span class="t" style="letter-spacing:0.153px;top:2248px;font-size:10.4px;line-height:15px;color:#222;left:433.7px;">Dokumentacja powykonawcza instalacji elektrycznej -</span><span class="t" style="letter-spacing:0.174px;top:2263px;font-size:10.4px;line-height:15px;color:#222;left:433.7px;">aktualizacja planów, schematy, dz. budowy (wpis)</span><span class="t" style="top:2256px;font-size:10.4px;line-height:15px;color:#222;left:746.5px;letter-spacing:0.2px;">1</span><span class="t" style="letter-spacing:0.150px;top:2256px;font-size:10.4px;line-height:15px;color:#222;left:798.0px;">dokumentacja</span><span class="t" style="top:2256px;font-size:10.4px;line-height:15px;color:#222;left:882.8px;letter-spacing:0.2px;">1000.00</span><span class="t" style="top:2256px;font-size:10.4px;line-height:15px;color:#222;left:964.4px;letter-spacing:0.2px;">8%</span><span class="t" style="top:2256px;font-size:10.4px;line-height:15px;color:#222;left:1011.8px;letter-spacing:0.2px;">1080.00</span><span class="t" style="top:2256px;font-size:10.4px;line-height:15px;color:#222;left:1093.3px;letter-spacing:0.2px;">0%</span><span class="t" style="top:2256px;font-size:10.4px;line-height:15px;color:#111;font-weight:700;left:1144.8px;letter-spacing:0.2px;">1080.00</span><span class="t" style="letter-spacing:-0.307px;top:2288px;font-size:10.3px;line-height:15px;color:#1f2937;font-weight:700;left:366.3px;">Robocizna</span><span class="t" style="top:2288px;font-size:10.4px;line-height:15px;color:#222;left:882.8px;letter-spacing:0.2px;">3200.00</span><span class="t" style="top:2288px;font-size:10.4px;line-height:15px;color:#222;left:1011.8px;letter-spacing:0.2px;">3456.00</span><span class="t" style="top:2288px;font-size:10.4px;line-height:15px;color:#111;font-weight:700;left:1144.8px;letter-spacing:0.2px;">3456.00</span><div class="a" style="left:313.6px;top:2336.8px;width:918.6px;height:173.4px;background:#e7f9f2;border-radius:5px;border:1.6px solid #8fe3c0;box-sizing:border-box;"></div><span class="t" style="letter-spacing:0.234px;top:2351px;font-size:11.4px;line-height:16px;color:#111;font-weight:700;left:326.8px;">Podsumowanie oferty</span><div class="a" style="left:327.4px;top:2378.6px;width:891.7px;height:41.2px;background:#ebfbf5;"></div><div class="a" style="left:327.4px;top:2419.8px;width:891.7px;height:52.9px;background:#d9f2e3;"></div><div class="a" style="left:327.4px;top:2472.7px;width:891.7px;height:25.6px;background:#069a51;"></div><div class="a" style="left:327.4px;top:2378.1px;width:891.7px;height:1.0px;background:#d5ebe2;"></div><div class="a" style="left:327.4px;top:2419.3px;width:891.7px;height:1.0px;background:#d5ebe2;"></div><div class="a" style="left:327.4px;top:2445.4px;width:891.7px;height:1.0px;background:#d5ebe2;"></div><div class="a" style="left:327.4px;top:2472.2px;width:891.7px;height:1.0px;background:#d5ebe2;"></div><div class="a" style="left:326.9px;top:2378.6px;width:1.0px;height:94.1px;background:#d5ebe2;"></div><div class="a" style="left:983.5px;top:2378.6px;width:1.0px;height:94.1px;background:#d5ebe2;"></div><div class="a" style="left:1061.8px;top:2378.6px;width:1.0px;height:94.1px;background:#d5ebe2;"></div><div class="a" style="left:1140.2px;top:2378.6px;width:1.0px;height:94.1px;background:#d5ebe2;"></div><div class="a" style="left:1218.6px;top:2378.6px;width:1.0px;height:94.1px;background:#d5ebe2;"></div><div class="a" style="left:983.5px;top:2472.7px;width:1.0px;height:25.6px;background:#3fb57a;"></div><div class="a" style="left:1061.8px;top:2472.7px;width:1.0px;height:25.6px;background:#3fb57a;"></div><div class="a" style="left:1140.2px;top:2472.7px;width:1.0px;height:25.6px;background:#3fb57a;"></div><span class="t" style="top:2392px;font-size:10.3px;line-height:15px;color:#1f2937;font-weight:700;left:334.3px;letter-spacing:0.2px;">Kategoria</span><span class="t" style="top:2385px;font-size:10.3px;line-height:15px;color:#1f2937;font-weight:700;left:991.5px;letter-spacing:0.2px;">Cena netto</span><span class="t" style="top:2399px;font-size:10.3px;line-height:15px;color:#1f2937;font-weight:700;left:991.5px;letter-spacing:0.2px;">[PLN]</span><span class="t" style="top:2385px;font-size:10.3px;line-height:15px;color:#1f2937;font-weight:700;left:1069.9px;letter-spacing:0.2px;">Cena brutto</span><span class="t" style="top:2399px;font-size:10.3px;line-height:15px;color:#1f2937;font-weight:700;left:1069.9px;letter-spacing:0.2px;">[PLN]</span><span class="t" style="top:2385px;font-size:10.3px;line-height:15px;color:#1f2937;font-weight:700;left:1148.3px;letter-spacing:0.2px;">Wartość</span><span class="t" style="top:2399px;font-size:10.3px;line-height:15px;color:#1f2937;font-weight:700;left:1148.3px;letter-spacing:0.2px;">[PLN]</span><span class="t" style="top:2426px;font-size:10.3px;line-height:15px;color:#1f2937;font-weight:700;left:334.3px;letter-spacing:0.2px;">Robocizna</span><span class="t" style="top:2426px;font-size:10.4px;line-height:15px;color:#222;left:991.5px;letter-spacing:0.2px;">19160.00</span><span class="t" style="top:2426px;font-size:10.4px;line-height:15px;color:#222;left:1069.9px;letter-spacing:0.2px;">20692.80</span><span class="t" style="top:2426px;font-size:10.4px;line-height:15px;color:#111;font-weight:700;left:1148.3px;letter-spacing:0.2px;">20692.80</span><span class="t" style="top:2452px;font-size:10.3px;line-height:15px;color:#1f2937;font-weight:700;left:334.3px;letter-spacing:0.2px;">Materiał</span><span class="t" style="top:2452px;font-size:10.4px;line-height:15px;color:#222;left:991.5px;letter-spacing:0.2px;">19072.37</span><span class="t" style="top:2452px;font-size:10.4px;line-height:15px;color:#222;left:1069.9px;letter-spacing:0.2px;">23459.02</span><span class="t" style="top:2452px;font-size:10.4px;line-height:15px;color:#111;font-weight:700;left:1148.3px;letter-spacing:0.2px;">23459.02</span><span class="t" style="top:2478px;font-size:10.3px;line-height:15px;color:#fff;font-weight:700;left:334.3px;letter-spacing:0.2px;">SUMA</span><span class="t" style="top:2479px;font-size:10.4px;line-height:15px;color:#fff;font-weight:700;left:991.5px;letter-spacing:0.2px;">38232.37</span><span class="t" style="top:2479px;font-size:10.4px;line-height:15px;color:#fff;font-weight:700;left:1069.9px;letter-spacing:0.2px;">44151.82</span><span class="t" style="top:2479px;font-size:10.4px;line-height:15px;color:#fff;font-weight:700;left:1148.3px;letter-spacing:0.2px;">44151.82</span><div class="a" style="left:313.7px;top:2535.0px;width:918.5px;height:260.0px;background:#fff;border-radius:5px;"></div><span class="t" style="letter-spacing:0.263px;top:2550px;font-size:12.6px;line-height:18px;color:#111;font-weight:700;left:328.7px;">Dodatkowe uwagi</span><span class="t" style="top:2587px;font-size:10.2px;line-height:15px;color:#a0a6b0;left:336.2px;letter-spacing:0.2px;">Uwaga #1</span><span class="t" style="letter-spacing:0.132px;top:2605px;font-size:10.4px;line-height:15px;color:#111;left:336.2px;">Oświadczam, iż posiadam wszelkie uprawnienia oraz wiedzę techniczną konieczną do wykonania instalacji zgodnie z obowiązującymi przepisami oraz normami.</span><span class="t" style="top:2645px;font-size:10.2px;line-height:15px;color:#a0a6b0;left:336.2px;letter-spacing:0.2px;">Uwaga #2</span><span class="t" style="letter-spacing:0.156px;top:2662px;font-size:10.4px;line-height:15px;color:#111;left:336.2px;">Oświadczam, że zastosowany materiał pochodzi z bieżącej produkcji, jest dobrej jakości i spełnia wymagania norm produktowych oraz posiada odpowiednie certyfikaty, zgodne z</span><span class="t" style="letter-spacing:0.140px;top:2677px;font-size:10.4px;line-height:15px;color:#111;left:336.2px;">obowiązującymi przepisami.</span><span class="t" style="top:2717px;font-size:10.2px;line-height:15px;color:#a0a6b0;left:336.2px;letter-spacing:0.2px;">Uwaga #3</span><span class="t" style="letter-spacing:0.153px;top:2735px;font-size:10.4px;line-height:15px;color:#111;left:336.2px;">Gwarancja na wykonane prace wynosi 36 miesięcy.</span><div class="a" style="left:1191.7px;top:2702.2px;width:130.0px;height:30.0px;background:#069a51;border-radius:4px;box-shadow:0 2px 6px rgba(0,0,0,.25);"></div><svg class="a" style="left:1202.0px;top:2710.5px;" width="12.5" height="12.5" viewBox="0 0 16 16"><path fill="#fff" d="M11.9 1.1 L14.9 4.1 L13.6 5.4 L10.6 2.4 Z M9.9 3.1 L12.9 6.1 L8.3 10.7 L4.9 11.3 L5.4 7.7 Z"/><path fill="none" stroke="#fff" stroke-linecap="round" stroke-linejoin="round" stroke-width="1.7" stroke-linecap="butt" d="M7.2 3 H2.2 V13.8 H13 V8.8"/></svg><span class="t" style="letter-spacing:-0.043px;top:2709px;font-size:11.6px;line-height:16px;color:#fff;font-weight:700;left:1222.4px;">Edytuj ofertę</span><div class="a" style="left:0px;top:2053px;width:230px;height:700px"><div class="a" style="left:0.0px;top:0.0px;width:213.4px;height:695.3px;background:#2d3743;"></div><span class="t" style="letter-spacing:-0.620px;top:19px;font-size:19.6px;line-height:27px;color:#8c8c8c;left:13.5px;font-family:'DejaVu Sans','Liberation Sans',sans-serif;"><span style="-webkit-text-stroke:0.55px #8c8c8c">strefa</span><span style="color:#14ad4c;-webkit-text-stroke:1px #14ad4c">e</span><span style="-webkit-text-stroke:0.55px #8c8c8c">lektryki</span><span style="color:#14ad4c;-webkit-text-stroke:0.9px #14ad4c">.</span><span style="-webkit-text-stroke:0.55px #8c8c8c">pl</span></span><svg class="a" style="left:15.6px;top:78.5px;" width="17.5" height="17.5" viewBox="0 0 16 16"><path fill="#c9ced6" d="M8 1.6 L0.8 8 h2 v6.4 h3.9 V10 h2.6 v4.4 h3.9 V8 h2 L12.6 5.7 V2.6 h-1.9 v1.4 Z"/></svg><span class="t" style="letter-spacing:-0.041px;top:79px;font-size:10.6px;line-height:16px;color:#eef0f3;left:41.6px;-webkit-text-stroke:0.15px currentColor;">Strona główna</span><svg class="a" style="left:15.6px;top:119.9px;" width="17.5" height="17.5" viewBox="0 0 16 16"><path fill="#c9ced6" d="M0.6 3.6 a1.3 1.3 0 0 1 1.3-1.3 h3.9 l1.7 1.7 h6.6 a1.3 1.3 0 0 1 1.3 1.3 v7.1 a1.3 1.3 0 0 1-1.3 1.3 H1.9 a1.3 1.3 0 0 1-1.3-1.3 Z"/></svg><span class="t" style="letter-spacing:0.015px;top:121px;font-size:10.6px;line-height:16px;color:#eef0f3;left:41.6px;-webkit-text-stroke:0.15px currentColor;">Projekty</span><svg class="a" style="left:16.4px;top:162.0px;" width="16" height="16" viewBox="0 0 16 16"><path fill="none" stroke="#c9ced6" stroke-linecap="round" stroke-linejoin="round" stroke-width="1.45" d="M2.7 2.8 H6 Q7.7 2.8 7.7 4.4 Q7.7 6 6 6 H4.2 Q2.7 6.2 2.7 8.4 Q2.7 10.9 4.8 10.9 H7.6"/><path fill="#c9ced6" d="M9.7 8.2 H11.9 V13.7 H9.7 a2.75 2.75 0 0 1 0-5.5 Z"/><rect fill="#c9ced6" x="12.5" y="9.2" width="2.2" height="1.2"/><rect fill="#c9ced6" x="12.5" y="11.8" width="2.2" height="1.2"/></svg><span class="t" style="letter-spacing:-0.064px;top:162px;font-size:10.6px;line-height:16px;color:#eef0f3;left:41.6px;-webkit-text-stroke:0.15px currentColor;">Rozdzielnice</span><div class="a" style="left:7.2px;top:194.2px;width:198.8px;height:34.0px;background:#069a51;border-radius:3px;box-shadow:0 1px 3px rgba(0,0,0,.25);"></div><svg class="a" style="left:15.6px;top:202.6px;" width="17.5" height="17.5" viewBox="0 0 16 16"><rect fill="#fff" x="0" y="4.9" width="2.1" height="6.4"/><rect fill="#fff" x="13.9" y="4.9" width="2.1" height="6.4"/><path fill="#fff" fill-rule="evenodd" d="M3 5.09 L5.6 3.96 Q6.4 3.7 7.2 4.05 L8 4.4 L9.6 3.87 Q10.3 3.7 11 3.96 L13 5.09 V10.4 H12.3 L9.5 12.4 Q8.3 13.1 7.1 12.4 L4.3 10.4 H3 Z M5.7 6.92 L6.3 6.31 L10.9 9.27 L10.3 9.88 Z M7.6 10.84 L8.1 10.31 L9.7 11.36 L9.2 11.88 Z M4.6 8.4 L5.2 7.88 L6.6 8.92 L6 9.44 Z"/></svg><span class="t" style="letter-spacing:0.109px;top:203px;font-size:10.6px;line-height:16px;color:#fff;left:41.6px;-webkit-text-stroke:0.15px currentColor;">Oferty</span><svg class="a" style="left:186.5px;top:207.2px;" width="9" height="9" viewBox="0 0 16 16"><path fill="none" stroke="#e5e7eb" stroke-linecap="round" stroke-linejoin="round" stroke-width="1.6" d="M3.6 10.2 L8 5.8 L12.4 10.2"/></svg><div class="a" style="left:30.3px;top:235.3px;width:1.0px;height:88.8px;background:#5b6470;"></div><div class="a" style="left:30.0px;top:235.6px;width:1.3px;height:29.8px;background:#10a556;"></div><span class="t" style="letter-spacing:0.136px;top:242px;font-size:10.6px;line-height:16px;color:#eef0f3;left:43.0px;-webkit-text-stroke:0.15px currentColor;">Moje oferty</span><span class="t" style="letter-spacing:0.060px;top:272px;font-size:10.6px;line-height:16px;color:#eef0f3;left:43.0px;-webkit-text-stroke:0.15px currentColor;">Moi kontrahenci</span><span class="t" style="letter-spacing:0.044px;top:302px;font-size:10.6px;line-height:16px;color:#eef0f3;left:43.0px;-webkit-text-stroke:0.15px currentColor;">Produkty i ceny</span><svg class="a" style="left:15.6px;top:340.4px;" width="17.5" height="17.5" viewBox="0 0 16 16"><path fill="#c9ced6" d="M2.8 0.8 h5.7 v4.2 h4.3 v10.2 H2.8 Z M9.6 0.8 L12.8 4 H9.6 Z"/></svg><span class="t" style="letter-spacing:0.034px;top:341px;font-size:10.6px;line-height:16px;color:#eef0f3;left:41.6px;-webkit-text-stroke:0.15px currentColor;">Dokumenty</span><div class="a" style="left:7.2px;top:537.6px;width:198.8px;height:1.0px;background:#414b58;"></div><svg class="a" style="left:16.6px;top:566.5px;" width="15.5" height="15.5" viewBox="0 0 16 16"><path fill="none" stroke="#c9ced6" stroke-linecap="round" stroke-linejoin="round" stroke-width="1.15" d="M13.8 10.4 A6.3 6.3 0 1 1 6.2 1.9 A5 5 0 0 0 13.8 10.4 Z"/></svg><span class="t" style="letter-spacing:0.138px;top:566px;font-size:10.6px;line-height:16px;color:#d3d7de;left:41.6px;-webkit-text-stroke:0.15px currentColor;">Włącz tryb ciemny</span><svg class="a" style="left:16.1px;top:608.0px;" width="16.5" height="16.5" viewBox="0 0 16 16"><path fill="none" stroke="#e5e7eb" stroke-linecap="round" stroke-linejoin="round" stroke-width="1.15" d="M2.6 2.4 h10.8 a1.6 1.6 0 0 1 1.6 1.6 v6 a1.6 1.6 0 0 1-1.6 1.6 H6.4 L3.4 14 v-2.4 H2.6 A1.6 1.6 0 0 1 1 10 V4 A1.6 1.6 0 0 1 2.6 2.4 Z"/><circle fill="#e5e7eb" cx="5.2" cy="7" r="0.9"/><circle fill="#e5e7eb" cx="8" cy="7" r="0.9"/><circle fill="#e5e7eb" cx="10.8" cy="7" r="0.9"/></svg><span class="t" style="letter-spacing:0.028px;top:608px;font-size:10.6px;line-height:16px;color:#eef0f3;left:41.6px;-webkit-text-stroke:0.15px currentColor;">Zgłoś błąd lub sugestię</span><svg class="a" style="left:16.6px;top:649.8px;" width="15.5" height="15.5" viewBox="0 0 16 16"><path fill="#d9dde3" d="M1.2 2.2 h7.2 a0.8 0.8 0 0 1 .8 .8 v3.7 H6 v2.6 h3.2 V13 a0.8 0.8 0 0 1-.8 .8 H1.2 Z"/><path fill="none" stroke="#d9dde3" stroke-linecap="round" stroke-linejoin="round" stroke-width="1.4" d="M7 8 H14.6 M12 5.2 L14.8 8 L12 10.8"/></svg><span class="t" style="letter-spacing:0.038px;top:649px;font-size:10.6px;line-height:16px;color:#eef0f3;left:41.6px;-webkit-text-stroke:0.15px currentColor;">Wyloguj się</span><div class="a" style="left:204.8px;top:13.8px;width:17.2px;height:17.2px;background:#3a4452;border-radius:9px;box-shadow:0 1px 3px rgba(0,0,0,.3);"></div><svg class="a" style="left:208.1px;top:17.6px;" width="9.5" height="9.5" viewBox="0 0 16 16"><path fill="none" stroke="#cfd4db" stroke-linecap="round" stroke-linejoin="round" stroke-width="2.1" d="M9.8 3.6 L5.4 8 L9.8 12.4"/></svg></div></div></div><div class="a" style="left:0.0px;top:2745.4px;width:213.4px;height:1.1px;background:#b9bec5;"></div><div class="sec" style="top:2746.3px;height:671.5px"><div class="fr" style="left:0.0px;top:-2746.3px;"><div class="a" style="left:210.6px;top:2747.0px;width:1100.0px;height:53.6px;background:#f9f9f9;border-bottom:1px solid #f0f0f0;"></div><div class="a" style="left:967.5px;top:2766.4px;width:168.5px;height:24.9px;background:#f9fafb;border-radius:5px;border:1px solid #e7e9ec;box-sizing:border-box;"></div><svg class="a" style="left:978.0px;top:2774.0px;" width="9.6" height="9.6" viewBox="0 0 16 16"><circle fill="none" stroke="#2a2a2a" stroke-linecap="round" stroke-linejoin="round" stroke-width="1.7" cx="6.6" cy="6.6" r="4.7"/><path fill="none" stroke="#2a2a2a" stroke-linecap="round" stroke-linejoin="round" stroke-width="2" d="M10.3 10.3 L14.4 14.4"/></svg><span class="t" style="letter-spacing:0.302px;top:2772px;font-size:10.4px;line-height:15px;color:#222;left:994.0px;">Szukaj</span><div class="a" style="left:1087.5px;top:2772.8px;width:40.0px;height:12.0px;background:#eceef1;border-radius:2px;"></div><span class="t" style="top:2773px;font-size:8.4px;line-height:14px;color:#8b929c;left:1107.5px;transform:translateX(-50%);font-family:'Liberation Mono',monospace;">Ctrl+K</span><span class="t" style="letter-spacing:0.010px;top:2826px;font-size:29px;line-height:36px;color:#111;font-weight:700;left:310.7px;">Moje produkty</span><div class="a" style="left:310.7px;top:2866.9px;width:906.5px;height:1.2px;background:#e3e5e9;"></div><div class="a" style="left:310.4px;top:2891.2px;width:125.0px;height:24.4px;background:#fff;border-radius:3px;border:1px solid #e2e5e9;box-sizing:border-box;"></div><svg class="a" style="left:318.5px;top:2898.9px;" width="9" height="9" viewBox="0 0 16 16"><path fill="#555" d="M8 1.8 L11.6 6.4 H4.4 Z M8 14.2 L4.4 9.6 H11.6 Z"/></svg><span class="t" style="letter-spacing:0.145px;top:2896px;font-size:10.2px;line-height:15px;color:#111;left:333.7px;">Data utworzenia</span><svg class="a" style="left:421.5px;top:2898.9px;" width="5" height="5" viewBox="0 0 16 16"><path fill="none" stroke="#888" stroke-linecap="round" stroke-linejoin="round" stroke-width="1.6" d="M3.6 10.2 L8 5.8 L12.4 10.2"/></svg><svg class="a" style="left:421.5px;top:2903.1px;" width="5" height="5" viewBox="0 0 16 16"><path fill="none" stroke="#888" stroke-linecap="round" stroke-linejoin="round" stroke-width="1.6" d="M3.6 5.8 L8 10.2 L12.4 5.8"/></svg><div class="a" style="left:444.9px;top:2891.4px;width:79.8px;height:24.0px;background:#d9f0e2;border-radius:3px;"></div><svg class="a" style="left:454.3px;top:2899.5px;" width="9" height="9" viewBox="0 0 16 16"><path fill="#0f9d55" d="M3.4 5.6 H12.6 L8 11 Z"/></svg><span class="t" style="letter-spacing:-0.002px;top:2896px;font-size:10px;line-height:15px;color:#0f9d55;font-weight:700;left:469.5px;">malejąco</span><div class="a" style="left:532.9px;top:2891.4px;width:175.3px;height:24.0px;background:#fff;border-radius:3px;border:1px solid #e2e5e9;box-sizing:border-box;"></div><svg class="a" style="left:540.3px;top:2898.2px;" width="10" height="10" viewBox="0 0 16 16"><circle fill="none" stroke="#8d949e" stroke-linecap="round" stroke-linejoin="round" stroke-width="1.7" cx="6.6" cy="6.6" r="4.7"/><path fill="none" stroke="#8d949e" stroke-linecap="round" stroke-linejoin="round" stroke-width="2" d="M10.3 10.3 L14.4 14.4"/></svg><span class="t" style="letter-spacing:0.176px;top:2896px;font-size:10.2px;line-height:15px;color:#b9bec7;left:557.6px;">Szukaj produktu</span><div class="a" style="left:715.6px;top:2890.6px;width:113.6px;height:25.4px;background:#069a51;border-radius:3px;"></div><svg class="a" style="left:724.4px;top:2897.9px;" width="10.5" height="10.5" viewBox="0 0 16 16"><path fill="none" stroke="#fff" stroke-linecap="round" stroke-linejoin="round" stroke-width="2.2" stroke-linecap="butt" d="M8 2.6 V13.4 M2.6 8 H13.4"/></svg><span class="t" style="letter-spacing:0.048px;top:2896px;font-size:10px;line-height:15px;color:#fff;font-weight:700;left:742.0px;">Utwórz produkt</span><div class="a" style="left:310.7px;top:2931.6px;width:906.5px;height:58.5px;background:#fff;border-radius:4px;"></div><span class="t" style="letter-spacing:0.210px;top:2943px;font-size:11.3px;line-height:16px;color:#111;font-weight:700;left:320.9px;">Końcówka tulejkowa podwójna izolowana /niebieska/ TV 16-14 /100szt./</span><div class="a" style="left:723.9px;top:2944.8px;width:36.3px;height:13.3px;background:#ebebec;border-radius:6.6px;"></div><span class="t" style="top:2946px;font-size:6.3px;line-height:11px;color:#374151;font-weight:700;left:742.1px;transform:translateX(-50%);letter-spacing:0.3px;">OPAK.</span><div class="a" style="left:767.2px;top:2942.2px;width:64.9px;height:18.2px;background:#e6f5eb;border-radius:9.1px;"></div><span class="t" style="top:2945px;font-size:9.2px;line-height:14px;color:#0f9d55;font-weight:700;left:799.6px;transform:translateX(-50%);letter-spacing:0.2px;">44.13 PLN</span><span class="t" style="letter-spacing:0.205px;top:2967px;font-size:8.6px;line-height:14px;color:#a5abb4;left:320.9px;">Utworzono: 23.01.2026, 08:23</span><span class="t" style="letter-spacing:0.179px;top:2967px;font-size:8.6px;line-height:14px;color:#a5abb4;left:452.9px;">Zaktualizowano: 23.01.2026, 08:23</span><svg class="a" style="left:1156.7px;top:2954.4px;" width="11.5" height="11.5" viewBox="0 0 16 16"><path fill="#111" d="M11.9 1.1 L14.9 4.1 L13.6 5.4 L10.6 2.4 Z M9.9 3.1 L12.9 6.1 L8.3 10.7 L4.9 11.3 L5.4 7.7 Z"/><path fill="none" stroke="#111" stroke-linecap="round" stroke-linejoin="round" stroke-width="1.7" stroke-linecap="butt" d="M7.2 3 H2.2 V13.8 H13 V8.8"/></svg><svg class="a" style="left:1187.0px;top:2953.8px;" width="12.5" height="12.5" viewBox="0 0 16 16"><path fill="#111" d="M5.6 1 h4.8 l.7 1.4 h3.1 v1.8 H1.8 V2.4 h3.1 Z M2.7 5.2 h10.6 l-.7 8.8 a1.3 1.3 0 0 1-1.3 1.2 H4.7 a1.3 1.3 0 0 1-1.3-1.2 Z"/></svg><div class="a" style="left:310.7px;top:3002.7px;width:906.5px;height:58.5px;background:#fff;border-radius:4px;"></div><span class="t" style="letter-spacing:0.174px;top:3014px;font-size:11.3px;line-height:16px;color:#111;font-weight:700;left:320.9px;">Końcówka tulejkowa izolowana TE 16-12 /100szt./</span><div class="a" style="left:601.0px;top:3015.8px;width:36.3px;height:13.3px;background:#ebebec;border-radius:6.6px;"></div><span class="t" style="top:3017px;font-size:6.3px;line-height:11px;color:#374151;font-weight:700;left:619.2px;transform:translateX(-50%);letter-spacing:0.3px;">OPAK.</span><div class="a" style="left:644.3px;top:3013.2px;width:60.7px;height:18.2px;background:#e6f5eb;border-radius:9.1px;"></div><span class="t" style="top:3016px;font-size:9.2px;line-height:14px;color:#0f9d55;font-weight:700;left:674.6px;transform:translateX(-50%);letter-spacing:0.2px;">18.19 PLN</span><span class="t" style="letter-spacing:0.205px;top:3038px;font-size:8.6px;line-height:14px;color:#a5abb4;left:320.9px;">Utworzono: 23.01.2026, 08:23</span><span class="t" style="letter-spacing:0.179px;top:3038px;font-size:8.6px;line-height:14px;color:#a5abb4;left:452.9px;">Zaktualizowano: 23.01.2026, 08:23</span><svg class="a" style="left:1156.7px;top:3025.5px;" width="11.5" height="11.5" viewBox="0 0 16 16"><path fill="#111" d="M11.9 1.1 L14.9 4.1 L13.6 5.4 L10.6 2.4 Z M9.9 3.1 L12.9 6.1 L8.3 10.7 L4.9 11.3 L5.4 7.7 Z"/><path fill="none" stroke="#111" stroke-linecap="round" stroke-linejoin="round" stroke-width="1.7" stroke-linecap="butt" d="M7.2 3 H2.2 V13.8 H13 V8.8"/></svg><svg class="a" style="left:1187.0px;top:3024.8px;" width="12.5" height="12.5" viewBox="0 0 16 16"><path fill="#111" d="M5.6 1 h4.8 l.7 1.4 h3.1 v1.8 H1.8 V2.4 h3.1 Z M2.7 5.2 h10.6 l-.7 8.8 a1.3 1.3 0 0 1-1.3 1.2 H4.7 a1.3 1.3 0 0 1-1.3-1.2 Z"/></svg><div class="a" style="left:310.7px;top:3073.7px;width:906.5px;height:58.5px;background:#fff;border-radius:4px;"></div><span class="t" style="letter-spacing:0.163px;top:3086px;font-size:11.3px;line-height:16px;color:#111;font-weight:700;left:320.9px;">Końcówka tulejkowa izolowana TE 10-12 /100szt./</span><div class="a" style="left:600.5px;top:3086.9px;width:36.3px;height:13.3px;background:#ebebec;border-radius:6.6px;"></div><span class="t" style="top:3088px;font-size:6.3px;line-height:11px;color:#374151;font-weight:700;left:618.7px;transform:translateX(-50%);letter-spacing:0.3px;">OPAK.</span><div class="a" style="left:643.8px;top:3084.3px;width:60.7px;height:18.2px;background:#e6f5eb;border-radius:9.1px;"></div><span class="t" style="top:3087px;font-size:9.2px;line-height:14px;color:#0f9d55;font-weight:700;left:674.1px;transform:translateX(-50%);letter-spacing:0.2px;">14.26 PLN</span><span class="t" style="letter-spacing:0.205px;top:3109px;font-size:8.6px;line-height:14px;color:#a5abb4;left:320.9px;">Utworzono: 23.01.2026, 08:23</span><span class="t" style="letter-spacing:0.179px;top:3109px;font-size:8.6px;line-height:14px;color:#a5abb4;left:452.9px;">Zaktualizowano: 23.01.2026, 08:23</span><svg class="a" style="left:1156.7px;top:3096.5px;" width="11.5" height="11.5" viewBox="0 0 16 16"><path fill="#111" d="M11.9 1.1 L14.9 4.1 L13.6 5.4 L10.6 2.4 Z M9.9 3.1 L12.9 6.1 L8.3 10.7 L4.9 11.3 L5.4 7.7 Z"/><path fill="none" stroke="#111" stroke-linecap="round" stroke-linejoin="round" stroke-width="1.7" stroke-linecap="butt" d="M7.2 3 H2.2 V13.8 H13 V8.8"/></svg><svg class="a" style="left:1187.0px;top:3095.8px;" width="12.5" height="12.5" viewBox="0 0 16 16"><path fill="#111" d="M5.6 1 h4.8 l.7 1.4 h3.1 v1.8 H1.8 V2.4 h3.1 Z M2.7 5.2 h10.6 l-.7 8.8 a1.3 1.3 0 0 1-1.3 1.2 H4.7 a1.3 1.3 0 0 1-1.3-1.2 Z"/></svg><div class="a" style="left:310.7px;top:3144.8px;width:906.5px;height:58.5px;background:#fff;border-radius:4px;"></div><span class="t" style="letter-spacing:0.212px;top:3157px;font-size:11.3px;line-height:16px;color:#111;font-weight:700;left:320.9px;">Końcówka tulejkowa izolowana TE 6-12 /100szt./</span><div class="a" style="left:596.3px;top:3157.9px;width:36.3px;height:13.3px;background:#ebebec;border-radius:6.6px;"></div><span class="t" style="top:3159px;font-size:6.3px;line-height:11px;color:#374151;font-weight:700;left:614.5px;transform:translateX(-50%);letter-spacing:0.3px;">OPAK.</span><div class="a" style="left:639.6px;top:3155.3px;width:58.0px;height:18.2px;background:#e6f5eb;border-radius:9.1px;"></div><span class="t" style="top:3158px;font-size:9.2px;line-height:14px;color:#0f9d55;font-weight:700;left:668.6px;transform:translateX(-50%);letter-spacing:0.2px;">11.71 PLN</span><span class="t" style="letter-spacing:0.205px;top:3180px;font-size:8.6px;line-height:14px;color:#a5abb4;left:320.9px;">Utworzono: 23.01.2026, 08:23</span><span class="t" style="letter-spacing:0.179px;top:3180px;font-size:8.6px;line-height:14px;color:#a5abb4;left:452.9px;">Zaktualizowano: 23.01.2026, 08:23</span><svg class="a" style="left:1156.7px;top:3167.6px;" width="11.5" height="11.5" viewBox="0 0 16 16"><path fill="#111" d="M11.9 1.1 L14.9 4.1 L13.6 5.4 L10.6 2.4 Z M9.9 3.1 L12.9 6.1 L8.3 10.7 L4.9 11.3 L5.4 7.7 Z"/><path fill="none" stroke="#111" stroke-linecap="round" stroke-linejoin="round" stroke-width="1.7" stroke-linecap="butt" d="M7.2 3 H2.2 V13.8 H13 V8.8"/></svg><svg class="a" style="left:1187.0px;top:3166.9px;" width="12.5" height="12.5" viewBox="0 0 16 16"><path fill="#111" d="M5.6 1 h4.8 l.7 1.4 h3.1 v1.8 H1.8 V2.4 h3.1 Z M2.7 5.2 h10.6 l-.7 8.8 a1.3 1.3 0 0 1-1.3 1.2 H4.7 a1.3 1.3 0 0 1-1.3-1.2 Z"/></svg><div class="a" style="left:310.7px;top:3215.8px;width:906.5px;height:58.5px;background:#fff;border-radius:4px;"></div><span class="t" style="letter-spacing:0.213px;top:3228px;font-size:11.3px;line-height:16px;color:#111;font-weight:700;left:320.9px;">Końcówka tulejkowa izolowana TE 2,5-12 /100szt./</span><div class="a" style="left:606.2px;top:3229.0px;width:36.3px;height:13.3px;background:#ebebec;border-radius:6.6px;"></div><span class="t" style="top:3230px;font-size:6.3px;line-height:11px;color:#374151;font-weight:700;left:624.4px;transform:translateX(-50%);letter-spacing:0.3px;">OPAK.</span><div class="a" style="left:649.5px;top:3226.4px;width:55.0px;height:18.2px;background:#e6f5eb;border-radius:9.1px;"></div><span class="t" style="top:3229px;font-size:9.2px;line-height:14px;color:#0f9d55;font-weight:700;left:677.0px;transform:translateX(-50%);letter-spacing:0.2px;">8.52 PLN</span><span class="t" style="letter-spacing:0.205px;top:3251px;font-size:8.6px;line-height:14px;color:#a5abb4;left:320.9px;">Utworzono: 23.01.2026, 08:23</span><span class="t" style="letter-spacing:0.179px;top:3251px;font-size:8.6px;line-height:14px;color:#a5abb4;left:452.9px;">Zaktualizowano: 23.01.2026, 08:23</span><svg class="a" style="left:1156.7px;top:3238.6px;" width="11.5" height="11.5" viewBox="0 0 16 16"><path fill="#111" d="M11.9 1.1 L14.9 4.1 L13.6 5.4 L10.6 2.4 Z M9.9 3.1 L12.9 6.1 L8.3 10.7 L4.9 11.3 L5.4 7.7 Z"/><path fill="none" stroke="#111" stroke-linecap="round" stroke-linejoin="round" stroke-width="1.7" stroke-linecap="butt" d="M7.2 3 H2.2 V13.8 H13 V8.8"/></svg><svg class="a" style="left:1187.0px;top:3237.9px;" width="12.5" height="12.5" viewBox="0 0 16 16"><path fill="#111" d="M5.6 1 h4.8 l.7 1.4 h3.1 v1.8 H1.8 V2.4 h3.1 Z M2.7 5.2 h10.6 l-.7 8.8 a1.3 1.3 0 0 1-1.3 1.2 H4.7 a1.3 1.3 0 0 1-1.3-1.2 Z"/></svg><div class="a" style="left:310.7px;top:3286.8px;width:906.5px;height:58.5px;background:#fff;border-radius:4px;"></div><span class="t" style="letter-spacing:0.178px;top:3299px;font-size:11.3px;line-height:16px;color:#111;font-weight:700;left:320.9px;">Końcówka tulejkowa izolowana TE 1,5-12 /100szt./</span><div class="a" style="left:604.5px;top:3300.0px;width:36.3px;height:13.3px;background:#ebebec;border-radius:6.6px;"></div><span class="t" style="top:3301px;font-size:6.3px;line-height:11px;color:#374151;font-weight:700;left:622.7px;transform:translateX(-50%);letter-spacing:0.3px;">OPAK.</span><div class="a" style="left:647.8px;top:3297.4px;width:55.0px;height:18.2px;background:#e6f5eb;border-radius:9.1px;"></div><span class="t" style="top:3300px;font-size:9.2px;line-height:14px;color:#0f9d55;font-weight:700;left:675.3px;transform:translateX(-50%);letter-spacing:0.2px;">8.00 PLN</span><span class="t" style="letter-spacing:0.205px;top:3322px;font-size:8.6px;line-height:14px;color:#a5abb4;left:320.9px;">Utworzono: 23.01.2026, 08:23</span><span class="t" style="letter-spacing:0.179px;top:3322px;font-size:8.6px;line-height:14px;color:#a5abb4;left:452.9px;">Zaktualizowano: 23.01.2026, 08:23</span><svg class="a" style="left:1156.7px;top:3309.7px;" width="11.5" height="11.5" viewBox="0 0 16 16"><path fill="#111" d="M11.9 1.1 L14.9 4.1 L13.6 5.4 L10.6 2.4 Z M9.9 3.1 L12.9 6.1 L8.3 10.7 L4.9 11.3 L5.4 7.7 Z"/><path fill="none" stroke="#111" stroke-linecap="round" stroke-linejoin="round" stroke-width="1.7" stroke-linecap="butt" d="M7.2 3 H2.2 V13.8 H13 V8.8"/></svg><svg class="a" style="left:1187.0px;top:3309.0px;" width="12.5" height="12.5" viewBox="0 0 16 16"><path fill="#111" d="M5.6 1 h4.8 l.7 1.4 h3.1 v1.8 H1.8 V2.4 h3.1 Z M2.7 5.2 h10.6 l-.7 8.8 a1.3 1.3 0 0 1-1.3 1.2 H4.7 a1.3 1.3 0 0 1-1.3-1.2 Z"/></svg><div class="a" style="left:310.7px;top:3357.9px;width:906.5px;height:58.5px;background:#fff;border-radius:4px;"></div><span class="t" style="letter-spacing:0.157px;top:3370px;font-size:11.3px;line-height:16px;color:#111;font-weight:700;left:320.9px;">Końcówka tulejkowa izolowana TE 1-12 /100szt./</span><div class="a" style="left:593.8px;top:3371.1px;width:36.3px;height:13.3px;background:#ebebec;border-radius:6.6px;"></div><span class="t" style="top:3372px;font-size:6.3px;line-height:11px;color:#374151;font-weight:700;left:612.0px;transform:translateX(-50%);letter-spacing:0.3px;">OPAK.</span><div class="a" style="left:637.1px;top:3368.5px;width:54.0px;height:18.2px;background:#e6f5eb;border-radius:9.1px;"></div><span class="t" style="top:3371px;font-size:9.2px;line-height:14px;color:#0f9d55;font-weight:700;left:664.1px;transform:translateX(-50%);letter-spacing:0.2px;">7.96 PLN</span><span class="t" style="letter-spacing:0.205px;top:3393px;font-size:8.6px;line-height:14px;color:#a5abb4;left:320.9px;">Utworzono: 23.01.2026, 08:23</span><span class="t" style="letter-spacing:0.179px;top:3393px;font-size:8.6px;line-height:14px;color:#a5abb4;left:452.9px;">Zaktualizowano: 23.01.2026, 08:23</span><svg class="a" style="left:1156.7px;top:3380.7px;" width="11.5" height="11.5" viewBox="0 0 16 16"><path fill="#111" d="M11.9 1.1 L14.9 4.1 L13.6 5.4 L10.6 2.4 Z M9.9 3.1 L12.9 6.1 L8.3 10.7 L4.9 11.3 L5.4 7.7 Z"/><path fill="none" stroke="#111" stroke-linecap="round" stroke-linejoin="round" stroke-width="1.7" stroke-linecap="butt" d="M7.2 3 H2.2 V13.8 H13 V8.8"/></svg><svg class="a" style="left:1187.0px;top:3380.0px;" width="12.5" height="12.5" viewBox="0 0 16 16"><path fill="#111" d="M5.6 1 h4.8 l.7 1.4 h3.1 v1.8 H1.8 V2.4 h3.1 Z M2.7 5.2 h10.6 l-.7 8.8 a1.3 1.3 0 0 1-1.3 1.2 H4.7 a1.3 1.3 0 0 1-1.3-1.2 Z"/></svg><div class="a sc" style="left:0px;top:2747px;width:230px;height:700px;transform-origin:0 0;transform:scale(0.987)"><div class="a" style="left:0.0px;top:0.0px;width:213.4px;height:695.3px;background:#2d3743;"></div><span class="t" style="letter-spacing:-0.620px;top:19px;font-size:19.6px;line-height:27px;color:#8c8c8c;left:13.5px;font-family:'DejaVu Sans','Liberation Sans',sans-serif;"><span style="-webkit-text-stroke:0.55px #8c8c8c">strefa</span><span style="color:#14ad4c;-webkit-text-stroke:1px #14ad4c">e</span><span style="-webkit-text-stroke:0.55px #8c8c8c">lektryki</span><span style="color:#14ad4c;-webkit-text-stroke:0.9px #14ad4c">.</span><span style="-webkit-text-stroke:0.55px #8c8c8c">pl</span></span><svg class="a" style="left:15.6px;top:78.5px;" width="17.5" height="17.5" viewBox="0 0 16 16"><path fill="#c9ced6" d="M8 1.6 L0.8 8 h2 v6.4 h3.9 V10 h2.6 v4.4 h3.9 V8 h2 L12.6 5.7 V2.6 h-1.9 v1.4 Z"/></svg><span class="t" style="letter-spacing:-0.041px;top:79px;font-size:10.6px;line-height:16px;color:#eef0f3;left:41.6px;-webkit-text-stroke:0.15px currentColor;">Strona główna</span><svg class="a" style="left:15.6px;top:119.9px;" width="17.5" height="17.5" viewBox="0 0 16 16"><path fill="#c9ced6" d="M0.6 3.6 a1.3 1.3 0 0 1 1.3-1.3 h3.9 l1.7 1.7 h6.6 a1.3 1.3 0 0 1 1.3 1.3 v7.1 a1.3 1.3 0 0 1-1.3 1.3 H1.9 a1.3 1.3 0 0 1-1.3-1.3 Z"/></svg><span class="t" style="letter-spacing:0.015px;top:121px;font-size:10.6px;line-height:16px;color:#eef0f3;left:41.6px;-webkit-text-stroke:0.15px currentColor;">Projekty</span><svg class="a" style="left:16.4px;top:162.0px;" width="16" height="16" viewBox="0 0 16 16"><path fill="none" stroke="#c9ced6" stroke-linecap="round" stroke-linejoin="round" stroke-width="1.45" d="M2.7 2.8 H6 Q7.7 2.8 7.7 4.4 Q7.7 6 6 6 H4.2 Q2.7 6.2 2.7 8.4 Q2.7 10.9 4.8 10.9 H7.6"/><path fill="#c9ced6" d="M9.7 8.2 H11.9 V13.7 H9.7 a2.75 2.75 0 0 1 0-5.5 Z"/><rect fill="#c9ced6" x="12.5" y="9.2" width="2.2" height="1.2"/><rect fill="#c9ced6" x="12.5" y="11.8" width="2.2" height="1.2"/></svg><span class="t" style="letter-spacing:-0.064px;top:162px;font-size:10.6px;line-height:16px;color:#eef0f3;left:41.6px;-webkit-text-stroke:0.15px currentColor;">Rozdzielnice</span><div class="a" style="left:7.2px;top:194.2px;width:198.8px;height:34.0px;background:#069a51;border-radius:3px;box-shadow:0 1px 3px rgba(0,0,0,.25);"></div><svg class="a" style="left:15.6px;top:202.6px;" width="17.5" height="17.5" viewBox="0 0 16 16"><rect fill="#fff" x="0" y="4.9" width="2.1" height="6.4"/><rect fill="#fff" x="13.9" y="4.9" width="2.1" height="6.4"/><path fill="#fff" fill-rule="evenodd" d="M3 5.09 L5.6 3.96 Q6.4 3.7 7.2 4.05 L8 4.4 L9.6 3.87 Q10.3 3.7 11 3.96 L13 5.09 V10.4 H12.3 L9.5 12.4 Q8.3 13.1 7.1 12.4 L4.3 10.4 H3 Z M5.7 6.92 L6.3 6.31 L10.9 9.27 L10.3 9.88 Z M7.6 10.84 L8.1 10.31 L9.7 11.36 L9.2 11.88 Z M4.6 8.4 L5.2 7.88 L6.6 8.92 L6 9.44 Z"/></svg><span class="t" style="letter-spacing:0.109px;top:203px;font-size:10.6px;line-height:16px;color:#fff;left:41.6px;-webkit-text-stroke:0.15px currentColor;">Oferty</span><svg class="a" style="left:186.5px;top:207.2px;" width="9" height="9" viewBox="0 0 16 16"><path fill="none" stroke="#e5e7eb" stroke-linecap="round" stroke-linejoin="round" stroke-width="1.6" d="M3.6 10.2 L8 5.8 L12.4 10.2"/></svg><div class="a" style="left:30.3px;top:235.3px;width:1.0px;height:88.8px;background:#5b6470;"></div><div class="a" style="left:30.0px;top:295.3px;width:1.3px;height:29.8px;background:#10a556;"></div><span class="t" style="letter-spacing:0.136px;top:242px;font-size:10.6px;line-height:16px;color:#eef0f3;left:43.0px;-webkit-text-stroke:0.15px currentColor;">Moje oferty</span><span class="t" style="letter-spacing:0.060px;top:272px;font-size:10.6px;line-height:16px;color:#eef0f3;left:43.0px;-webkit-text-stroke:0.15px currentColor;">Moi kontrahenci</span><span class="t" style="letter-spacing:0.044px;top:302px;font-size:10.6px;line-height:16px;color:#eef0f3;left:43.0px;-webkit-text-stroke:0.15px currentColor;">Produkty i ceny</span><svg class="a" style="left:15.6px;top:340.4px;" width="17.5" height="17.5" viewBox="0 0 16 16"><path fill="#c9ced6" d="M2.8 0.8 h5.7 v4.2 h4.3 v10.2 H2.8 Z M9.6 0.8 L12.8 4 H9.6 Z"/></svg><span class="t" style="letter-spacing:0.034px;top:341px;font-size:10.6px;line-height:16px;color:#eef0f3;left:41.6px;-webkit-text-stroke:0.15px currentColor;">Dokumenty</span><div class="a" style="left:7.2px;top:537.6px;width:198.8px;height:1.0px;background:#414b58;"></div><svg class="a" style="left:16.6px;top:566.5px;" width="15.5" height="15.5" viewBox="0 0 16 16"><path fill="none" stroke="#c9ced6" stroke-linecap="round" stroke-linejoin="round" stroke-width="1.15" d="M13.8 10.4 A6.3 6.3 0 1 1 6.2 1.9 A5 5 0 0 0 13.8 10.4 Z"/></svg><span class="t" style="letter-spacing:0.138px;top:566px;font-size:10.6px;line-height:16px;color:#d3d7de;left:41.6px;-webkit-text-stroke:0.15px currentColor;">Włącz tryb ciemny</span><svg class="a" style="left:16.1px;top:608.0px;" width="16.5" height="16.5" viewBox="0 0 16 16"><path fill="none" stroke="#e5e7eb" stroke-linecap="round" stroke-linejoin="round" stroke-width="1.15" d="M2.6 2.4 h10.8 a1.6 1.6 0 0 1 1.6 1.6 v6 a1.6 1.6 0 0 1-1.6 1.6 H6.4 L3.4 14 v-2.4 H2.6 A1.6 1.6 0 0 1 1 10 V4 A1.6 1.6 0 0 1 2.6 2.4 Z"/><circle fill="#e5e7eb" cx="5.2" cy="7" r="0.9"/><circle fill="#e5e7eb" cx="8" cy="7" r="0.9"/><circle fill="#e5e7eb" cx="10.8" cy="7" r="0.9"/></svg><span class="t" style="letter-spacing:0.028px;top:608px;font-size:10.6px;line-height:16px;color:#eef0f3;left:41.6px;-webkit-text-stroke:0.15px currentColor;">Zgłoś błąd lub sugestię</span><svg class="a" style="left:16.6px;top:649.8px;" width="15.5" height="15.5" viewBox="0 0 16 16"><path fill="#d9dde3" d="M1.2 2.2 h7.2 a0.8 0.8 0 0 1 .8 .8 v3.7 H6 v2.6 h3.2 V13 a0.8 0.8 0 0 1-.8 .8 H1.2 Z"/><path fill="none" stroke="#d9dde3" stroke-linecap="round" stroke-linejoin="round" stroke-width="1.4" d="M7 8 H14.6 M12 5.2 L14.8 8 L12 10.8"/></svg><span class="t" style="letter-spacing:0.038px;top:649px;font-size:10.6px;line-height:16px;color:#eef0f3;left:41.6px;-webkit-text-stroke:0.15px currentColor;">Wyloguj się</span><div class="a" style="left:204.8px;top:13.8px;width:17.2px;height:17.2px;background:#3a4452;border-radius:9px;box-shadow:0 1px 3px rgba(0,0,0,.3);"></div><svg class="a" style="left:208.1px;top:17.6px;" width="9.5" height="9.5" viewBox="0 0 16 16"><path fill="none" stroke="#cfd4db" stroke-linecap="round" stroke-linejoin="round" stroke-width="2.1" d="M9.8 3.6 L5.4 8 L9.8 12.4"/></svg></div></div></div><div class="sec" style="top:3417.8px;height:683.4px"><div class="fr" style="left:0.0px;top:-3417.8px;"><div class="a" style="left:210.6px;top:3417.8px;width:1100.0px;height:53.0px;background:#f9f9f9;border-bottom:1px solid #f0f0f0;"></div><div class="a" style="left:967.3px;top:3437.5px;width:168.5px;height:25.2px;background:#f9fafb;border-radius:5px;border:1px solid #e7e9ec;box-sizing:border-box;"></div><svg class="a" style="left:977.8px;top:3445.3px;" width="9.6" height="9.6" viewBox="0 0 16 16"><circle fill="none" stroke="#2a2a2a" stroke-linecap="round" stroke-linejoin="round" stroke-width="1.7" cx="6.6" cy="6.6" r="4.7"/><path fill="none" stroke="#2a2a2a" stroke-linecap="round" stroke-linejoin="round" stroke-width="2" d="M10.3 10.3 L14.4 14.4"/></svg><span class="t" style="letter-spacing:0.302px;top:3443px;font-size:10.4px;line-height:15px;color:#222;left:993.8px;">Szukaj</span><div class="a" style="left:1087.3px;top:3444.1px;width:40.0px;height:12.0px;background:#eceef1;border-radius:2px;"></div><span class="t" style="top:3444px;font-size:8.4px;line-height:14px;color:#8b929c;left:1107.3px;transform:translateX(-50%);font-family:'Liberation Mono',monospace;">Ctrl+K</span><div class="a" style="left:310.7px;top:3494.5px;width:441.2px;height:175.7px;background:#fff;border-radius:5px;"></div><span class="t" style="letter-spacing:0.166px;top:3517px;font-size:23.2px;line-height:30px;color:#111;font-weight:700;left:332.1px;">Witaj w strefie elektryki!</span><span class="t" style="letter-spacing:0.185px;top:3554px;font-size:11.6px;line-height:16px;color:#222;left:332.1px;">Planuj instalacje, dokumentuj, ofertuj, twórz</span><span class="t" style="letter-spacing:0.239px;top:3572px;font-size:11.6px;line-height:16px;color:#222;left:332.1px;">rozdzielnice, zestawienia materiałów, etykiety</span><span class="t" style="letter-spacing:0.234px;top:3590px;font-size:11.6px;line-height:16px;color:#222;left:332.1px;">i wiele innych.</span><svg class="a" style="left:640px;top:3490px" width="140" height="190" viewBox="0 0 802 1088"><path fill="none" stroke="#2c2c2c" stroke-width="4.2" stroke-linejoin="round" stroke-linecap="round" d="M238 152 Q240 86 295 82 Q350 86 352 152 M232 152 Q295 138 358 156 Q356 168 340 166 M236 156 Q238 168 250 166 M295 84 V112 M270 92 Q262 118 262 146 M322 92 Q330 118 330 148"/><path fill="none" stroke="#2c2c2c" stroke-width="4.2" stroke-linejoin="round" stroke-linecap="round" d="M258 166 Q256 218 295 232 Q334 218 332 166"/><path fill="none" stroke="#2c2c2c" stroke-width="4.2" stroke-linejoin="round" stroke-linecap="round" d="M268 228 L250 240 L262 282 L296 262 L330 282 L344 240 L324 228"/><path fill="none" stroke="#2c2c2c" stroke-width="4.2" stroke-linejoin="round" stroke-linecap="round" d="M250 240 Q196 262 172 290 Q146 346 134 412 Q140 440 214 486"/><path fill="none" stroke="#2c2c2c" stroke-width="4.2" stroke-linejoin="round" stroke-linecap="round" d="M344 240 Q396 262 412 290 Q430 340 436 402"/><path fill="none" stroke="#2c2c2c" stroke-width="4.2" stroke-linejoin="round" stroke-linecap="round" d="M236 252 L252 345 H350 L356 252 M296 264 V344 M252 345 V440 M350 345 V408"/><path fill="none" stroke="#2c2c2c" stroke-width="4.2" stroke-linejoin="round" stroke-linecap="round" d="M256 370 H346 V408 M256 370 V440 M330 382 a6 6 0 1 0 .1 0"/><path fill="none" stroke="#2c2c2c" stroke-width="4.2" stroke-linejoin="round" stroke-linecap="round" d="M316 414 L486 408 L432 494 L270 500 Z M300 432 L316 414"/><path fill="none" stroke="#2c2c2c" stroke-width="4.2" stroke-linejoin="round" stroke-linecap="round" d="M214 452 Q236 440 262 452 L300 470 Q292 486 270 482 L262 500 Q236 500 226 480 Z"/><path fill="none" stroke="#2c2c2c" stroke-width="4.2" stroke-linejoin="round" stroke-linecap="round" d="M404 470 Q426 452 452 458 Q462 474 444 490 Q420 496 408 486"/><path fill="none" stroke="#2c2c2c" stroke-width="4.2" stroke-linejoin="round" stroke-linecap="round" d="M210 506 H404 V522 H210 Z M300 522 V600 H322 V522"/><path fill="none" stroke="#2c2c2c" stroke-width="4.2" stroke-linejoin="round" stroke-linecap="round" d="M196 540 Q192 600 200 620 L244 622 Q250 580 248 540 Z M364 540 Q362 600 378 626 L410 622 Q414 580 408 540 Z"/><path fill="none" stroke="#2c2c2c" stroke-width="4.2" stroke-linejoin="round" stroke-linecap="round" d="M206 524 Q186 700 176 930 M302 620 Q262 800 236 944 M306 620 Q336 800 360 944 M402 524 Q418 700 420 930"/><path fill="none" stroke="#2c2c2c" stroke-width="4.2" stroke-linejoin="round" stroke-linecap="round" d="M176 930 Q144 960 146 984 Q190 992 236 960 L236 944 M176 930 Q204 920 236 944"/><path fill="none" stroke="#2c2c2c" stroke-width="4.2" stroke-linejoin="round" stroke-linecap="round" d="M360 944 Q392 924 420 930 Q462 960 460 984 Q410 994 360 962 Z"/><path fill="none" stroke="#2c2c2c" stroke-width="4.2" stroke-linejoin="round" stroke-linecap="round" d="M216 690 L196 760 M232 800 L206 850 M372 820 L410 850 M372 890 L404 880 M212 700 L226 670"/><path fill="none" stroke="#2c2c2c" stroke-width="4.2" stroke-linejoin="round" stroke-linecap="round" d="M462 148 H506 L472 214 H512 L440 320 L462 246 H430 Z"/><path fill="none" stroke="#2c2c2c" stroke-width="4.2" stroke-linejoin="round" stroke-linecap="round" d="M586 146 L544 204 H570 L554 246 L596 232 M554 246 L520 262"/><path fill="none" stroke="#2c2c2c" stroke-width="4.2" stroke-linejoin="round" stroke-linecap="round" d="M526 290 L480 320 L490 346 L446 370 L440 398"/><path fill="none" stroke="#2c2c2c" stroke-width="4.2" stroke-linejoin="round" stroke-linecap="round" d="M404 180 L416 200 L436 176 M416 200 V222"/><path fill="none" stroke="#2c2c2c" stroke-width="4.2" stroke-linejoin="round" stroke-linecap="round" d="M180 392 L204 404 M170 404 L196 418 M396 392 L430 398"/></svg><div class="a" style="left:774.3px;top:3494.1px;width:442.7px;height:176.7px;background:#069a51;border-radius:5px;"></div><div class="a" style="left:813.9px;top:3517.4px;width:34.0px;height:34.0px;background:rgba(255,255,255,.16);border-radius:17px;border:1.5px solid #e8f7ee;box-sizing:border-box;"></div><span class="t" style="top:3527px;font-size:11.5px;line-height:16px;color:#fff;font-weight:700;left:830.9px;transform:translateX(-50%);letter-spacing:0.2px;">?</span><span class="t" style="letter-spacing:0.056px;top:3520px;font-size:13px;line-height:19px;color:#fff;font-weight:700;left:860.3px;">Czy wiesz, że w planerze rozdzielnic możesz</span><span class="t" style="letter-spacing:-0.020px;top:3539px;font-size:13px;line-height:19px;color:#fff;font-weight:700;left:860.3px;">łatwo zduplikować urządzenie?</span><span class="t" style="letter-spacing:0.167px;top:3571px;font-size:11.8px;line-height:18px;color:#f0fbf4;left:815.2px;">Wystarczy przytrzymać klawisz <b>Alt</b> i kliknąć na wybrane</span><span class="t" style="letter-spacing:0.139px;top:3590px;font-size:11.8px;line-height:18px;color:#f0fbf4;left:815.2px;">urządzenie, aby stworzyć jego kopię.</span><div class="a" style="left:1189.0px;top:3573.9px;width:16.4px;height:16.4px;background:#f3fbf6;border-radius:8.2px;"></div><svg class="a" style="left:1193.2px;top:3577.8px;" width="8.5" height="8.5" viewBox="0 0 16 16"><path fill="none" stroke="#067a40" stroke-linecap="round" stroke-linejoin="round" stroke-width="1.6" d="M6.2 3.6 L10.6 8 L6.2 12.4"/></svg><div class="a" style="left:952.3px;top:3655.9px;width:17.7px;height:2.4px;background:#34d399;border-radius:1.2px;"></div><div class="a" style="left:974.8px;top:3655.9px;width:17.1px;height:2.4px;background:#1fae66;border-radius:1.2px;"></div><div class="a" style="left:998.7px;top:3655.9px;width:17.1px;height:2.4px;background:#1fae66;border-radius:1.2px;"></div><div class="a" style="left:1022.6px;top:3655.9px;width:17.0px;height:2.4px;background:#1fae66;border-radius:1.2px;"></div><span class="t" style="letter-spacing:0.405px;top:3708px;font-size:13.6px;line-height:19px;color:#111;font-weight:700;left:310.2px;">Twoja aktywność z ostatnich 28 dni</span><div class="a" style="left:310.2px;top:3740.9px;width:217.8px;height:55.6px;background:linear-gradient(100deg,#62d28b,#3bbd70);border-radius:7px;"></div><span class="t" style="letter-spacing:0.802px;top:3749px;font-size:19.6px;line-height:26px;color:#fff;font-weight:700;left:321.5px;">0 zł</span><span class="t" style="letter-spacing:0.138px;top:3772px;font-size:9.5px;line-height:15px;color:rgba(255,255,255,.9);left:321.5px;">Wartość zaakceptowanych ofert</span><svg class="a" style="left:486.4px;top:3755.7px;" width="27" height="27" viewBox="0 0 16 16"><path fill="rgba(255,255,255,.88)" fill-rule="evenodd" d="M0.5 3.2 h15 v9.6 h-15 Z M2.4 5.1 v1.6 a1.6 1.6 0 0 0 1.6-1.6 Z M13.6 5.1 h-1.6 a1.6 1.6 0 0 0 1.6 1.6 Z M2.4 10.9 h1.6 a1.6 1.6 0 0 0-1.6-1.6 Z M13.6 10.9 v-1.6 a1.6 1.6 0 0 0-1.6 1.6 Z M8 5.4 a2.6 2.6 0 1 0 0 5.2 a2.6 2.6 0 1 0 0-5.2 Z"/></svg><div class="a" style="left:539.4px;top:3740.9px;width:219.1px;height:55.6px;background:linear-gradient(100deg,#2fc6d8,#0ea3b5);border-radius:7px;"></div><span class="t" style="top:3749px;font-size:19.6px;line-height:26px;color:#fff;font-weight:700;left:550.7px;">0</span><span class="t" style="letter-spacing:0.165px;top:3772px;font-size:9.5px;line-height:15px;color:rgba(255,255,255,.9);left:550.7px;">Liczba nowych kontrahentów</span><svg class="a" style="left:717.6px;top:3756.7px;" width="25" height="25" viewBox="0 0 16 16"><circle fill="rgba(255,255,255,.88)" cx="8" cy="3.6" r="2.3"/><path fill="rgba(255,255,255,.88)" d="M4.4 13.6 V10 a3.6 3.6 0 0 1 7.2 0 v3.6 Z"/><circle fill="rgba(255,255,255,.88)" cx="2.8" cy="5.4" r="1.7"/><path fill="rgba(255,255,255,.88)" d="M0.2 12.4 V9.8 a2.4 2.4 0 0 1 3.6-2.1 a4.6 4.6 0 0 0-.6 2.3 v2.4 Z"/><circle fill="rgba(255,255,255,.88)" cx="13.2" cy="5.4" r="1.7"/><path fill="rgba(255,255,255,.88)" d="M15.8 12.4 V9.8 a2.4 2.4 0 0 0-3.6-2.1 a4.6 4.6 0 0 1 .6 2.3 v2.4 Z"/></svg><div class="a" style="left:768.6px;top:3740.9px;width:217.8px;height:55.6px;background:linear-gradient(100deg,#fdb457,#fb8818);border-radius:7px;"></div><span class="t" style="top:3749px;font-size:19.6px;line-height:26px;color:#fff;font-weight:700;left:779.9px;">3</span><span class="t" style="letter-spacing:0.115px;top:3772px;font-size:9.5px;line-height:15px;color:rgba(255,255,255,.9);left:779.9px;">Liczba ofert</span><svg class="a" style="left:946.2px;top:3756.2px;" width="26" height="26" viewBox="0 0 16 16"><rect fill="rgba(255,255,255,.88)" x="0" y="4.9" width="2.1" height="6.4"/><rect fill="rgba(255,255,255,.88)" x="13.9" y="4.9" width="2.1" height="6.4"/><path fill="rgba(255,255,255,.88)" fill-rule="evenodd" d="M3 5.09 L5.6 3.96 Q6.4 3.7 7.2 4.05 L8 4.4 L9.6 3.87 Q10.3 3.7 11 3.96 L13 5.09 V10.4 H12.3 L9.5 12.4 Q8.3 13.1 7.1 12.4 L4.3 10.4 H3 Z M5.7 6.92 L6.3 6.31 L10.9 9.27 L10.3 9.88 Z M7.6 10.84 L8.1 10.31 L9.7 11.36 L9.2 11.88 Z M4.6 8.4 L5.2 7.88 L6.6 8.92 L6 9.44 Z"/></svg><div class="a" style="left:998.0px;top:3740.9px;width:219.0px;height:55.6px;background:linear-gradient(100deg,#8462ec,#9f80f6);border-radius:7px;"></div><span class="t" style="top:3749px;font-size:19.6px;line-height:26px;color:#fff;font-weight:700;left:1009.3px;">4</span><span class="t" style="letter-spacing:0.182px;top:3772px;font-size:9.5px;line-height:15px;color:rgba(255,255,255,.9);left:1009.3px;">Liczba utworzonych rozdzielnic</span><svg class="a" style="left:1176.1px;top:3757.7px;" width="23" height="23" viewBox="0 0 16 16"><path fill="none" stroke="rgba(255,255,255,.88)" stroke-linecap="round" stroke-linejoin="round" stroke-width="1.45" d="M2.7 2.8 H6 Q7.7 2.8 7.7 4.4 Q7.7 6 6 6 H4.2 Q2.7 6.2 2.7 8.4 Q2.7 10.9 4.8 10.9 H7.6"/><path fill="rgba(255,255,255,.88)" d="M9.7 8.2 H11.9 V13.7 H9.7 a2.75 2.75 0 0 1 0-5.5 Z"/><rect fill="rgba(255,255,255,.88)" x="12.5" y="9.2" width="2.2" height="1.2"/><rect fill="rgba(255,255,255,.88)" x="12.5" y="11.8" width="2.2" height="1.2"/></svg><span class="t" style="letter-spacing:0.368px;top:3835px;font-size:13.6px;line-height:19px;color:#111;font-weight:700;left:310.2px;">Ostatnio edytowane</span><div class="a" style="left:310.2px;top:3866.8px;width:141.9px;height:260.0px;background:#fff;border-radius:5px;"></div><div class="a" style="left:324.1px;top:3881.1px;width:77.8px;height:12.6px;background:#7c5be0;border-radius:6.3px;"></div><svg class="a" style="left:329.1px;top:3884.4px;" width="6" height="6" viewBox="0 0 16 16"><path fill="none" stroke="#fff" stroke-linecap="round" stroke-linejoin="round" stroke-width="1.45" d="M2.7 2.8 H6 Q7.7 2.8 7.7 4.4 Q7.7 6 6 6 H4.2 Q2.7 6.2 2.7 8.4 Q2.7 10.9 4.8 10.9 H7.6"/><path fill="#fff" d="M9.7 8.2 H11.9 V13.7 H9.7 a2.75 2.75 0 0 1 0-5.5 Z"/><rect fill="#fff" x="12.5" y="9.2" width="2.2" height="1.2"/><rect fill="#fff" x="12.5" y="11.8" width="2.2" height="1.2"/></svg><span class="t" style="letter-spacing:0.206px;top:3881px;font-size:7.3px;line-height:13px;color:#fff;font-weight:700;left:339.7px;">ROZDZIELNICA</span><span class="t" style="letter-spacing:0.020px;top:3901px;font-size:11.6px;line-height:16px;color:#111;font-weight:700;left:324.1px;">Rozdzielina</span><div class="a" style="left:324.1px;top:3924.8px;width:58.1px;height:18.0px;background:#d6f4f5;border-radius:9.0px;"></div><span class="t" style="letter-spacing:0.244px;top:3926px;font-size:9.4px;line-height:15px;color:#0d8797;font-weight:700;left:332.5px;">1 SZYNA</span><div class="a" style="left:324.1px;top:3954.1px;width:79.0px;height:18.6px;background:#e2e8f6;border-radius:9.3px;"></div><span class="t" style="letter-spacing:0.428px;top:3956px;font-size:9.4px;line-height:15px;color:#2a5aa5;font-weight:700;left:332.5px;">6 MODUŁÓW</span><span class="t" style="top:4097px;font-size:8.6px;line-height:14px;color:#b0b5bd;left:324.1px;letter-spacing:0.2px;">Edytowano: wczoraj</span><div class="a" style="left:462.8px;top:3866.8px;width:141.9px;height:260.0px;background:#fff;border-radius:5px;"></div><div class="a" style="left:476.7px;top:3881.1px;width:77.8px;height:12.6px;background:#7c5be0;border-radius:6.3px;"></div><svg class="a" style="left:481.7px;top:3884.4px;" width="6" height="6" viewBox="0 0 16 16"><path fill="none" stroke="#fff" stroke-linecap="round" stroke-linejoin="round" stroke-width="1.45" d="M2.7 2.8 H6 Q7.7 2.8 7.7 4.4 Q7.7 6 6 6 H4.2 Q2.7 6.2 2.7 8.4 Q2.7 10.9 4.8 10.9 H7.6"/><path fill="#fff" d="M9.7 8.2 H11.9 V13.7 H9.7 a2.75 2.75 0 0 1 0-5.5 Z"/><rect fill="#fff" x="12.5" y="9.2" width="2.2" height="1.2"/><rect fill="#fff" x="12.5" y="11.8" width="2.2" height="1.2"/></svg><span class="t" style="letter-spacing:0.206px;top:3881px;font-size:7.3px;line-height:13px;color:#fff;font-weight:700;left:492.3px;">ROZDZIELNICA</span><span class="t" style="letter-spacing:-0.070px;top:3901px;font-size:11.6px;line-height:16px;color:#111;font-weight:700;left:476.7px;">Rozdzielnica</span><span class="t" style="letter-spacing:-0.009px;top:3918px;font-size:11.6px;line-height:16px;color:#111;font-weight:700;left:476.7px;">przykładowa nr 2 -</span><span class="t" style="letter-spacing:0.017px;top:3934px;font-size:11.6px;line-height:16px;color:#111;font-weight:700;left:476.7px;">rozdzielnica w domu</span><span class="t" style="letter-spacing:0.004px;top:3951px;font-size:11.6px;line-height:16px;color:#111;font-weight:700;left:476.7px;">jednorodzinym</span><div class="a" style="left:476.7px;top:3974.2px;width:52.6px;height:18.0px;background:#d6f4f5;border-radius:9.0px;"></div><span class="t" style="letter-spacing:0.495px;top:3976px;font-size:9.4px;line-height:15px;color:#0d8797;font-weight:700;left:485.1px;">5 SZYN</span><div class="a" style="left:476.7px;top:4003.4px;width:84.9px;height:18.6px;background:#e2e8f6;border-radius:9.3px;"></div><span class="t" style="letter-spacing:0.455px;top:4005px;font-size:9.4px;line-height:15px;color:#2a5aa5;font-weight:700;left:485.1px;">24 MODUŁÓW</span><span class="t" style="top:4097px;font-size:8.6px;line-height:14px;color:#b0b5bd;left:476.7px;letter-spacing:0.2px;">Edytowano: 2 dni temu</span><div class="a" style="left:615.4px;top:3866.8px;width:141.9px;height:260.0px;background:#fff;border-radius:5px;"></div><div class="a" style="left:629.3px;top:3881.1px;width:51.5px;height:12.6px;background:#f7941d;border-radius:6.3px;"></div><svg class="a" style="left:634.3px;top:3884.2px;" width="6.5" height="6.5" viewBox="0 0 16 16"><rect fill="#fff" x="0" y="4.9" width="2.1" height="6.4"/><rect fill="#fff" x="13.9" y="4.9" width="2.1" height="6.4"/><path fill="#fff" fill-rule="evenodd" d="M3 5.09 L5.6 3.96 Q6.4 3.7 7.2 4.05 L8 4.4 L9.6 3.87 Q10.3 3.7 11 3.96 L13 5.09 V10.4 H12.3 L9.5 12.4 Q8.3 13.1 7.1 12.4 L4.3 10.4 H3 Z M5.7 6.92 L6.3 6.31 L10.9 9.27 L10.3 9.88 Z M7.6 10.84 L8.1 10.31 L9.7 11.36 L9.2 11.88 Z M4.6 8.4 L5.2 7.88 L6.6 8.92 L6 9.44 Z"/></svg><span class="t" style="letter-spacing:0.160px;top:3882px;font-size:7.1px;line-height:12px;color:#fff;font-weight:700;left:645.5px;">OFERTA</span><span class="t" style="letter-spacing:0.107px;top:3901px;font-size:11.6px;line-height:16px;color:#111;font-weight:700;left:629.3px;">Oferta przykładowa</span><span class="t" style="letter-spacing:-0.134px;top:3918px;font-size:11.6px;line-height:16px;color:#111;font-weight:700;left:629.3px;">nr 1 - kompletna</span><span class="t" style="letter-spacing:-0.056px;top:3934px;font-size:11.6px;line-height:16px;color:#111;font-weight:700;left:629.3px;">instalacja</span><span class="t" style="letter-spacing:0.138px;top:3951px;font-size:11.6px;line-height:16px;color:#111;font-weight:700;left:629.3px;">elektryczna w</span><span class="t" style="letter-spacing:-0.059px;top:3967px;font-size:11.6px;line-height:16px;color:#111;font-weight:700;left:629.3px;">budynku</span><span class="t" style="letter-spacing:0.001px;top:3984px;font-size:11.6px;line-height:16px;color:#111;font-weight:700;left:629.3px;">mieszkalnym</span><span class="t" style="letter-spacing:-0.024px;top:4000px;font-size:11.6px;line-height:16px;color:#111;font-weight:700;left:629.3px;">jednorodzinnym</span><div class="a" style="left:629.3px;top:4022.4px;width:61.0px;height:11.9px;background:#eaf5df;border-radius:6px;"></div><span class="t" style="top:4023px;font-size:6.6px;line-height:11px;color:#5b9a1e;font-weight:700;left:659.8px;transform:translateX(-50%);letter-spacing:0.25px;">STWORZONA</span><span class="t" style="letter-spacing:-0.060px;top:4043px;font-size:13.4px;line-height:19px;color:#0f9d55;font-weight:700;left:629.3px;">44 151,82 zł</span><span class="t" style="letter-spacing:0.214px;top:4084px;font-size:8.6px;line-height:14px;color:#b0b5bd;left:629.3px;">Edytowano: 23 stycznia</span><span class="t" style="top:4098px;font-size:8.6px;line-height:14px;color:#b0b5bd;left:629.3px;letter-spacing:0.2px;">2026</span><div class="a" style="left:768.4px;top:3866.8px;width:141.9px;height:260.0px;background:#fff;border-radius:5px;"></div><div class="a" style="left:782.3px;top:3881.1px;width:51.5px;height:12.6px;background:#f7941d;border-radius:6.3px;"></div><svg class="a" style="left:787.3px;top:3884.2px;" width="6.5" height="6.5" viewBox="0 0 16 16"><rect fill="#fff" x="0" y="4.9" width="2.1" height="6.4"/><rect fill="#fff" x="13.9" y="4.9" width="2.1" height="6.4"/><path fill="#fff" fill-rule="evenodd" d="M3 5.09 L5.6 3.96 Q6.4 3.7 7.2 4.05 L8 4.4 L9.6 3.87 Q10.3 3.7 11 3.96 L13 5.09 V10.4 H12.3 L9.5 12.4 Q8.3 13.1 7.1 12.4 L4.3 10.4 H3 Z M5.7 6.92 L6.3 6.31 L10.9 9.27 L10.3 9.88 Z M7.6 10.84 L8.1 10.31 L9.7 11.36 L9.2 11.88 Z M4.6 8.4 L5.2 7.88 L6.6 8.92 L6 9.44 Z"/></svg><span class="t" style="letter-spacing:0.160px;top:3882px;font-size:7.1px;line-height:12px;color:#fff;font-weight:700;left:798.5px;">OFERTA</span><span class="t" style="letter-spacing:0.046px;top:3901px;font-size:11.6px;line-height:16px;color:#111;font-weight:700;left:782.3px;">Oferta przykładowa</span><span class="t" style="letter-spacing:0.147px;top:3918px;font-size:11.6px;line-height:16px;color:#111;font-weight:700;left:782.3px;">nr 2 - wymiana</span><span class="t" style="letter-spacing:-0.033px;top:3934px;font-size:11.6px;line-height:16px;color:#111;font-weight:700;left:782.3px;">instalacji</span><span class="t" style="letter-spacing:0.198px;top:3951px;font-size:11.6px;line-height:16px;color:#111;font-weight:700;left:782.3px;">elektrycznej w</span><span class="t" style="letter-spacing:0.064px;top:3967px;font-size:11.6px;line-height:16px;color:#111;font-weight:700;left:782.3px;">mieszkaniu z</span><span class="t" style="letter-spacing:-0.044px;top:3984px;font-size:11.6px;line-height:16px;color:#111;font-weight:700;left:782.3px;">materiałem klienta</span><div class="a" style="left:782.3px;top:4006.0px;width:61.0px;height:11.9px;background:#eaf5df;border-radius:6px;"></div><span class="t" style="top:4007px;font-size:6.6px;line-height:11px;color:#5b9a1e;font-weight:700;left:812.8px;transform:translateX(-50%);letter-spacing:0.25px;">STWORZONA</span><span class="t" style="letter-spacing:-0.268px;top:4027px;font-size:13.4px;line-height:19px;color:#0f9d55;font-weight:700;left:782.3px;">10 850,00 zł</span><span class="t" style="letter-spacing:0.214px;top:4084px;font-size:8.6px;line-height:14px;color:#b0b5bd;left:782.3px;">Edytowano: 23 stycznia</span><span class="t" style="top:4098px;font-size:8.6px;line-height:14px;color:#b0b5bd;left:782.3px;letter-spacing:0.2px;">2026</span><div class="a" style="left:921.4px;top:3866.8px;width:141.9px;height:260.0px;background:#fff;border-radius:5px;"></div><div class="a" style="left:935.3px;top:3881.1px;width:51.5px;height:12.6px;background:#f7941d;border-radius:6.3px;"></div><svg class="a" style="left:940.3px;top:3884.2px;" width="6.5" height="6.5" viewBox="0 0 16 16"><rect fill="#fff" x="0" y="4.9" width="2.1" height="6.4"/><rect fill="#fff" x="13.9" y="4.9" width="2.1" height="6.4"/><path fill="#fff" fill-rule="evenodd" d="M3 5.09 L5.6 3.96 Q6.4 3.7 7.2 4.05 L8 4.4 L9.6 3.87 Q10.3 3.7 11 3.96 L13 5.09 V10.4 H12.3 L9.5 12.4 Q8.3 13.1 7.1 12.4 L4.3 10.4 H3 Z M5.7 6.92 L6.3 6.31 L10.9 9.27 L10.3 9.88 Z M7.6 10.84 L8.1 10.31 L9.7 11.36 L9.2 11.88 Z M4.6 8.4 L5.2 7.88 L6.6 8.92 L6 9.44 Z"/></svg><span class="t" style="letter-spacing:0.160px;top:3882px;font-size:7.1px;line-height:12px;color:#fff;font-weight:700;left:951.5px;">OFERTA</span><span class="t" style="letter-spacing:0.046px;top:3901px;font-size:11.6px;line-height:16px;color:#111;font-weight:700;left:935.3px;">Oferta przykładowa</span><span class="t" style="letter-spacing:0.066px;top:3918px;font-size:11.6px;line-height:16px;color:#111;font-weight:700;left:935.3px;">nr 3 - rozdzielnica</span><span class="t" style="letter-spacing:-0.319px;top:3934px;font-size:11.6px;line-height:16px;color:#111;font-weight:700;left:935.3px;">pod Smart Home</span><span class="t" style="letter-spacing:-0.144px;top:3951px;font-size:11.6px;line-height:16px;color:#111;font-weight:700;left:935.3px;">Grenton na Profi+</span><span class="t" style="letter-spacing:-0.180px;top:3967px;font-size:11.6px;line-height:16px;color:#111;font-weight:700;left:935.3px;">(xEnergy) EATON</span><div class="a" style="left:935.3px;top:3989.5px;width:61.0px;height:11.9px;background:#eaf5df;border-radius:6px;"></div><span class="t" style="top:3990px;font-size:6.6px;line-height:11px;color:#5b9a1e;font-weight:700;left:965.8px;transform:translateX(-50%);letter-spacing:0.25px;">STWORZONA</span><span class="t" style="letter-spacing:-0.268px;top:4010px;font-size:13.4px;line-height:19px;color:#0f9d55;font-weight:700;left:935.3px;">63 317,77 zł</span><span class="t" style="letter-spacing:0.214px;top:4084px;font-size:8.6px;line-height:14px;color:#b0b5bd;left:935.3px;">Edytowano: 23 stycznia</span><span class="t" style="top:4098px;font-size:8.6px;line-height:14px;color:#b0b5bd;left:935.3px;letter-spacing:0.2px;">2026</span><div class="a" style="left:1074.4px;top:3866.8px;width:141.9px;height:260.0px;background:#fff;border-radius:5px;"></div><div class="a" style="left:1088.3px;top:3881.1px;width:77.8px;height:12.6px;background:#7c5be0;border-radius:6.3px;"></div><svg class="a" style="left:1093.3px;top:3884.4px;" width="6" height="6" viewBox="0 0 16 16"><path fill="none" stroke="#fff" stroke-linecap="round" stroke-linejoin="round" stroke-width="1.45" d="M2.7 2.8 H6 Q7.7 2.8 7.7 4.4 Q7.7 6 6 6 H4.2 Q2.7 6.2 2.7 8.4 Q2.7 10.9 4.8 10.9 H7.6"/><path fill="#fff" d="M9.7 8.2 H11.9 V13.7 H9.7 a2.75 2.75 0 0 1 0-5.5 Z"/><rect fill="#fff" x="12.5" y="9.2" width="2.2" height="1.2"/><rect fill="#fff" x="12.5" y="11.8" width="2.2" height="1.2"/></svg><span class="t" style="letter-spacing:0.206px;top:3881px;font-size:7.3px;line-height:13px;color:#fff;font-weight:700;left:1103.9px;">ROZDZIELNICA</span><span class="t" style="letter-spacing:-0.070px;top:3901px;font-size:11.6px;line-height:16px;color:#111;font-weight:700;left:1088.3px;">Rozdzielnica</span><span class="t" style="letter-spacing:-0.109px;top:3918px;font-size:11.6px;line-height:16px;color:#111;font-weight:700;left:1088.3px;">przykładowa nr 1 -</span><span class="t" style="letter-spacing:-0.248px;top:3934px;font-size:11.6px;line-height:16px;color:#111;font-weight:700;left:1088.3px;">tablica</span><span class="t" style="letter-spacing:-0.049px;top:3951px;font-size:11.6px;line-height:16px;color:#111;font-weight:700;left:1088.3px;">mieszkaniowa</span><div class="a" style="left:1088.3px;top:3974.2px;width:58.5px;height:18.0px;background:#d6f4f5;border-radius:9.0px;"></div><span class="t" style="letter-spacing:0.375px;top:3976px;font-size:9.4px;line-height:15px;color:#0d8797;font-weight:700;left:1096.7px;">2 SZYNY</span><div class="a" style="left:1088.3px;top:4003.4px;width:82.6px;height:18.6px;background:#e2e8f6;border-radius:9.3px;"></div><span class="t" style="letter-spacing:0.225px;top:4005px;font-size:9.4px;line-height:15px;color:#2a5aa5;font-weight:700;left:1096.7px;">18 MODUŁÓW</span><span class="t" style="letter-spacing:0.214px;top:4084px;font-size:8.6px;line-height:14px;color:#b0b5bd;left:1088.3px;">Edytowano: 23 stycznia</span><span class="t" style="top:4098px;font-size:8.6px;line-height:14px;color:#b0b5bd;left:1088.3px;letter-spacing:0.2px;">2026</span><div class="a sc" style="left:0px;top:3417.8px;width:230px;height:700px;transform-origin:0 0;transform:scale(0.987)"><div class="a" style="left:0.0px;top:0.0px;width:213.4px;height:695.3px;background:#2d3743;"></div><span class="t" style="letter-spacing:-0.620px;top:19px;font-size:19.6px;line-height:27px;color:#8c8c8c;left:13.5px;font-family:'DejaVu Sans','Liberation Sans',sans-serif;"><span style="-webkit-text-stroke:0.55px #8c8c8c">strefa</span><span style="color:#14ad4c;-webkit-text-stroke:1px #14ad4c">e</span><span style="-webkit-text-stroke:0.55px #8c8c8c">lektryki</span><span style="color:#14ad4c;-webkit-text-stroke:0.9px #14ad4c">.</span><span style="-webkit-text-stroke:0.55px #8c8c8c">pl</span></span><div class="a" style="left:7.2px;top:70.0px;width:198.8px;height:34.0px;background:#069a51;border-radius:3px;box-shadow:0 1px 3px rgba(0,0,0,.25);"></div><svg class="a" style="left:15.6px;top:78.5px;" width="17.5" height="17.5" viewBox="0 0 16 16"><path fill="#fff" d="M8 1.6 L0.8 8 h2 v6.4 h3.9 V10 h2.6 v4.4 h3.9 V8 h2 L12.6 5.7 V2.6 h-1.9 v1.4 Z"/></svg><span class="t" style="letter-spacing:-0.041px;top:79px;font-size:10.6px;line-height:16px;color:#fff;left:41.6px;-webkit-text-stroke:0.15px currentColor;">Strona główna</span><svg class="a" style="left:15.6px;top:119.9px;" width="17.5" height="17.5" viewBox="0 0 16 16"><path fill="#c9ced6" d="M0.6 3.6 a1.3 1.3 0 0 1 1.3-1.3 h3.9 l1.7 1.7 h6.6 a1.3 1.3 0 0 1 1.3 1.3 v7.1 a1.3 1.3 0 0 1-1.3 1.3 H1.9 a1.3 1.3 0 0 1-1.3-1.3 Z"/></svg><span class="t" style="letter-spacing:0.015px;top:121px;font-size:10.6px;line-height:16px;color:#eef0f3;left:41.6px;-webkit-text-stroke:0.15px currentColor;">Projekty</span><svg class="a" style="left:16.4px;top:162.0px;" width="16" height="16" viewBox="0 0 16 16"><path fill="none" stroke="#c9ced6" stroke-linecap="round" stroke-linejoin="round" stroke-width="1.45" d="M2.7 2.8 H6 Q7.7 2.8 7.7 4.4 Q7.7 6 6 6 H4.2 Q2.7 6.2 2.7 8.4 Q2.7 10.9 4.8 10.9 H7.6"/><path fill="#c9ced6" d="M9.7 8.2 H11.9 V13.7 H9.7 a2.75 2.75 0 0 1 0-5.5 Z"/><rect fill="#c9ced6" x="12.5" y="9.2" width="2.2" height="1.2"/><rect fill="#c9ced6" x="12.5" y="11.8" width="2.2" height="1.2"/></svg><span class="t" style="letter-spacing:-0.064px;top:162px;font-size:10.6px;line-height:16px;color:#eef0f3;left:41.6px;-webkit-text-stroke:0.15px currentColor;">Rozdzielnice</span><svg class="a" style="left:15.6px;top:202.6px;" width="17.5" height="17.5" viewBox="0 0 16 16"><rect fill="#c9ced6" x="0" y="4.9" width="2.1" height="6.4"/><rect fill="#c9ced6" x="13.9" y="4.9" width="2.1" height="6.4"/><path fill="#c9ced6" fill-rule="evenodd" d="M3 5.09 L5.6 3.96 Q6.4 3.7 7.2 4.05 L8 4.4 L9.6 3.87 Q10.3 3.7 11 3.96 L13 5.09 V10.4 H12.3 L9.5 12.4 Q8.3 13.1 7.1 12.4 L4.3 10.4 H3 Z M5.7 6.92 L6.3 6.31 L10.9 9.27 L10.3 9.88 Z M7.6 10.84 L8.1 10.31 L9.7 11.36 L9.2 11.88 Z M4.6 8.4 L5.2 7.88 L6.6 8.92 L6 9.44 Z"/></svg><span class="t" style="letter-spacing:0.109px;top:203px;font-size:10.6px;line-height:16px;color:#eef0f3;left:41.6px;-webkit-text-stroke:0.15px currentColor;">Oferty</span><svg class="a" style="left:187.0px;top:207.2px;" width="9" height="9" viewBox="0 0 16 16"><path fill="none" stroke="#c9ced6" stroke-linecap="round" stroke-linejoin="round" stroke-width="1.6" d="M6.2 3.6 L10.6 8 L6.2 12.4"/></svg><svg class="a" style="left:15.6px;top:244.2px;" width="17.5" height="17.5" viewBox="0 0 16 16"><path fill="#c9ced6" d="M2.8 0.8 h5.7 v4.2 h4.3 v10.2 H2.8 Z M9.6 0.8 L12.8 4 H9.6 Z"/></svg><span class="t" style="letter-spacing:0.034px;top:245px;font-size:10.6px;line-height:16px;color:#eef0f3;left:41.6px;-webkit-text-stroke:0.15px currentColor;">Dokumenty</span><div class="a" style="left:7.2px;top:537.6px;width:198.8px;height:1.0px;background:#414b58;"></div><svg class="a" style="left:16.6px;top:566.5px;" width="15.5" height="15.5" viewBox="0 0 16 16"><path fill="none" stroke="#c9ced6" stroke-linecap="round" stroke-linejoin="round" stroke-width="1.15" d="M13.8 10.4 A6.3 6.3 0 1 1 6.2 1.9 A5 5 0 0 0 13.8 10.4 Z"/></svg><span class="t" style="letter-spacing:0.138px;top:566px;font-size:10.6px;line-height:16px;color:#d3d7de;left:41.6px;-webkit-text-stroke:0.15px currentColor;">Włącz tryb ciemny</span><svg class="a" style="left:16.1px;top:608.0px;" width="16.5" height="16.5" viewBox="0 0 16 16"><path fill="none" stroke="#e5e7eb" stroke-linecap="round" stroke-linejoin="round" stroke-width="1.15" d="M2.6 2.4 h10.8 a1.6 1.6 0 0 1 1.6 1.6 v6 a1.6 1.6 0 0 1-1.6 1.6 H6.4 L3.4 14 v-2.4 H2.6 A1.6 1.6 0 0 1 1 10 V4 A1.6 1.6 0 0 1 2.6 2.4 Z"/><circle fill="#e5e7eb" cx="5.2" cy="7" r="0.9"/><circle fill="#e5e7eb" cx="8" cy="7" r="0.9"/><circle fill="#e5e7eb" cx="10.8" cy="7" r="0.9"/></svg><span class="t" style="letter-spacing:0.028px;top:608px;font-size:10.6px;line-height:16px;color:#eef0f3;left:41.6px;-webkit-text-stroke:0.15px currentColor;">Zgłoś błąd lub sugestię</span><svg class="a" style="left:16.6px;top:649.8px;" width="15.5" height="15.5" viewBox="0 0 16 16"><path fill="#d9dde3" d="M1.2 2.2 h7.2 a0.8 0.8 0 0 1 .8 .8 v3.7 H6 v2.6 h3.2 V13 a0.8 0.8 0 0 1-.8 .8 H1.2 Z"/><path fill="none" stroke="#d9dde3" stroke-linecap="round" stroke-linejoin="round" stroke-width="1.4" d="M7 8 H14.6 M12 5.2 L14.8 8 L12 10.8"/></svg><span class="t" style="letter-spacing:0.038px;top:649px;font-size:10.6px;line-height:16px;color:#eef0f3;left:41.6px;-webkit-text-stroke:0.15px currentColor;">Wyloguj się</span><div class="a" style="left:204.8px;top:13.8px;width:17.2px;height:17.2px;background:#3a4452;border-radius:9px;box-shadow:0 1px 3px rgba(0,0,0,.3);"></div><svg class="a" style="left:208.1px;top:17.6px;" width="9.5" height="9.5" viewBox="0 0 16 16"><path fill="none" stroke="#cfd4db" stroke-linecap="round" stroke-linejoin="round" stroke-width="2.1" d="M9.8 3.6 L5.4 8 L9.8 12.4"/></svg></div></div></div><div class="ft"><span class="t" style="letter-spacing:0.680px;top:40px;font-size:18.2px;line-height:24px;color:#8d939c;left:445.8px;">© 2026</span><span class="t" style="letter-spacing:-0.790px;top:36px;font-size:22.5px;line-height:29px;color:#4b5563;font-weight:700;left:533.0px;"><span style="color:#12a150">e</span>ltrivo</span><span class="t" style="letter-spacing:0.222px;top:40px;font-size:18.2px;line-height:24px;color:#8d939c;left:619.0px;">Wszelkie prawa zastrzeżone.</span></div></body></html>
